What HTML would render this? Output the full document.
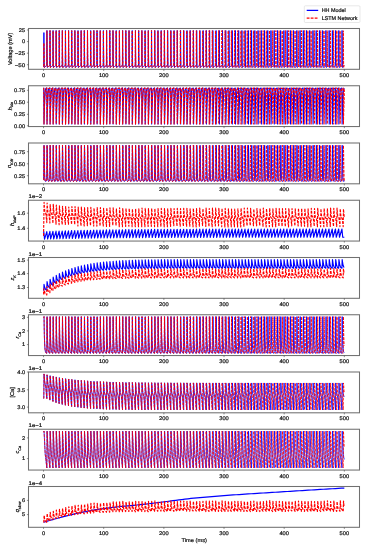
<!DOCTYPE html>
<html><head><meta charset="utf-8"><style>
html,body{margin:0;padding:0;background:#fff;width:368px;height:550px;overflow:hidden;}
svg{display:block;}
text{font-family:"Liberation Sans",sans-serif;text-rendering:geometricPrecision;}
svg{will-change:transform;transform:translateZ(0);}

</style></head><body>
<svg width="368" height="550" viewBox="0 0 368 550" font-family="Liberation Sans, sans-serif"><style>text{fill:#111;stroke:#111;stroke-width:0.2px;}</style>
<rect width="368" height="550" fill="#fff"/>
<g>
<clipPath id="c0"><rect x="28.5" y="28.5" width="331.0" height="40.8"/></clipPath>
<path clip-path="url(#c0)" d="M43.54 66.81 43.73 65.19 43.9 32.57 44.09 53.16 44.29 67.51 44.74 67.14 45.53 66.4 46.58 65.66 46.77 65.19 46.94 30.48 47.13 53.16 47.33 67.51 47.78 67.14 48.56 66.4 49.63 65.66 49.83 65.19 50 30.48 50.19 53.16 50.39 67.51 50.84 67.14 51.62 66.4 52.7 65.66 52.9 65.19 53.07 30.48 53.26 53.16 53.46 67.51 53.91 67.14 54.69 66.4 55.79 65.66 55.98 65.19 56.15 30.48 56.34 53.16 56.54 67.51 56.99 67.14 57.77 66.4 58.88 65.66 59.07 65.19 59.24 30.48 59.43 53.16 59.63 67.51 60.08 67.14 60.87 66.4 61.99 65.66 62.18 65.19 62.35 30.48 62.54 53.16 62.74 67.51 63.19 67.14 63.97 66.4 65.1 65.66 65.3 65.19 65.46 30.48 65.66 53.16 65.86 67.51 66.31 67.14 67.09 66.4 68.23 65.66 68.42 65.19 68.59 30.48 68.78 53.16 68.98 67.51 69.43 67.14 70.21 66.4 71.36 65.66 71.56 65.19 71.72 30.48 71.92 53.16 72.11 67.51 72.57 67.14 73.35 66.4 74.51 65.66 74.7 65.19 74.87 30.48 75.06 53.16 75.26 67.51 75.71 67.14 76.49 66.4 77.65 65.66 77.85 65.19 78.02 30.48 78.21 53.16 78.41 67.51 78.86 67.14 79.64 66.4 80.81 65.66 81 65.19 81.17 30.48 81.36 53.16 81.56 67.51 82.01 67.14 82.8 66.4 83.97 65.66 84.17 65.19 84.33 30.48 84.53 53.16 84.73 67.51 85.18 67.14 85.96 66.4 87.14 65.66 87.33 65.19 87.5 30.48 87.7 53.16 87.89 67.51 88.35 67.14 89.13 66.4 90.32 65.66 90.51 65.19 90.68 30.48 90.87 53.16 91.07 67.51 91.52 67.14 92.3 66.4 93.49 65.66 93.69 65.19 93.85 30.48 94.05 53.16 94.25 67.51 94.7 67.14 95.48 66.4 96.68 65.66 96.87 65.19 97.04 30.48 97.23 53.16 97.43 67.51 97.88 67.14 98.66 66.4 99.86 65.66 100.06 65.19 100.22 30.48 100.42 53.16 100.62 67.51 101.07 67.14 101.85 66.4 103.05 65.66 103.25 65.19 103.41 30.48 103.61 53.16 103.81 67.51 104.26 67.14 105.04 66.4 106.25 65.66 106.44 65.19 106.61 30.48 106.8 53.16 107 67.51 107.45 67.14 108.23 66.4 109.44 65.66 109.64 65.19 109.81 30.48 110 53.16 110.2 67.51 110.65 67.14 111.43 66.4 112.64 65.66 112.84 65.19 113.01 30.48 113.2 53.16 113.4 67.51 113.85 67.14 114.63 66.4 115.85 65.66 116.04 65.19 116.21 30.48 116.4 53.16 116.6 67.51 117.05 67.14 117.83 66.4 119.05 65.66 119.24 65.19 119.41 30.48 119.61 53.16 119.8 67.51 120.26 67.14 121.04 66.4 122.26 65.66 122.45 65.19 122.62 30.48 122.81 53.16 123.01 67.51 123.46 67.14 124.24 66.4 125.47 65.66 125.66 65.19 125.83 30.48 126.02 53.16 126.22 67.51 126.67 67.14 127.45 66.4 128.68 65.66 128.87 65.19 129.04 30.48 129.23 53.16 129.43 67.51 129.88 67.14 130.66 66.4 131.89 65.66 132.08 65.19 132.25 30.48 132.44 53.16 132.64 67.51 133.09 67.14 133.88 66.4 135.11 65.66 135.3 65.19 135.47 30.48 135.66 53.16 135.86 67.51 136.31 67.14 137.09 66.4 138.32 65.66 138.51 65.19 138.68 30.48 138.87 53.16 139.07 67.51 139.52 67.14 140.31 66.4 141.54 65.66 141.73 65.19 141.9 30.48 142.09 53.16 142.29 67.51 142.74 67.14 143.52 66.4 144.76 65.66 144.95 65.19 145.12 30.48 145.31 53.16 145.51 67.51 145.96 67.14 146.74 66.4 147.97 65.66 148.17 65.19 148.34 30.48 148.53 53.16 148.73 67.51 149.18 67.14 149.96 66.4 151.19 65.66 151.39 65.19 151.56 30.48 151.75 53.16 151.95 67.51 152.4 67.14 153.18 66.4 154.42 65.66 154.61 65.19 154.78 30.48 154.97 53.16 155.17 67.51 155.62 67.14 156.4 66.4 157.64 65.66 157.83 65.19 158 30.48 158.19 53.16 158.39 67.51 158.84 67.14 159.62 66.4 160.86 65.66 161.05 65.19 161.22 30.48 161.41 53.16 161.61 67.51 162.06 67.14 162.85 66.4 164.08 65.66 164.28 65.19 164.44 30.48 164.64 53.16 164.84 67.51 165.29 67.14 166.07 66.4 167.31 65.66 167.5 65.19 167.67 30.48 167.86 53.16 168.06 67.51 168.51 67.14 169.29 66.4 170.53 65.66 170.72 65.19 170.89 30.48 171.08 53.16 171.28 67.51 171.73 67.14 172.52 66.4 173.76 65.66 173.95 65.19 174.12 30.48 174.31 53.16 174.51 67.51 174.96 67.14 175.74 66.4 176.98 65.66 177.17 65.19 177.34 30.48 177.54 53.16 177.73 67.51 178.18 67.14 178.97 66.4 180.21 65.66 180.4 65.19 180.57 30.48 180.76 53.16 180.96 67.51 181.41 67.14 182.19 66.4 183.43 65.66 183.63 65.19 183.79 30.48 183.99 53.16 184.19 67.51 184.64 67.14 185.42 66.4 186.66 65.66 186.85 65.19 187.02 30.48 187.21 53.16 187.41 67.51 187.86 67.14 188.65 66.4 189.89 65.66 190.08 65.19 190.25 30.48 190.44 53.16 190.64 67.51 191.09 67.14 191.87 66.4 193.11 65.66 193.31 65.19 193.48 30.48 193.67 53.16 193.87 67.51 194.32 67.14 195.1 66.4 196.34 65.66 196.53 65.19 196.7 30.48 196.9 53.16 197.09 67.51 197.55 67.14 198.33 66.4 199.57 65.66 199.76 65.19 199.93 30.48 200.12 53.16 200.32 67.51 200.77 67.14 201.56 66.4 202.8 65.66 202.99 65.19 203.16 30.48 203.35 53.16 203.55 67.51 204 67.14 204.78 66.4 206.03 65.66 206.22 65.19 206.39 30.48 206.58 53.16 206.78 67.51 207.23 67.14 208.01 66.4 209.25 65.66 209.45 65.19 209.62 30.48 209.81 53.16 210.01 67.51 210.46 67.14 211.24 66.4 212.48 65.66 212.68 65.19 212.84 30.48 213.04 53.16 213.24 67.51 213.69 67.14 214.47 66.4 215.71 65.66 215.9 65.19 216.07 30.48 216.27 53.16 216.46 67.51 216.92 67.14 217.7 66.4 218.94 65.66 219.13 65.19 219.3 30.48 219.49 53.16 219.69 67.51 220.14 67.14 220.93 66.4 222.17 65.66 222.36 65.19 222.53 30.48 222.72 53.16 222.92 67.51 223.37 67.14 224.16 66.4 225.4 65.66 225.59 65.19 225.76 30.48 225.95 53.16 226.15 67.51 226.6 67.14 227.38 66.4 228.63 65.66 228.82 65.19 228.99 30.48 229.18 53.16 229.38 67.51 229.83 67.14 230.61 66.4 231.86 65.66 232.05 65.19 232.22 30.48 232.41 53.16 232.61 67.51 233.06 67.14 233.84 66.4 235.09 65.66 235.28 65.19 235.45 30.48 235.64 53.16 235.84 67.51 236.29 67.14 237.07 66.4 238.32 65.66 238.51 65.19 238.68 30.48 238.87 53.16 239.07 67.51 239.52 67.14 240.3 66.4 241.55 65.66 241.74 65.19 241.91 30.48 242.1 53.16 242.3 67.51 242.75 67.14 243.53 66.4 244.78 65.66 244.97 65.19 245.14 30.48 245.33 53.16 245.53 67.51 245.98 67.14 246.76 66.4 248.01 65.66 248.2 65.19 248.37 30.48 248.56 53.16 248.76 67.51 249.21 67.14 249.99 66.4 251.24 65.66 251.43 65.19 251.6 30.48 251.79 53.16 251.99 67.51 252.44 67.14 253.22 66.4 254.47 65.66 254.66 65.19 254.83 30.48 255.02 53.16 255.22 67.51 255.67 67.14 256.45 66.4 257.7 65.66 257.89 65.19 258.06 30.48 258.25 53.16 258.45 67.51 258.9 67.14 259.68 66.4 260.93 65.66 261.12 65.19 261.29 30.48 261.48 53.16 261.68 67.51 262.13 67.14 262.91 66.4 264.16 65.66 264.35 65.19 264.52 30.48 264.71 53.16 264.91 67.51 265.36 67.14 266.14 66.4 267.39 65.66 267.58 65.19 267.75 30.48 267.94 53.16 268.14 67.51 268.59 67.14 269.37 66.4 270.62 65.66 270.81 65.19 270.98 30.48 271.17 53.16 271.37 67.51 271.82 67.14 272.6 66.4 273.85 65.66 274.04 65.19 274.21 30.48 274.4 53.16 274.6 67.51 275.05 67.14 275.83 66.4 277.08 65.66 277.27 65.19 277.44 30.48 277.63 53.16 277.83 67.51 278.28 67.14 279.06 66.4 280.31 65.66 280.5 65.19 280.67 30.48 280.86 53.16 281.06 67.51 281.51 67.14 282.29 66.4 283.54 65.66 283.73 65.19 283.9 30.48 284.09 53.16 284.29 67.51 284.74 67.14 285.52 66.4 286.77 65.66 286.96 65.19 287.13 30.48 287.32 53.16 287.52 67.51 287.97 67.14 288.75 66.4 290 65.66 290.19 65.19 290.36 30.48 290.55 53.16 290.75 67.51 291.2 67.14 291.98 66.4 293.23 65.66 293.42 65.19 293.59 30.48 293.78 53.16 293.98 67.51 294.43 67.14 295.22 66.4 296.46 65.66 296.65 65.19 296.82 30.48 297.01 53.16 297.21 67.51 297.66 67.14 298.45 66.4 299.69 65.66 299.88 65.19 300.05 30.48 300.24 53.16 300.44 67.51 300.89 67.14 301.68 66.4 302.92 65.66 303.11 65.19 303.28 30.48 303.47 53.16 303.67 67.51 304.12 67.14 304.91 66.4 306.15 65.66 306.34 65.19 306.51 30.48 306.71 53.16 306.9 67.51 307.35 67.14 308.14 66.4 309.38 65.66 309.57 65.19 309.74 30.48 309.94 53.16 310.13 67.51 310.59 67.14 311.37 66.4 312.61 65.66 312.81 65.19 312.97 30.48 313.17 53.16 313.36 67.51 313.82 67.14 314.6 66.4 315.84 65.66 316.04 65.19 316.2 30.48 316.4 53.16 316.59 67.51 317.05 67.14 317.83 66.4 319.07 65.66 319.27 65.19 319.43 30.48 319.63 53.16 319.83 67.51 320.28 67.14 321.06 66.4 322.3 65.66 322.5 65.19 322.66 30.48 322.86 53.16 323.06 67.51 323.51 67.14 324.29 66.4 325.53 65.66 325.73 65.19 325.9 30.48 326.09 53.16 326.29 67.51 326.74 67.14 327.52 66.4 328.76 65.66 328.96 65.19 329.13 30.48 329.32 53.16 329.52 67.51 329.97 67.14 330.75 66.4 332 65.66 332.19 65.19 332.36 30.48 332.55 53.16 332.75 67.51 333.2 67.14 333.98 66.4 335.23 65.66 335.42 65.19 335.59 30.48 335.78 53.16 335.98 67.51 336.43 67.14 337.21 66.4 338.46 65.66 338.65 65.19 338.82 30.48 339.01 53.16 339.21 67.51 339.66 67.14 340.44 66.4 341.69 65.66 341.88 65.19 342.05 30.48 342.24 53.16 342.44 67.51 342.89 67.14 343.67 66.4 344.34 65.66" fill="none" stroke="#00f" stroke-width="0.95" stroke-linejoin="round"/>
<path clip-path="url(#c0)" d="M43.54 66.81 43.73 65.19 43.9 42.98 44.09 53.16 44.29 67.51 44.74 67.14 45.52 66.4 46.58 65.66 46.77 65.19 46.94 30.72 47.13 53.16 47.33 67.51 47.78 67.14 48.56 66.4 49.63 65.66 49.82 65.19 49.99 30.57 50.18 53.16 50.38 67.51 50.83 67.14 51.62 66.4 52.7 65.66 52.89 65.19 53.06 30.75 53.25 53.16 53.45 67.51 53.9 67.14 54.69 66.4 55.78 65.66 55.97 65.19 56.14 30.73 56.34 53.16 56.53 67.51 56.99 67.14 57.77 66.4 58.88 65.66 59.07 65.19 59.24 30.59 59.43 53.16 59.63 67.51 60.08 67.14 60.86 66.4 61.98 65.66 62.17 65.19 62.34 30.61 62.54 53.16 62.73 67.51 63.19 67.14 63.97 66.4 65.1 65.66 65.29 65.19 65.46 30.63 65.65 53.16 65.85 67.51 66.3 67.14 67.08 66.4 68.22 65.66 68.41 65.19 68.58 30.66 68.78 53.16 68.97 67.51 69.43 67.14 70.21 66.4 71.36 65.66 71.55 65.19 71.72 30.65 71.91 53.16 72.11 67.51 72.56 67.14 73.34 66.4 74.5 65.66 74.69 65.19 74.86 30.64 75.05 53.16 75.25 67.51 75.7 67.14 76.48 66.4 77.65 65.66 77.84 65.19 78.01 30.65 78.2 53.16 78.4 67.51 78.85 67.14 79.63 66.4 80.8 65.66 80.99 65.19 81.16 30.74 81.35 53.16 81.55 67.51 82 67.14 82.79 66.4 83.96 65.66 84.16 65.19 84.32 30.62 84.52 53.16 84.72 67.51 85.17 67.14 85.95 66.4 87.13 65.66 87.32 65.19 87.49 30.6 87.68 53.16 87.88 67.51 88.33 67.14 89.12 66.4 90.3 65.66 90.49 65.19 90.66 30.68 90.86 53.16 91.05 67.51 91.51 67.14 92.29 66.4 93.48 65.66 93.67 65.19 93.84 30.55 94.03 53.16 94.23 67.51 94.68 67.14 95.46 66.4 96.66 65.66 96.85 65.19 97.02 30.57 97.21 53.16 97.41 67.51 97.86 67.14 98.65 66.4 99.85 65.66 100.04 65.19 100.21 30.75 100.4 53.16 100.6 67.51 101.05 67.14 101.83 66.4 103.03 65.66 103.23 65.19 103.39 30.63 103.59 53.16 103.79 67.51 104.24 67.14 105.02 66.4 106.23 65.66 106.42 65.19 106.59 30.64 106.78 53.16 106.98 67.51 107.43 67.14 108.21 66.4 109.42 65.66 109.61 65.19 109.78 30.49 109.97 53.16 110.17 67.51 110.62 67.14 111.41 66.4 112.62 65.66 112.81 65.19 112.98 30.6 113.17 53.16 113.37 67.51 113.82 67.14 114.6 66.4 115.82 65.66 116.01 65.19 116.18 30.64 116.37 53.16 116.57 67.51 117.02 67.14 117.8 66.4 119.02 65.66 119.21 65.19 119.38 30.49 119.57 53.16 119.77 67.51 120.22 67.14 121 66.4 122.22 65.66 122.41 65.19 122.58 30.65 122.77 53.16 122.97 67.51 123.42 67.14 124.21 66.4 125.43 65.66 125.62 65.19 125.79 30.66 125.98 53.16 126.18 67.51 126.63 67.14 127.41 66.4 128.63 65.66 128.82 65.19 128.99 30.5 129.19 53.16 129.38 67.51 129.84 67.14 130.62 66.4 131.84 65.66 132.03 65.19 132.2 30.66 132.39 53.16 132.59 67.51 133.04 67.14 133.83 66.4 135.05 65.66 135.24 65.19 135.41 30.61 135.6 53.16 135.8 67.51 136.25 67.14 137.03 66.4 138.26 65.66 138.45 65.19 138.62 30.67 138.81 53.16 139.01 67.51 139.46 67.14 140.24 66.4 141.47 65.66 141.66 65.19 141.83 30.58 142.02 53.16 142.22 67.51 142.67 67.14 143.45 66.4 144.68 65.66 144.87 65.19 145.04 30.68 145.23 53.16 145.43 67.51 145.88 67.14 146.66 66.4 147.89 65.66 148.08 65.19 148.25 30.69 148.44 53.16 148.64 67.51 149.09 67.14 149.87 66.4 151.1 65.66 151.29 65.19 151.46 30.49 151.65 53.16 151.85 67.51 152.3 67.14 153.08 66.4 154.31 65.66 154.5 65.19 154.67 30.5 154.86 53.16 155.06 67.51 155.51 67.14 156.29 66.4 157.52 65.66 157.71 65.19 157.88 30.67 158.07 53.16 158.27 67.51 158.72 67.14 159.51 66.4 160.73 65.66 160.92 65.19 161.09 30.75 161.28 53.16 161.48 67.51 161.93 67.14 162.72 66.4 163.94 65.66 164.13 65.19 164.3 30.55 164.49 53.16 164.69 67.51 165.14 67.14 165.92 66.4 167.15 65.66 167.34 65.19 167.51 30.61 167.7 53.16 167.9 67.51 168.35 67.14 169.13 66.4 170.36 65.66 170.55 65.19 170.72 30.65 170.91 53.16 171.11 67.51 171.56 67.14 172.34 66.4 173.56 65.66 173.76 65.19 173.92 30.57 174.12 53.16 174.32 67.51 174.77 67.14 175.55 66.4 176.77 65.66 176.96 65.19 177.13 30.58 177.32 53.16 177.52 67.51 177.97 67.14 178.75 66.4 179.97 65.66 180.17 65.19 180.33 30.57 180.53 53.16 180.73 67.51 181.18 67.14 181.96 66.4 183.18 65.66 183.37 65.19 183.54 30.59 183.73 53.16 183.93 67.51 184.38 67.14 185.16 66.4 186.38 65.66 186.57 65.19 186.74 30.65 186.93 53.16 187.13 67.51 187.58 67.14 188.36 66.4 189.58 65.66 189.77 65.19 189.94 30.57 190.13 53.16 190.33 67.51 190.78 67.14 191.56 66.4 192.78 65.66 192.97 65.19 193.14 30.59 193.33 53.16 193.53 67.51 193.98 67.14 194.76 66.4 195.97 65.66 196.16 65.19 196.33 30.7 196.53 53.16 196.72 67.51 197.18 67.14 197.96 66.4 199.17 65.66 199.36 65.19 199.53 30.49 199.72 53.16 199.92 67.51 200.37 67.14 201.15 66.4 202.36 65.66 202.55 65.19 202.72 30.64 202.91 53.16 203.11 67.51 203.56 67.14 204.34 66.4 205.55 65.66 205.74 65.19 205.91 30.69 206.1 53.16 206.3 67.51 206.75 67.14 207.53 66.4 208.74 65.66 208.93 65.19 209.1 30.57 209.29 53.16 209.49 67.51 209.94 67.14 210.72 66.4 211.92 65.66 212.12 65.19 212.28 30.54 212.48 53.16 212.67 67.51 213.13 67.14 213.91 66.4 215.11 65.66 215.3 65.19 215.47 30.71 215.66 53.16 215.86 67.51 216.31 67.14 217.09 66.4 218.29 65.66 218.48 65.19 218.65 30.55 218.84 53.16 219.04 67.51 219.49 67.14 220.27 66.4 221.47 65.66 221.66 65.19 221.83 30.53 222.02 53.16 222.22 67.51 222.67 67.14 223.45 66.4 224.65 65.66 224.84 65.19 225.01 30.6 225.2 53.16 225.4 67.51 225.85 67.14 226.63 66.4 227.83 65.66 228.02 65.19 228.19 30.68 228.38 53.16 228.58 67.51 229.03 67.14 229.81 66.4 231 65.66 231.2 65.19 231.36 30.51 231.56 53.16 231.75 67.51 232.21 67.14 232.99 66.4 234.18 65.66 234.37 65.19 234.54 30.57 234.73 53.16 234.93 67.51 235.38 67.14 236.16 66.4 237.35 65.66 237.55 65.19 237.71 30.58 237.91 53.16 238.11 67.51 238.56 67.14 239.34 66.4 240.53 65.66 240.72 65.19 240.89 30.71 241.08 53.16 241.28 67.51 241.73 67.14 242.51 66.4 243.7 65.66 243.9 65.19 244.06 30.6 244.26 53.16 244.46 67.51 244.91 67.14 245.69 66.4 246.88 65.66 247.07 65.19 247.24 30.72 247.43 53.16 247.63 67.51 248.08 67.14 248.86 66.4 250.05 65.66 250.25 65.19 250.42 30.53 250.61 53.16 250.81 67.51 251.26 67.14 252.04 66.4 253.23 65.66 253.42 65.19 253.59 30.58 253.79 53.16 253.98 67.51 254.43 67.14 255.22 66.4 256.41 65.66 256.6 65.19 256.77 30.66 256.96 53.16 257.16 67.51 257.61 67.14 258.39 66.4 259.59 65.66 259.78 65.19 259.95 30.73 260.14 53.16 260.34 67.51 260.79 67.14 261.57 66.4 262.77 65.66 262.96 65.19 263.13 30.61 263.32 53.16 263.52 67.51 263.97 67.14 264.76 66.4 265.95 65.66 266.15 65.19 266.31 30.55 266.51 53.16 266.71 67.51 267.16 67.14 267.94 66.4 269.14 65.66 269.33 65.19 269.5 30.52 269.69 53.16 269.89 67.51 270.34 67.14 271.12 66.4 272.33 65.66 272.52 65.19 272.69 30.63 272.88 53.16 273.08 67.51 273.53 67.14 274.31 66.4 275.52 65.66 275.71 65.19 275.88 30.54 276.07 53.16 276.27 67.51 276.72 67.14 277.5 66.4 278.71 65.66 278.9 65.19 279.07 30.71 279.26 53.16 279.46 67.51 279.91 67.14 280.69 66.4 281.9 65.66 282.09 65.19 282.26 30.72 282.46 53.16 282.65 67.51 283.1 67.14 283.89 66.4 285.1 65.66 285.29 65.19 285.46 30.53 285.65 53.16 285.85 67.51 286.3 67.14 287.08 66.4 288.3 65.66 288.49 65.19 288.66 30.56 288.85 53.16 289.05 67.51 289.5 67.14 290.28 66.4 291.5 65.66 291.69 65.19 291.86 30.71 292.05 53.16 292.25 67.51 292.7 67.14 293.48 66.4 294.7 65.66 294.89 65.19 295.06 30.66 295.25 53.16 295.45 67.51 295.9 67.14 296.69 66.4 297.91 65.66 298.1 65.19 298.27 30.71 298.46 53.16 298.66 67.51 299.11 67.14 299.89 66.4 301.11 65.66 301.31 65.19 301.47 30.58 301.67 53.16 301.86 67.51 302.32 67.14 303.1 66.4 304.32 65.66 304.51 65.19 304.68 30.52 304.87 53.16 305.07 67.51 305.52 67.14 306.31 66.4 307.53 65.66 307.72 65.19 307.89 30.56 308.09 53.16 308.28 67.51 308.74 67.14 309.52 66.4 310.74 65.66 310.94 65.19 311.11 30.7 311.3 53.16 311.5 67.51 311.95 67.14 312.73 66.4 313.96 65.66 314.15 65.19 314.32 30.56 314.51 53.16 314.71 67.51 315.16 67.14 315.94 66.4 317.17 65.66 317.37 65.19 317.53 30.58 317.73 53.16 317.93 67.51 318.38 67.14 319.16 66.4 320.39 65.66 320.58 65.19 320.75 30.6 320.94 53.16 321.14 67.51 321.59 67.14 322.38 66.4 323.61 65.66 323.8 65.19 323.97 30.6 324.16 53.16 324.36 67.51 324.81 67.14 325.59 66.4 326.83 65.66 327.02 65.19 327.19 30.6 327.38 53.16 327.58 67.51 328.03 67.14 328.81 66.4 330.05 65.66 330.24 65.19 330.41 30.74 330.6 53.16 330.8 67.51 331.25 67.14 332.03 66.4 333.27 65.66 333.46 65.19 333.63 30.53 333.82 53.16 334.02 67.51 334.47 67.14 335.25 66.4 336.49 65.66 336.68 65.19 336.85 30.48 337.04 53.16 337.24 67.51 337.69 67.14 338.48 66.4 339.71 65.66 339.91 65.19 340.07 30.74 340.27 53.16 340.46 67.51 340.92 67.14 341.7 66.4 342.94 65.66 343.13 65.19 343.3 30.73 343.49 53.16 343.69 67.51 344.14 67.14 344.34 65.66" fill="none" stroke="#f00" stroke-width="0.95" stroke-dasharray="2.8 1.2" stroke-linejoin="round"/>
<rect x="28.5" y="28.5" width="331.0" height="40.8" fill="none" stroke="#707070" stroke-width="1.05"/>
<path d="M43.54 69.3v1.6 M103.7 69.3v1.6 M163.86 69.3v1.6 M224.02 69.3v1.6 M284.18 69.3v1.6 M344.34 69.3v1.6 M28.5 30h-1.6 M28.5 41.6h-1.6 M28.5 53.2h-1.6 M28.5 64.7h-1.6" stroke="#444" stroke-width="0.6"/>
<text x="43.54" y="76.9" font-size="5.3" text-anchor="middle" textLength="3.18" lengthAdjust="spacingAndGlyphs">0</text>
<text x="103.7" y="76.9" font-size="5.3" text-anchor="middle" textLength="9.54" lengthAdjust="spacingAndGlyphs">100</text>
<text x="163.86" y="76.9" font-size="5.3" text-anchor="middle" textLength="9.54" lengthAdjust="spacingAndGlyphs">200</text>
<text x="224.02" y="76.9" font-size="5.3" text-anchor="middle" textLength="9.54" lengthAdjust="spacingAndGlyphs">300</text>
<text x="284.18" y="76.9" font-size="5.3" text-anchor="middle" textLength="9.54" lengthAdjust="spacingAndGlyphs">400</text>
<text x="344.34" y="76.9" font-size="5.3" text-anchor="middle" textLength="9.54" lengthAdjust="spacingAndGlyphs">500</text>
<text x="25.2" y="31.85" font-size="5.3" text-anchor="end" textLength="6.36" lengthAdjust="spacingAndGlyphs">25</text>
<text x="25.2" y="43.45" font-size="5.3" text-anchor="end" textLength="3.18" lengthAdjust="spacingAndGlyphs">0</text>
<text x="25.2" y="55.05" font-size="5.3" text-anchor="end" textLength="10.55" lengthAdjust="spacingAndGlyphs">−25</text>
<text x="25.2" y="66.55" font-size="5.3" text-anchor="end" textLength="10.55" lengthAdjust="spacingAndGlyphs">−50</text>
<text transform="translate(12.0 48.9) rotate(-90)" font-size="5.6" text-anchor="middle" fill="#111">Voltage (mV)</text>
<clipPath id="c1"><rect x="28.5" y="85.75" width="331.0" height="40.8"/></clipPath>
<path clip-path="url(#c1)" d="M43.54 87.99 43.75 87.99 43.99 124.04 44.2 116.45 44.44 107.91 44.74 99.37 45.04 93.68 45.4 89.89 45.83 88.46 46.79 87.99 46.79 87.99 47.03 124.04 47.24 116.45 47.48 107.91 47.78 99.37 48.08 93.68 48.44 89.89 48.87 88.46 49.85 87.99 49.85 87.99 50.09 124.04 50.3 116.45 50.54 107.91 50.84 99.37 51.14 93.68 51.5 89.89 51.92 88.46 52.91 87.99 52.91 87.99 53.16 124.04 53.37 116.45 53.61 107.91 53.91 99.37 54.21 93.68 54.57 89.89 54.99 88.46 56 87.99 56 87.99 56.24 124.04 56.45 116.45 56.69 107.91 56.99 99.37 57.29 93.68 57.65 89.89 58.07 88.46 59.09 87.99 59.09 87.99 59.33 124.04 59.54 116.45 59.78 107.91 60.08 99.37 60.39 93.68 60.75 89.89 61.17 88.46 62.2 87.99 62.2 87.99 62.44 124.04 62.65 116.45 62.89 107.91 63.19 99.37 63.49 93.68 63.85 89.89 64.27 88.46 65.31 87.99 65.31 87.99 65.55 124.04 65.76 116.45 66.01 107.91 66.31 99.37 66.61 93.68 66.97 89.89 67.39 88.46 68.44 87.99 68.44 87.99 68.68 124.04 68.89 116.45 69.13 107.91 69.43 99.37 69.73 93.68 70.09 89.89 70.51 88.46 71.57 87.99 71.57 87.99 71.81 124.04 72.02 116.45 72.27 107.91 72.57 99.37 72.87 93.68 73.23 89.89 73.65 88.46 74.72 87.99 74.72 87.99 74.96 124.04 75.17 116.45 75.41 107.91 75.71 99.37 76.01 93.68 76.37 89.89 76.79 88.46 77.87 87.99 77.87 87.99 78.11 124.04 78.32 116.45 78.56 107.91 78.86 99.37 79.16 93.68 79.52 89.89 79.94 88.46 81.02 87.99 81.02 87.99 81.26 124.04 81.47 116.45 81.71 107.91 82.01 99.37 82.32 93.68 82.68 89.89 83.1 88.46 84.18 87.99 84.18 87.99 84.42 124.04 84.64 116.45 84.88 107.91 85.18 99.37 85.48 93.68 85.84 89.89 86.26 88.46 87.35 87.99 87.35 87.99 87.59 124.04 87.8 116.45 88.04 107.91 88.35 99.37 88.65 93.68 89.01 89.89 89.43 88.46 90.53 87.99 90.53 87.99 90.77 124.04 90.98 116.45 91.22 107.91 91.52 99.37 91.82 93.68 92.18 89.89 92.6 88.46 93.7 87.99 93.7 87.99 93.95 124.04 94.16 116.45 94.4 107.91 94.7 99.37 95 93.68 95.36 89.89 95.78 88.46 96.89 87.99 96.89 87.99 97.13 124.04 97.34 116.45 97.58 107.91 97.88 99.37 98.18 93.68 98.54 89.89 98.96 88.46 100.07 87.99 100.07 87.99 100.31 124.04 100.53 116.45 100.77 107.91 101.07 99.37 101.37 93.68 101.73 89.89 102.15 88.46 103.26 87.99 103.26 87.99 103.51 124.04 103.72 116.45 103.96 107.91 104.26 99.37 104.56 93.68 104.92 89.89 105.34 88.46 106.46 87.99 106.46 87.99 106.7 124.04 106.91 116.45 107.15 107.91 107.45 99.37 107.75 93.68 108.11 89.89 108.53 88.46 109.66 87.99 109.66 87.99 109.9 124.04 110.11 116.45 110.35 107.91 110.65 99.37 110.95 93.68 111.31 89.89 111.73 88.46 112.86 87.99 112.86 87.99 113.1 124.04 113.31 116.45 113.55 107.91 113.85 99.37 114.15 93.68 114.51 89.89 114.93 88.46 116.06 87.99 116.06 87.99 116.3 124.04 116.51 116.45 116.75 107.91 117.05 99.37 117.35 93.68 117.71 89.89 118.13 88.46 119.26 87.99 119.26 87.99 119.5 124.04 119.71 116.45 119.95 107.91 120.26 99.37 120.56 93.68 120.92 89.89 121.34 88.46 122.47 87.99 122.47 87.99 122.71 124.04 122.92 116.45 123.16 107.91 123.46 99.37 123.76 93.68 124.12 89.89 124.55 88.46 125.68 87.99 125.68 87.99 125.92 124.04 126.13 116.45 126.37 107.91 126.67 99.37 126.97 93.68 127.33 89.89 127.75 88.46 128.89 87.99 128.89 87.99 129.13 124.04 129.34 116.45 129.58 107.91 129.88 99.37 130.18 93.68 130.54 89.89 130.96 88.46 132.1 87.99 132.1 87.99 132.34 124.04 132.55 116.45 132.79 107.91 133.09 99.37 133.4 93.68 133.76 89.89 134.18 88.46 135.32 87.99 135.32 87.99 135.56 124.04 135.77 116.45 136.01 107.91 136.31 99.37 136.61 93.68 136.97 89.89 137.39 88.46 138.53 87.99 138.53 87.99 138.77 124.04 138.98 116.45 139.22 107.91 139.52 99.37 139.82 93.68 140.19 89.89 140.61 88.46 141.75 87.99 141.75 87.99 141.99 124.04 142.2 116.45 142.44 107.91 142.74 99.37 143.04 93.68 143.4 89.89 143.82 88.46 144.97 87.99 144.97 87.99 145.21 124.04 145.42 116.45 145.66 107.91 145.96 99.37 146.26 93.68 146.62 89.89 147.04 88.46 148.19 87.99 148.19 87.99 148.43 124.04 148.64 116.45 148.88 107.91 149.18 99.37 149.48 93.68 149.84 89.89 150.26 88.46 151.41 87.99 151.41 87.99 151.65 124.04 151.86 116.45 152.1 107.91 152.4 99.37 152.7 93.68 153.06 89.89 153.48 88.46 154.63 87.99 154.63 87.99 154.87 124.04 155.08 116.45 155.32 107.91 155.62 99.37 155.92 93.68 156.28 89.89 156.7 88.46 157.85 87.99 157.85 87.99 158.09 124.04 158.3 116.45 158.54 107.91 158.84 99.37 159.14 93.68 159.5 89.89 159.92 88.46 161.07 87.99 161.07 87.99 161.31 124.04 161.52 116.45 161.76 107.91 162.06 99.37 162.36 93.68 162.72 89.89 163.15 88.46 164.29 87.99 164.29 87.99 164.53 124.04 164.74 116.45 164.99 107.91 165.29 99.37 165.59 93.68 165.95 89.89 166.37 88.46 167.52 87.99 167.52 87.99 167.76 124.04 167.97 116.45 168.21 107.91 168.51 99.37 168.81 93.68 169.17 89.89 169.59 88.46 170.74 87.99 170.74 87.99 170.98 124.04 171.19 116.45 171.43 107.91 171.73 99.37 172.04 93.68 172.4 89.89 172.82 88.46 173.97 87.99 173.97 87.99 174.21 124.04 174.42 116.45 174.66 107.91 174.96 99.37 175.26 93.68 175.62 89.89 176.04 88.46 177.19 87.99 177.19 87.99 177.43 124.04 177.64 116.45 177.88 107.91 178.18 99.37 178.49 93.68 178.85 89.89 179.27 88.46 180.42 87.99 180.42 87.99 180.66 124.04 180.87 116.45 181.11 107.91 181.41 99.37 181.71 93.68 182.07 89.89 182.49 88.46 183.64 87.99 183.64 87.99 183.89 124.04 184.1 116.45 184.34 107.91 184.64 99.37 184.94 93.68 185.3 89.89 185.72 88.46 186.87 87.99 186.87 87.99 187.11 124.04 187.32 116.45 187.56 107.91 187.86 99.37 188.16 93.68 188.53 89.89 188.95 88.46 190.1 87.99 190.1 87.99 190.34 124.04 190.55 116.45 190.79 107.91 191.09 99.37 191.39 93.68 191.75 89.89 192.17 88.46 193.33 87.99 193.33 87.99 193.57 124.04 193.78 116.45 194.02 107.91 194.32 99.37 194.62 93.68 194.98 89.89 195.4 88.46 196.55 87.99 196.55 87.99 196.79 124.04 197 116.45 197.24 107.91 197.55 99.37 197.85 93.68 198.21 89.89 198.63 88.46 199.78 87.99 199.78 87.99 200.02 124.04 200.23 116.45 200.47 107.91 200.77 99.37 201.07 93.68 201.44 89.89 201.86 88.46 203.01 87.99 203.01 87.99 203.25 124.04 203.46 116.45 203.7 107.91 204 99.37 204.3 93.68 204.66 89.89 205.08 88.46 206.24 87.99 206.24 87.99 206.48 124.04 206.69 116.45 206.93 107.91 207.23 99.37 207.53 93.68 207.89 89.89 208.31 88.46 209.47 87.99 209.47 87.99 209.71 124.04 209.92 116.45 210.16 107.91 210.46 99.37 210.76 93.68 211.12 89.89 211.54 88.46 212.69 87.99 212.69 87.99 212.93 124.04 213.15 116.45 213.39 107.91 213.69 99.37 213.99 93.68 214.35 89.89 214.77 88.46 215.92 87.99 215.92 87.99 216.16 124.04 216.37 116.45 216.61 107.91 216.92 99.37 217.22 93.68 217.58 89.89 218 88.46 219.15 87.99 219.15 87.99 219.39 124.04 219.6 116.45 219.84 107.91 220.14 99.37 220.45 93.68 220.81 89.89 221.23 88.46 222.38 87.99 222.38 87.99 222.62 124.04 222.83 116.45 223.07 107.91 223.37 99.37 223.67 93.68 224.04 89.89 224.46 88.46 225.61 87.99 225.61 87.99 225.85 124.04 226.06 116.45 226.3 107.91 226.6 99.37 226.9 93.68 227.26 89.89 227.69 88.46 228.84 87.99 228.84 87.99 229.08 124.04 229.29 116.45 229.53 107.91 229.83 99.37 230.13 93.68 230.49 89.89 230.92 88.46 232.07 87.99 232.07 87.99 232.31 124.04 232.52 116.45 232.76 107.91 233.06 99.37 233.36 93.68 233.72 89.89 234.14 88.46 235.3 87.99 235.3 87.99 235.54 124.04 235.75 116.45 235.99 107.91 236.29 99.37 236.59 93.68 236.95 89.89 237.37 88.46 238.53 87.99 238.53 87.99 238.77 124.04 238.98 116.45 239.22 107.91 239.52 99.37 239.82 93.68 240.18 89.89 240.6 88.46 241.76 87.99 241.76 87.99 242 124.04 242.21 116.45 242.45 107.91 242.75 99.37 243.05 93.68 243.41 89.89 243.83 88.46 244.99 87.99 244.99 87.99 245.23 124.04 245.44 116.45 245.68 107.91 245.98 99.37 246.28 93.68 246.64 89.89 247.06 88.46 248.22 87.99 248.22 87.99 248.46 124.04 248.67 116.45 248.91 107.91 249.21 99.37 249.51 93.68 249.87 89.89 250.29 88.46 251.45 87.99 251.45 87.99 251.69 124.04 251.9 116.45 252.14 107.91 252.44 99.37 252.74 93.68 253.1 89.89 253.52 88.46 254.68 87.99 254.68 87.99 254.92 124.04 255.13 116.45 255.37 107.91 255.67 99.37 255.97 93.68 256.33 89.89 256.75 88.46 257.91 87.99 257.91 87.99 258.15 124.04 258.36 116.45 258.6 107.91 258.9 99.37 259.2 93.68 259.56 89.89 259.98 88.46 261.14 87.99 261.14 87.99 261.38 124.04 261.59 116.45 261.83 107.91 262.13 99.37 262.43 93.68 262.79 89.89 263.21 88.46 264.37 87.99 264.37 87.99 264.61 124.04 264.82 116.45 265.06 107.91 265.36 99.37 265.66 93.68 266.02 89.89 266.44 88.46 267.6 87.99 267.6 87.99 267.84 124.04 268.05 116.45 268.29 107.91 268.59 99.37 268.89 93.68 269.25 89.89 269.67 88.46 270.83 87.99 270.83 87.99 271.07 124.04 271.28 116.45 271.52 107.91 271.82 99.37 272.12 93.68 272.48 89.89 272.9 88.46 274.06 87.99 274.06 87.99 274.3 124.04 274.51 116.45 274.75 107.91 275.05 99.37 275.35 93.68 275.71 89.89 276.13 88.46 277.29 87.99 277.29 87.99 277.53 124.04 277.74 116.45 277.98 107.91 278.28 99.37 278.58 93.68 278.94 89.89 279.36 88.46 280.52 87.99 280.52 87.99 280.76 124.04 280.97 116.45 281.21 107.91 281.51 99.37 281.81 93.68 282.17 89.89 282.59 88.46 283.75 87.99 283.75 87.99 283.99 124.04 284.2 116.45 284.44 107.91 284.74 99.37 285.04 93.68 285.4 89.89 285.82 88.46 286.98 87.99 286.98 87.99 287.22 124.04 287.43 116.45 287.67 107.91 287.97 99.37 288.27 93.68 288.63 89.89 289.06 88.46 290.21 87.99 290.21 87.99 290.45 124.04 290.66 116.45 290.9 107.91 291.2 99.37 291.5 93.68 291.86 89.89 292.29 88.46 293.44 87.99 293.44 87.99 293.68 124.04 293.89 116.45 294.13 107.91 294.43 99.37 294.73 93.68 295.09 89.89 295.52 88.46 296.67 87.99 296.67 87.99 296.91 124.04 297.12 116.45 297.36 107.91 297.66 99.37 297.96 93.68 298.33 89.89 298.75 88.46 299.9 87.99 299.9 87.99 300.14 124.04 300.35 116.45 300.59 107.91 300.89 99.37 301.19 93.68 301.56 89.89 301.98 88.46 303.13 87.99 303.13 87.99 303.37 124.04 303.58 116.45 303.82 107.91 304.12 99.37 304.43 93.68 304.79 89.89 305.21 88.46 306.36 87.99 306.36 87.99 306.6 124.04 306.81 116.45 307.05 107.91 307.35 99.37 307.66 93.68 308.02 89.89 308.44 88.46 309.59 87.99 309.59 87.99 309.83 124.04 310.04 116.45 310.28 107.91 310.59 99.37 310.89 93.68 311.25 89.89 311.67 88.46 312.82 87.99 312.82 87.99 313.06 124.04 313.27 116.45 313.51 107.91 313.82 99.37 314.12 93.68 314.48 89.89 314.9 88.46 316.05 87.99 316.05 87.99 316.29 124.04 316.5 116.45 316.75 107.91 317.05 99.37 317.35 93.68 317.71 89.89 318.13 88.46 319.28 87.99 319.28 87.99 319.52 124.04 319.74 116.45 319.98 107.91 320.28 99.37 320.58 93.68 320.94 89.89 321.36 88.46 322.51 87.99 322.51 87.99 322.76 124.04 322.97 116.45 323.21 107.91 323.51 99.37 323.81 93.68 324.17 89.89 324.59 88.46 325.75 87.99 325.75 87.99 325.99 124.04 326.2 116.45 326.44 107.91 326.74 99.37 327.04 93.68 327.4 89.89 327.82 88.46 328.98 87.99 328.98 87.99 329.22 124.04 329.43 116.45 329.67 107.91 329.97 99.37 330.27 93.68 330.63 89.89 331.05 88.46 332.21 87.99 332.21 87.99 332.45 124.04 332.66 116.45 332.9 107.91 333.2 99.37 333.5 93.68 333.86 89.89 334.28 88.46 335.44 87.99 335.44 87.99 335.68 124.04 335.89 116.45 336.13 107.91 336.43 99.37 336.73 93.68 337.09 89.89 337.51 88.46 338.67 87.99 338.67 87.99 338.91 124.04 339.12 116.45 339.36 107.91 339.66 99.37 339.96 93.68 340.32 89.89 340.74 88.46 341.9 87.99 341.9 87.99 342.14 124.04 342.35 116.45 342.59 107.91 342.89 99.37 343.19 93.68 343.55 89.89 343.97 88.46 344.34 87.99" fill="none" stroke="#00f" stroke-width="1.1" stroke-linejoin="round"/>
<path clip-path="url(#c1)" d="M43.54 87.99 43.75 87.99 43.99 124.04 44.2 116.45 44.44 107.91 44.74 99.37 45.04 93.68 45.4 89.89 45.82 88.46 46.79 87.99 46.79 87.99 47.03 124.04 47.24 116.45 47.48 107.91 47.78 99.37 48.08 93.68 48.44 89.89 48.86 88.46 49.84 87.99 49.84 87.99 50.08 124.04 50.29 116.45 50.53 107.91 50.83 99.37 51.14 93.68 51.5 89.89 51.92 88.46 52.91 87.99 52.91 87.99 53.15 124.04 53.36 116.45 53.6 107.91 53.9 99.37 54.2 93.68 54.57 89.89 54.99 88.46 55.99 87.99 55.99 87.99 56.23 124.04 56.44 116.45 56.68 107.91 56.99 99.37 57.29 93.68 57.65 89.89 58.07 88.46 59.09 87.99 59.09 87.99 59.33 124.04 59.54 116.45 59.78 107.91 60.08 99.37 60.38 93.68 60.74 89.89 61.16 88.46 62.19 87.99 62.19 87.99 62.43 124.04 62.64 116.45 62.88 107.91 63.19 99.37 63.49 93.68 63.85 89.89 64.27 88.46 65.31 87.99 65.31 87.99 65.55 124.04 65.76 116.45 66 107.91 66.3 99.37 66.6 93.68 66.96 89.89 67.38 88.46 68.43 87.99 68.43 87.99 68.67 124.04 68.88 116.45 69.12 107.91 69.43 99.37 69.73 93.68 70.09 89.89 70.51 88.46 71.57 87.99 71.57 87.99 71.81 124.04 72.02 116.45 72.26 107.91 72.56 99.37 72.86 93.68 73.22 89.89 73.64 88.46 74.71 87.99 74.71 87.99 74.95 124.04 75.16 116.45 75.4 107.91 75.7 99.37 76 93.68 76.36 89.89 76.78 88.46 77.86 87.99 77.86 87.99 78.1 124.04 78.31 116.45 78.55 107.91 78.85 99.37 79.15 93.68 79.51 89.89 79.93 88.46 81.01 87.99 81.01 87.99 81.25 124.04 81.46 116.45 81.7 107.91 82 99.37 82.31 93.68 82.67 89.89 83.09 88.46 84.17 87.99 84.17 87.99 84.41 124.04 84.62 116.45 84.87 107.91 85.17 99.37 85.47 93.68 85.83 89.89 86.25 88.46 87.34 87.99 87.34 87.99 87.58 124.04 87.79 116.45 88.03 107.91 88.33 99.37 88.63 93.68 89 89.89 89.42 88.46 90.51 87.99 90.51 87.99 90.75 124.04 90.96 116.45 91.2 107.91 91.51 99.37 91.81 93.68 92.17 89.89 92.59 88.46 93.69 87.99 93.69 87.99 93.93 124.04 94.14 116.45 94.38 107.91 94.68 99.37 94.98 93.68 95.34 89.89 95.77 88.46 96.87 87.99 96.87 87.99 97.11 124.04 97.32 116.45 97.56 107.91 97.86 99.37 98.16 93.68 98.53 89.89 98.95 88.46 100.06 87.99 100.06 87.99 100.3 124.04 100.51 116.45 100.75 107.91 101.05 99.37 101.35 93.68 101.71 89.89 102.13 88.46 103.24 87.99 103.24 87.99 103.49 124.04 103.7 116.45 103.94 107.91 104.24 99.37 104.54 93.68 104.9 89.89 105.32 88.46 106.44 87.99 106.44 87.99 106.68 124.04 106.89 116.45 107.13 107.91 107.43 99.37 107.73 93.68 108.09 89.89 108.51 88.46 109.63 87.99 109.63 87.99 109.87 124.04 110.08 116.45 110.32 107.91 110.62 99.37 110.92 93.68 111.28 89.89 111.71 88.46 112.83 87.99 112.83 87.99 113.07 124.04 113.28 116.45 113.52 107.91 113.82 99.37 114.12 93.68 114.48 89.89 114.9 88.46 116.03 87.99 116.03 87.99 116.27 124.04 116.48 116.45 116.72 107.91 117.02 99.37 117.32 93.68 117.68 89.89 118.1 88.46 119.23 87.99 119.23 87.99 119.47 124.04 119.68 116.45 119.92 107.91 120.22 99.37 120.52 93.68 120.88 89.89 121.3 88.46 122.43 87.99 122.43 87.99 122.67 124.04 122.88 116.45 123.12 107.91 123.42 99.37 123.73 93.68 124.09 89.89 124.51 88.46 125.64 87.99 125.64 87.99 125.88 124.04 126.09 116.45 126.33 107.91 126.63 99.37 126.93 93.68 127.29 89.89 127.71 88.46 128.84 87.99 128.84 87.99 129.08 124.04 129.29 116.45 129.53 107.91 129.84 99.37 130.14 93.68 130.5 89.89 130.92 88.46 132.05 87.99 132.05 87.99 132.29 124.04 132.5 116.45 132.74 107.91 133.04 99.37 133.34 93.68 133.7 89.89 134.13 88.46 135.26 87.99 135.26 87.99 135.5 124.04 135.71 116.45 135.95 107.91 136.25 99.37 136.55 93.68 136.91 89.89 137.33 88.46 138.47 87.99 138.47 87.99 138.71 124.04 138.92 116.45 139.16 107.91 139.46 99.37 139.76 93.68 140.12 89.89 140.54 88.46 141.68 87.99 141.68 87.99 141.92 124.04 142.13 116.45 142.37 107.91 142.67 99.37 142.97 93.68 143.33 89.89 143.75 88.46 144.89 87.99 144.89 87.99 145.13 124.04 145.34 116.45 145.58 107.91 145.88 99.37 146.18 93.68 146.54 89.89 146.96 88.46 148.1 87.99 148.1 87.99 148.34 124.04 148.55 116.45 148.79 107.91 149.09 99.37 149.39 93.68 149.75 89.89 150.17 88.46 151.31 87.99 151.31 87.99 151.55 124.04 151.76 116.45 152 107.91 152.3 99.37 152.6 93.68 152.96 89.89 153.38 88.46 154.52 87.99 154.52 87.99 154.76 124.04 154.97 116.45 155.21 107.91 155.51 99.37 155.81 93.68 156.17 89.89 156.6 88.46 157.73 87.99 157.73 87.99 157.97 124.04 158.18 116.45 158.42 107.91 158.72 99.37 159.02 93.68 159.38 89.89 159.81 88.46 160.94 87.99 160.94 87.99 161.18 124.04 161.39 116.45 161.63 107.91 161.93 99.37 162.23 93.68 162.59 89.89 163.02 88.46 164.15 87.99 164.15 87.99 164.39 124.04 164.6 116.45 164.84 107.91 165.14 99.37 165.44 93.68 165.8 89.89 166.23 88.46 167.36 87.99 167.36 87.99 167.6 124.04 167.81 116.45 168.05 107.91 168.35 99.37 168.65 93.68 169.01 89.89 169.43 88.46 170.57 87.99 170.57 87.99 170.81 124.04 171.02 116.45 171.26 107.91 171.56 99.37 171.86 93.68 172.22 89.89 172.64 88.46 173.77 87.99 173.77 87.99 174.01 124.04 174.22 116.45 174.47 107.91 174.77 99.37 175.07 93.68 175.43 89.89 175.85 88.46 176.98 87.99 176.98 87.99 177.22 124.04 177.43 116.45 177.67 107.91 177.97 99.37 178.27 93.68 178.63 89.89 179.06 88.46 180.18 87.99 180.18 87.99 180.42 124.04 180.64 116.45 180.88 107.91 181.18 99.37 181.48 93.68 181.84 89.89 182.26 88.46 183.39 87.99 183.39 87.99 183.63 124.04 183.84 116.45 184.08 107.91 184.38 99.37 184.68 93.68 185.04 89.89 185.46 88.46 186.59 87.99 186.59 87.99 186.83 124.04 187.04 116.45 187.28 107.91 187.58 99.37 187.88 93.68 188.24 89.89 188.66 88.46 189.79 87.99 189.79 87.99 190.03 124.04 190.24 116.45 190.48 107.91 190.78 99.37 191.08 93.68 191.44 89.89 191.86 88.46 192.99 87.99 192.99 87.99 193.23 124.04 193.44 116.45 193.68 107.91 193.98 99.37 194.28 93.68 194.64 89.89 195.06 88.46 196.18 87.99 196.18 87.99 196.42 124.04 196.63 116.45 196.87 107.91 197.18 99.37 197.48 93.68 197.84 89.89 198.26 88.46 199.38 87.99 199.38 87.99 199.62 124.04 199.83 116.45 200.07 107.91 200.37 99.37 200.67 93.68 201.03 89.89 201.45 88.46 202.57 87.99 202.57 87.99 202.81 124.04 203.02 116.45 203.26 107.91 203.56 99.37 203.86 93.68 204.22 89.89 204.64 88.46 205.76 87.99 205.76 87.99 206 124.04 206.21 116.45 206.45 107.91 206.75 99.37 207.05 93.68 207.41 89.89 207.83 88.46 208.95 87.99 208.95 87.99 209.19 124.04 209.4 116.45 209.64 107.91 209.94 99.37 210.24 93.68 210.6 89.89 211.02 88.46 212.13 87.99 212.13 87.99 212.37 124.04 212.58 116.45 212.83 107.91 213.13 99.37 213.43 93.68 213.79 89.89 214.21 88.46 215.32 87.99 215.32 87.99 215.56 124.04 215.77 116.45 216.01 107.91 216.31 99.37 216.61 93.68 216.97 89.89 217.39 88.46 218.5 87.99 218.5 87.99 218.74 124.04 218.95 116.45 219.19 107.91 219.49 99.37 219.79 93.68 220.15 89.89 220.58 88.46 221.68 87.99 221.68 87.99 221.92 124.04 222.13 116.45 222.37 107.91 222.67 99.37 222.97 93.68 223.33 89.89 223.76 88.46 224.86 87.99 224.86 87.99 225.1 124.04 225.31 116.45 225.55 107.91 225.85 99.37 226.15 93.68 226.51 89.89 226.93 88.46 228.04 87.99 228.04 87.99 228.28 124.04 228.49 116.45 228.73 107.91 229.03 99.37 229.33 93.68 229.69 89.89 230.11 88.46 231.21 87.99 231.21 87.99 231.45 124.04 231.66 116.45 231.91 107.91 232.21 99.37 232.51 93.68 232.87 89.89 233.29 88.46 234.39 87.99 234.39 87.99 234.63 124.04 234.84 116.45 235.08 107.91 235.38 99.37 235.68 93.68 236.04 89.89 236.46 88.46 237.56 87.99 237.56 87.99 237.8 124.04 238.02 116.45 238.26 107.91 238.56 99.37 238.86 93.68 239.22 89.89 239.64 88.46 240.74 87.99 240.74 87.99 240.98 124.04 241.19 116.45 241.43 107.91 241.73 99.37 242.03 93.68 242.39 89.89 242.81 88.46 243.91 87.99 243.91 87.99 244.15 124.04 244.37 116.45 244.61 107.91 244.91 99.37 245.21 93.68 245.57 89.89 245.99 88.46 247.09 87.99 247.09 87.99 247.33 124.04 247.54 116.45 247.78 107.91 248.08 99.37 248.38 93.68 248.74 89.89 249.16 88.46 250.27 87.99 250.27 87.99 250.51 124.04 250.72 116.45 250.96 107.91 251.26 99.37 251.56 93.68 251.92 89.89 252.34 88.46 253.44 87.99 253.44 87.99 253.68 124.04 253.89 116.45 254.13 107.91 254.43 99.37 254.74 93.68 255.1 89.89 255.52 88.46 256.62 87.99 256.62 87.99 256.86 124.04 257.07 116.45 257.31 107.91 257.61 99.37 257.91 93.68 258.27 89.89 258.7 88.46 259.8 87.99 259.8 87.99 260.04 124.04 260.25 116.45 260.49 107.91 260.79 99.37 261.09 93.68 261.45 89.89 261.88 88.46 262.98 87.99 262.98 87.99 263.22 124.04 263.43 116.45 263.67 107.91 263.97 99.37 264.27 93.68 264.64 89.89 265.06 88.46 266.16 87.99 266.16 87.99 266.4 124.04 266.62 116.45 266.86 107.91 267.16 99.37 267.46 93.68 267.82 89.89 268.24 88.46 269.35 87.99 269.35 87.99 269.59 124.04 269.8 116.45 270.04 107.91 270.34 99.37 270.64 93.68 271 89.89 271.42 88.46 272.54 87.99 272.54 87.99 272.78 124.04 272.99 116.45 273.23 107.91 273.53 99.37 273.83 93.68 274.19 89.89 274.61 88.46 275.73 87.99 275.73 87.99 275.97 124.04 276.18 116.45 276.42 107.91 276.72 99.37 277.02 93.68 277.38 89.89 277.8 88.46 278.92 87.99 278.92 87.99 279.16 124.04 279.37 116.45 279.61 107.91 279.91 99.37 280.21 93.68 280.57 89.89 280.99 88.46 282.11 87.99 282.11 87.99 282.35 124.04 282.56 116.45 282.8 107.91 283.1 99.37 283.41 93.68 283.77 89.89 284.19 88.46 285.31 87.99 285.31 87.99 285.55 124.04 285.76 116.45 286 107.91 286.3 99.37 286.6 93.68 286.96 89.89 287.38 88.46 288.51 87.99 288.51 87.99 288.75 124.04 288.96 116.45 289.2 107.91 289.5 99.37 289.8 93.68 290.16 89.89 290.58 88.46 291.71 87.99 291.71 87.99 291.95 124.04 292.16 116.45 292.4 107.91 292.7 99.37 293 93.68 293.36 89.89 293.78 88.46 294.91 87.99 294.91 87.99 295.15 124.04 295.36 116.45 295.6 107.91 295.9 99.37 296.2 93.68 296.57 89.89 296.99 88.46 298.12 87.99 298.12 87.99 298.36 124.04 298.57 116.45 298.81 107.91 299.11 99.37 299.41 93.68 299.77 89.89 300.19 88.46 301.32 87.99 301.32 87.99 301.56 124.04 301.77 116.45 302.01 107.91 302.32 99.37 302.62 93.68 302.98 89.89 303.4 88.46 304.53 87.99 304.53 87.99 304.77 124.04 304.98 116.45 305.22 107.91 305.52 99.37 305.83 93.68 306.19 89.89 306.61 88.46 307.74 87.99 307.74 87.99 307.98 124.04 308.19 116.45 308.43 107.91 308.74 99.37 309.04 93.68 309.4 89.89 309.82 88.46 310.95 87.99 310.95 87.99 311.2 124.04 311.41 116.45 311.65 107.91 311.95 99.37 312.25 93.68 312.61 89.89 313.03 88.46 314.17 87.99 314.17 87.99 314.41 124.04 314.62 116.45 314.86 107.91 315.16 99.37 315.46 93.68 315.82 89.89 316.24 88.46 317.38 87.99 317.38 87.99 317.62 124.04 317.84 116.45 318.08 107.91 318.38 99.37 318.68 93.68 319.04 89.89 319.46 88.46 320.6 87.99 320.6 87.99 320.84 124.04 321.05 116.45 321.29 107.91 321.59 99.37 321.89 93.68 322.26 89.89 322.68 88.46 323.82 87.99 323.82 87.99 324.06 124.04 324.27 116.45 324.51 107.91 324.81 99.37 325.11 93.68 325.47 89.89 325.89 88.46 327.04 87.99 327.04 87.99 327.28 124.04 327.49 116.45 327.73 107.91 328.03 99.37 328.33 93.68 328.69 89.89 329.11 88.46 330.26 87.99 330.26 87.99 330.5 124.04 330.71 116.45 330.95 107.91 331.25 99.37 331.55 93.68 331.91 89.89 332.33 88.46 333.48 87.99 333.48 87.99 333.72 124.04 333.93 116.45 334.17 107.91 334.47 99.37 334.77 93.68 335.13 89.89 335.55 88.46 336.7 87.99 336.7 87.99 336.94 124.04 337.15 116.45 337.39 107.91 337.69 99.37 337.99 93.68 338.36 89.89 338.78 88.46 339.92 87.99 339.92 87.99 340.16 124.04 340.37 116.45 340.62 107.91 340.92 99.37 341.22 93.68 341.58 89.89 342 88.46 343.15 87.99 343.15 87.99 343.39 124.04 343.6 116.45 343.84 107.91 344.14 99.37 344.34 87.99" fill="none" stroke="#f00" stroke-width="1.1" stroke-dasharray="2.8 1.2" stroke-linejoin="round"/>
<rect x="28.5" y="85.75" width="331.0" height="40.8" fill="none" stroke="#707070" stroke-width="1.05"/>
<path d="M43.54 126.55v1.6 M103.7 126.55v1.6 M163.86 126.55v1.6 M224.02 126.55v1.6 M284.18 126.55v1.6 M344.34 126.55v1.6 M28.5 90.3h-1.6 M28.5 102.2h-1.6 M28.5 114.3h-1.6 M28.5 125.8h-1.6" stroke="#444" stroke-width="0.6"/>
<text x="43.54" y="134.15" font-size="5.3" text-anchor="middle" textLength="3.18" lengthAdjust="spacingAndGlyphs">0</text>
<text x="103.7" y="134.15" font-size="5.3" text-anchor="middle" textLength="9.54" lengthAdjust="spacingAndGlyphs">100</text>
<text x="163.86" y="134.15" font-size="5.3" text-anchor="middle" textLength="9.54" lengthAdjust="spacingAndGlyphs">200</text>
<text x="224.02" y="134.15" font-size="5.3" text-anchor="middle" textLength="9.54" lengthAdjust="spacingAndGlyphs">300</text>
<text x="284.18" y="134.15" font-size="5.3" text-anchor="middle" textLength="9.54" lengthAdjust="spacingAndGlyphs">400</text>
<text x="344.34" y="134.15" font-size="5.3" text-anchor="middle" textLength="9.54" lengthAdjust="spacingAndGlyphs">500</text>
<text x="25.2" y="92.15" font-size="5.3" text-anchor="end" textLength="11.13" lengthAdjust="spacingAndGlyphs">0.75</text>
<text x="25.2" y="104.05" font-size="5.3" text-anchor="end" textLength="11.13" lengthAdjust="spacingAndGlyphs">0.50</text>
<text x="25.2" y="116.15" font-size="5.3" text-anchor="end" textLength="11.13" lengthAdjust="spacingAndGlyphs">0.25</text>
<text x="25.2" y="127.65" font-size="5.3" text-anchor="end" textLength="11.13" lengthAdjust="spacingAndGlyphs">0.00</text>
<text transform="translate(11.700000000000001 106.15) rotate(-90)" font-size="5.6" text-anchor="middle" fill="#111"><tspan font-style="italic">h</tspan><tspan font-size="3.92" dy="1.2" font-style="italic">Na</tspan></text>
<clipPath id="c2"><rect x="28.5" y="143" width="331.0" height="40.8"/></clipPath>
<path clip-path="url(#c2)" d="M43.54 180.05 43.66 179.81 43.87 161.33 44.05 145.25 44.26 153.17 44.47 168.53 44.74 178.13 45.16 181.01 45.65 181.49 46.7 180.05 46.7 179.81 46.91 161.33 47.09 145.25 47.3 153.17 47.51 168.53 47.78 178.13 48.2 181.01 48.69 181.49 49.76 180.05 49.76 179.81 49.97 161.33 50.15 145.25 50.36 153.17 50.57 168.53 50.84 178.13 51.26 181.01 51.74 181.49 52.82 180.05 52.82 179.81 53.03 161.33 53.22 145.25 53.43 153.17 53.64 168.53 53.91 178.13 54.33 181.01 54.81 181.49 55.91 180.05 55.91 179.81 56.12 161.33 56.3 145.25 56.51 153.17 56.72 168.53 56.99 178.13 57.41 181.01 57.89 181.49 59 180.05 59 179.81 59.21 161.33 59.39 145.25 59.6 153.17 59.81 168.53 60.08 178.13 60.51 181.01 60.99 181.49 62.11 180.05 62.11 179.81 62.32 161.33 62.5 145.25 62.71 153.17 62.92 168.53 63.19 178.13 63.61 181.01 64.09 181.49 65.22 180.05 65.22 179.81 65.43 161.33 65.61 145.25 65.82 153.17 66.04 168.53 66.31 178.13 66.73 181.01 67.21 181.49 68.35 180.05 68.35 179.81 68.56 161.33 68.74 145.25 68.95 153.17 69.16 168.53 69.43 178.13 69.85 181.01 70.33 181.49 71.48 180.05 71.48 179.81 71.69 161.33 71.87 145.25 72.08 153.17 72.3 168.53 72.57 178.13 72.99 181.01 73.47 181.49 74.63 180.05 74.63 179.81 74.84 161.33 75.02 145.25 75.23 153.17 75.44 168.53 75.71 178.13 76.13 181.01 76.61 181.49 77.78 180.05 77.78 179.81 77.99 161.33 78.17 145.25 78.38 153.17 78.59 168.53 78.86 178.13 79.28 181.01 79.76 181.49 80.93 180.05 80.93 179.81 81.14 161.33 81.32 145.25 81.53 153.17 81.74 168.53 82.01 178.13 82.44 181.01 82.92 181.49 84.09 180.05 84.09 179.81 84.3 161.33 84.49 145.25 84.7 153.17 84.91 168.53 85.18 178.13 85.6 181.01 86.08 181.49 87.26 180.05 87.26 179.81 87.47 161.33 87.65 145.25 87.86 153.17 88.07 168.53 88.35 178.13 88.77 181.01 89.25 181.49 90.44 180.05 90.44 179.81 90.65 161.33 90.83 145.25 91.04 153.17 91.25 168.53 91.52 178.13 91.94 181.01 92.42 181.49 93.61 180.05 93.61 179.81 93.82 161.33 94.01 145.25 94.22 153.17 94.43 168.53 94.7 178.13 95.12 181.01 95.6 181.49 96.8 180.05 96.8 179.81 97.01 161.33 97.19 145.25 97.4 153.17 97.61 168.53 97.88 178.13 98.3 181.01 98.78 181.49 99.98 180.05 99.98 179.81 100.19 161.33 100.37 145.25 100.59 153.17 100.8 168.53 101.07 178.13 101.49 181.01 101.97 181.49 103.17 180.05 103.17 179.81 103.38 161.33 103.57 145.25 103.78 153.17 103.99 168.53 104.26 178.13 104.68 181.01 105.16 181.49 106.37 180.05 106.37 179.81 106.58 161.33 106.76 145.25 106.97 153.17 107.18 168.53 107.45 178.13 107.87 181.01 108.35 181.49 109.57 180.05 109.57 179.81 109.78 161.33 109.96 145.25 110.17 153.17 110.38 168.53 110.65 178.13 111.07 181.01 111.55 181.49 112.77 180.05 112.77 179.81 112.98 161.33 113.16 145.25 113.37 153.17 113.58 168.53 113.85 178.13 114.27 181.01 114.75 181.49 115.97 180.05 115.97 179.81 116.18 161.33 116.36 145.25 116.57 153.17 116.78 168.53 117.05 178.13 117.47 181.01 117.95 181.49 119.17 180.05 119.17 179.81 119.38 161.33 119.56 145.25 119.77 153.17 119.98 168.53 120.26 178.13 120.68 181.01 121.16 181.49 122.38 180.05 122.38 179.81 122.59 161.33 122.77 145.25 122.98 153.17 123.19 168.53 123.46 178.13 123.88 181.01 124.36 181.49 125.59 180.05 125.59 179.81 125.8 161.33 125.98 145.25 126.19 153.17 126.4 168.53 126.67 178.13 127.09 181.01 127.57 181.49 128.8 180.05 128.8 179.81 129.01 161.33 129.19 145.25 129.4 153.17 129.61 168.53 129.88 178.13 130.3 181.01 130.78 181.49 132.01 180.05 132.01 179.81 132.22 161.33 132.4 145.25 132.61 153.17 132.82 168.53 133.09 178.13 133.52 181.01 134 181.49 135.23 180.05 135.23 179.81 135.44 161.33 135.62 145.25 135.83 153.17 136.04 168.53 136.31 178.13 136.73 181.01 137.21 181.49 138.44 180.05 138.44 179.81 138.65 161.33 138.83 145.25 139.04 153.17 139.25 168.53 139.52 178.13 139.95 181.01 140.43 181.49 141.66 180.05 141.66 179.81 141.87 161.33 142.05 145.25 142.26 153.17 142.47 168.53 142.74 178.13 143.16 181.01 143.64 181.49 144.88 180.05 144.88 179.81 145.09 161.33 145.27 145.25 145.48 153.17 145.69 168.53 145.96 178.13 146.38 181.01 146.86 181.49 148.1 180.05 148.1 179.81 148.31 161.33 148.49 145.25 148.7 153.17 148.91 168.53 149.18 178.13 149.6 181.01 150.08 181.49 151.32 180.05 151.32 179.81 151.53 161.33 151.71 145.25 151.92 153.17 152.13 168.53 152.4 178.13 152.82 181.01 153.3 181.49 154.54 180.05 154.54 179.81 154.75 161.33 154.93 145.25 155.14 153.17 155.35 168.53 155.62 178.13 156.04 181.01 156.52 181.49 157.76 180.05 157.76 179.81 157.97 161.33 158.15 145.25 158.36 153.17 158.57 168.53 158.84 178.13 159.26 181.01 159.74 181.49 160.98 180.05 160.98 179.81 161.19 161.33 161.37 145.25 161.58 153.17 161.79 168.53 162.06 178.13 162.48 181.01 162.97 181.49 164.2 180.05 164.2 179.81 164.41 161.33 164.59 145.25 164.81 153.17 165.02 168.53 165.29 178.13 165.71 181.01 166.19 181.49 167.43 180.05 167.43 179.81 167.64 161.33 167.82 145.25 168.03 153.17 168.24 168.53 168.51 178.13 168.93 181.01 169.41 181.49 170.65 180.05 170.65 179.81 170.86 161.33 171.04 145.25 171.25 153.17 171.46 168.53 171.73 178.13 172.16 181.01 172.64 181.49 173.88 180.05 173.88 179.81 174.09 161.33 174.27 145.25 174.48 153.17 174.69 168.53 174.96 178.13 175.38 181.01 175.86 181.49 177.1 180.05 177.1 179.81 177.31 161.33 177.49 145.25 177.7 153.17 177.91 168.53 178.18 178.13 178.61 181.01 179.09 181.49 180.33 180.05 180.33 179.81 180.54 161.33 180.72 145.25 180.93 153.17 181.14 168.53 181.41 178.13 181.83 181.01 182.31 181.49 183.55 180.05 183.55 179.81 183.76 161.33 183.95 145.25 184.16 153.17 184.37 168.53 184.64 178.13 185.06 181.01 185.54 181.49 186.78 180.05 186.78 179.81 186.99 161.33 187.17 145.25 187.38 153.17 187.59 168.53 187.86 178.13 188.28 181.01 188.77 181.49 190.01 180.05 190.01 179.81 190.22 161.33 190.4 145.25 190.61 153.17 190.82 168.53 191.09 178.13 191.51 181.01 191.99 181.49 193.24 180.05 193.24 179.81 193.45 161.33 193.63 145.25 193.84 153.17 194.05 168.53 194.32 178.13 194.74 181.01 195.22 181.49 196.46 180.05 196.46 179.81 196.67 161.33 196.85 145.25 197.06 153.17 197.27 168.53 197.55 178.13 197.97 181.01 198.45 181.49 199.69 180.05 199.69 179.81 199.9 161.33 200.08 145.25 200.29 153.17 200.5 168.53 200.77 178.13 201.19 181.01 201.68 181.49 202.92 180.05 202.92 179.81 203.13 161.33 203.31 145.25 203.52 153.17 203.73 168.53 204 178.13 204.42 181.01 204.9 181.49 206.15 180.05 206.15 179.81 206.36 161.33 206.54 145.25 206.75 153.17 206.96 168.53 207.23 178.13 207.65 181.01 208.13 181.49 209.38 180.05 209.38 179.81 209.59 161.33 209.77 145.25 209.98 153.17 210.19 168.53 210.46 178.13 210.88 181.01 211.36 181.49 212.6 180.05 212.6 179.81 212.81 161.33 212.99 145.25 213.21 153.17 213.42 168.53 213.69 178.13 214.11 181.01 214.59 181.49 215.83 180.05 215.83 179.81 216.04 161.33 216.22 145.25 216.43 153.17 216.64 168.53 216.92 178.13 217.34 181.01 217.82 181.49 219.06 180.05 219.06 179.81 219.27 161.33 219.45 145.25 219.66 153.17 219.87 168.53 220.14 178.13 220.57 181.01 221.05 181.49 222.29 180.05 222.29 179.81 222.5 161.33 222.68 145.25 222.89 153.17 223.1 168.53 223.37 178.13 223.79 181.01 224.28 181.49 225.52 180.05 225.52 179.81 225.73 161.33 225.91 145.25 226.12 153.17 226.33 168.53 226.6 178.13 227.02 181.01 227.51 181.49 228.75 180.05 228.75 179.81 228.96 161.33 229.14 145.25 229.35 153.17 229.56 168.53 229.83 178.13 230.25 181.01 230.73 181.49 231.98 180.05 231.98 179.81 232.19 161.33 232.37 145.25 232.58 153.17 232.79 168.53 233.06 178.13 233.48 181.01 233.96 181.49 235.21 180.05 235.21 179.81 235.42 161.33 235.6 145.25 235.81 153.17 236.02 168.53 236.29 178.13 236.71 181.01 237.19 181.49 238.44 180.05 238.44 179.81 238.65 161.33 238.83 145.25 239.04 153.17 239.25 168.53 239.52 178.13 239.94 181.01 240.42 181.49 241.67 180.05 241.67 179.81 241.88 161.33 242.06 145.25 242.27 153.17 242.48 168.53 242.75 178.13 243.17 181.01 243.65 181.49 244.9 180.05 244.9 179.81 245.11 161.33 245.29 145.25 245.5 153.17 245.71 168.53 245.98 178.13 246.4 181.01 246.88 181.49 248.13 180.05 248.13 179.81 248.34 161.33 248.52 145.25 248.73 153.17 248.94 168.53 249.21 178.13 249.63 181.01 250.11 181.49 251.36 180.05 251.36 179.81 251.57 161.33 251.75 145.25 251.96 153.17 252.17 168.53 252.44 178.13 252.86 181.01 253.34 181.49 254.59 180.05 254.59 179.81 254.8 161.33 254.98 145.25 255.19 153.17 255.4 168.53 255.67 178.13 256.09 181.01 256.57 181.49 257.82 180.05 257.82 179.81 258.03 161.33 258.21 145.25 258.42 153.17 258.63 168.53 258.9 178.13 259.32 181.01 259.8 181.49 261.05 180.05 261.05 179.81 261.26 161.33 261.44 145.25 261.65 153.17 261.86 168.53 262.13 178.13 262.55 181.01 263.03 181.49 264.28 180.05 264.28 179.81 264.49 161.33 264.67 145.25 264.88 153.17 265.09 168.53 265.36 178.13 265.78 181.01 266.26 181.49 267.51 180.05 267.51 179.81 267.72 161.33 267.9 145.25 268.11 153.17 268.32 168.53 268.59 178.13 269.01 181.01 269.49 181.49 270.74 180.05 270.74 179.81 270.95 161.33 271.13 145.25 271.34 153.17 271.55 168.53 271.82 178.13 272.24 181.01 272.72 181.49 273.97 180.05 273.97 179.81 274.18 161.33 274.36 145.25 274.57 153.17 274.78 168.53 275.05 178.13 275.47 181.01 275.95 181.49 277.2 180.05 277.2 179.81 277.41 161.33 277.59 145.25 277.8 153.17 278.01 168.53 278.28 178.13 278.7 181.01 279.18 181.49 280.43 180.05 280.43 179.81 280.64 161.33 280.82 145.25 281.03 153.17 281.24 168.53 281.51 178.13 281.93 181.01 282.41 181.49 283.66 180.05 283.66 179.81 283.87 161.33 284.05 145.25 284.26 153.17 284.47 168.53 284.74 178.13 285.16 181.01 285.64 181.49 286.89 180.05 286.89 179.81 287.1 161.33 287.28 145.25 287.49 153.17 287.7 168.53 287.97 178.13 288.39 181.01 288.87 181.49 290.12 180.05 290.12 179.81 290.33 161.33 290.51 145.25 290.72 153.17 290.93 168.53 291.2 178.13 291.62 181.01 292.11 181.49 293.35 180.05 293.35 179.81 293.56 161.33 293.74 145.25 293.95 153.17 294.16 168.53 294.43 178.13 294.85 181.01 295.34 181.49 296.58 180.05 296.58 179.81 296.79 161.33 296.97 145.25 297.18 153.17 297.39 168.53 297.66 178.13 298.08 181.01 298.57 181.49 299.81 180.05 299.81 179.81 300.02 161.33 300.2 145.25 300.41 153.17 300.62 168.53 300.89 178.13 301.32 181.01 301.8 181.49 303.04 180.05 303.04 179.81 303.25 161.33 303.43 145.25 303.64 153.17 303.85 168.53 304.12 178.13 304.55 181.01 305.03 181.49 306.27 180.05 306.27 179.81 306.48 161.33 306.66 145.25 306.87 153.17 307.08 168.53 307.35 178.13 307.78 181.01 308.26 181.49 309.5 180.05 309.5 179.81 309.71 161.33 309.89 145.25 310.1 153.17 310.31 168.53 310.59 178.13 311.01 181.01 311.49 181.49 312.73 180.05 312.73 179.81 312.94 161.33 313.12 145.25 313.33 153.17 313.54 168.53 313.82 178.13 314.24 181.01 314.72 181.49 315.96 180.05 315.96 179.81 316.17 161.33 316.35 145.25 316.56 153.17 316.78 168.53 317.05 178.13 317.47 181.01 317.95 181.49 319.19 180.05 319.19 179.81 319.4 161.33 319.58 145.25 319.8 153.17 320.01 168.53 320.28 178.13 320.7 181.01 321.18 181.49 322.42 180.05 322.42 179.81 322.63 161.33 322.82 145.25 323.03 153.17 323.24 168.53 323.51 178.13 323.93 181.01 324.41 181.49 325.65 180.05 325.65 179.81 325.87 161.33 326.05 145.25 326.26 153.17 326.47 168.53 326.74 178.13 327.16 181.01 327.64 181.49 328.89 180.05 328.89 179.81 329.1 161.33 329.28 145.25 329.49 153.17 329.7 168.53 329.97 178.13 330.39 181.01 330.87 181.49 332.12 180.05 332.12 179.81 332.33 161.33 332.51 145.25 332.72 153.17 332.93 168.53 333.2 178.13 333.62 181.01 334.1 181.49 335.35 180.05 335.35 179.81 335.56 161.33 335.74 145.25 335.95 153.17 336.16 168.53 336.43 178.13 336.85 181.01 337.33 181.49 338.58 180.05 338.58 179.81 338.79 161.33 338.97 145.25 339.18 153.17 339.39 168.53 339.66 178.13 340.08 181.01 340.56 181.49 341.81 180.05 341.81 179.81 342.02 161.33 342.2 145.25 342.41 153.17 342.62 168.53 342.89 178.13 343.31 181.01 343.79 181.49 344.34 180.53" fill="none" stroke="#00f" stroke-width="0.95" stroke-linejoin="round"/>
<path clip-path="url(#c2)" d="M43.54 180.05 43.66 179.81 43.87 161.33 44.05 145.25 44.26 153.17 44.47 168.53 44.74 178.13 45.16 181.01 45.64 181.49 46.7 180.05 46.7 179.81 46.91 161.33 47.09 145.25 47.3 153.17 47.51 168.53 47.78 178.13 48.2 181.01 48.68 181.49 49.75 180.05 49.75 179.81 49.96 161.33 50.14 145.25 50.35 153.17 50.56 168.53 50.83 178.13 51.26 181.01 51.74 181.49 52.82 180.05 52.82 179.81 53.03 161.33 53.21 145.25 53.42 153.17 53.63 168.53 53.9 178.13 54.32 181.01 54.81 181.49 55.9 180.05 55.9 179.81 56.11 161.33 56.29 145.25 56.5 153.17 56.71 168.53 56.99 178.13 57.41 181.01 57.89 181.49 59 180.05 59 179.81 59.21 161.33 59.39 145.25 59.6 153.17 59.81 168.53 60.08 178.13 60.5 181.01 60.98 181.49 62.1 180.05 62.1 179.81 62.31 161.33 62.49 145.25 62.7 153.17 62.91 168.53 63.19 178.13 63.61 181.01 64.09 181.49 65.22 180.05 65.22 179.81 65.43 161.33 65.61 145.25 65.82 153.17 66.03 168.53 66.3 178.13 66.72 181.01 67.2 181.49 68.34 180.05 68.34 179.81 68.55 161.33 68.73 145.25 68.94 153.17 69.15 168.53 69.43 178.13 69.85 181.01 70.33 181.49 71.48 180.05 71.48 179.81 71.69 161.33 71.87 145.25 72.08 153.17 72.29 168.53 72.56 178.13 72.98 181.01 73.46 181.49 74.62 180.05 74.62 179.81 74.83 161.33 75.01 145.25 75.22 153.17 75.43 168.53 75.7 178.13 76.12 181.01 76.6 181.49 77.77 180.05 77.77 179.81 77.98 161.33 78.16 145.25 78.37 153.17 78.58 168.53 78.85 178.13 79.27 181.01 79.75 181.49 80.92 180.05 80.92 179.81 81.13 161.33 81.31 145.25 81.52 153.17 81.73 168.53 82 178.13 82.43 181.01 82.91 181.49 84.08 180.05 84.08 179.81 84.29 161.33 84.47 145.25 84.68 153.17 84.9 168.53 85.17 178.13 85.59 181.01 86.07 181.49 87.25 180.05 87.25 179.81 87.46 161.33 87.64 145.25 87.85 153.17 88.06 168.53 88.33 178.13 88.75 181.01 89.24 181.49 90.42 180.05 90.42 179.81 90.63 161.33 90.81 145.25 91.02 153.17 91.23 168.53 91.51 178.13 91.93 181.01 92.41 181.49 93.6 180.05 93.6 179.81 93.81 161.33 93.99 145.25 94.2 153.17 94.41 168.53 94.68 178.13 95.1 181.01 95.58 181.49 96.78 180.05 96.78 179.81 96.99 161.33 97.17 145.25 97.38 153.17 97.59 168.53 97.86 178.13 98.28 181.01 98.77 181.49 99.97 180.05 99.97 179.81 100.18 161.33 100.36 145.25 100.57 153.17 100.78 168.53 101.05 178.13 101.47 181.01 101.95 181.49 103.15 180.05 103.15 179.81 103.36 161.33 103.55 145.25 103.76 153.17 103.97 168.53 104.24 178.13 104.66 181.01 105.14 181.49 106.35 180.05 106.35 179.81 106.56 161.33 106.74 145.25 106.95 153.17 107.16 168.53 107.43 178.13 107.85 181.01 108.33 181.49 109.54 180.05 109.54 179.81 109.75 161.33 109.93 145.25 110.14 153.17 110.35 168.53 110.62 178.13 111.04 181.01 111.53 181.49 112.74 180.05 112.74 179.81 112.95 161.33 113.13 145.25 113.34 153.17 113.55 168.53 113.82 178.13 114.24 181.01 114.72 181.49 115.94 180.05 115.94 179.81 116.15 161.33 116.33 145.25 116.54 153.17 116.75 168.53 117.02 178.13 117.44 181.01 117.92 181.49 119.14 180.05 119.14 179.81 119.35 161.33 119.53 145.25 119.74 153.17 119.95 168.53 120.22 178.13 120.64 181.01 121.12 181.49 122.34 180.05 122.34 179.81 122.55 161.33 122.73 145.25 122.94 153.17 123.15 168.53 123.42 178.13 123.85 181.01 124.33 181.49 125.55 180.05 125.55 179.81 125.76 161.33 125.94 145.25 126.15 153.17 126.36 168.53 126.63 178.13 127.05 181.01 127.53 181.49 128.75 180.05 128.75 179.81 128.96 161.33 129.14 145.25 129.35 153.17 129.56 168.53 129.84 178.13 130.26 181.01 130.74 181.49 131.96 180.05 131.96 179.81 132.17 161.33 132.35 145.25 132.56 153.17 132.77 168.53 133.04 178.13 133.46 181.01 133.95 181.49 135.17 180.05 135.17 179.81 135.38 161.33 135.56 145.25 135.77 153.17 135.98 168.53 136.25 178.13 136.67 181.01 137.15 181.49 138.38 180.05 138.38 179.81 138.59 161.33 138.77 145.25 138.98 153.17 139.19 168.53 139.46 178.13 139.88 181.01 140.36 181.49 141.59 180.05 141.59 179.81 141.8 161.33 141.98 145.25 142.19 153.17 142.4 168.53 142.67 178.13 143.09 181.01 143.57 181.49 144.8 180.05 144.8 179.81 145.01 161.33 145.19 145.25 145.4 153.17 145.61 168.53 145.88 178.13 146.3 181.01 146.78 181.49 148.01 180.05 148.01 179.81 148.22 161.33 148.4 145.25 148.61 153.17 148.82 168.53 149.09 178.13 149.51 181.01 149.99 181.49 151.22 180.05 151.22 179.81 151.43 161.33 151.61 145.25 151.82 153.17 152.03 168.53 152.3 178.13 152.72 181.01 153.2 181.49 154.43 180.05 154.43 179.81 154.64 161.33 154.82 145.25 155.03 153.17 155.24 168.53 155.51 178.13 155.93 181.01 156.42 181.49 157.64 180.05 157.64 179.81 157.85 161.33 158.03 145.25 158.24 153.17 158.45 168.53 158.72 178.13 159.14 181.01 159.63 181.49 160.85 180.05 160.85 179.81 161.06 161.33 161.24 145.25 161.45 153.17 161.66 168.53 161.93 178.13 162.35 181.01 162.84 181.49 164.06 180.05 164.06 179.81 164.27 161.33 164.45 145.25 164.66 153.17 164.87 168.53 165.14 178.13 165.56 181.01 166.04 181.49 167.27 180.05 167.27 179.81 167.48 161.33 167.66 145.25 167.87 153.17 168.08 168.53 168.35 178.13 168.77 181.01 169.25 181.49 170.48 180.05 170.48 179.81 170.69 161.33 170.87 145.25 171.08 153.17 171.29 168.53 171.56 178.13 171.98 181.01 172.46 181.49 173.68 180.05 173.68 179.81 173.89 161.33 174.07 145.25 174.29 153.17 174.5 168.53 174.77 178.13 175.19 181.01 175.67 181.49 176.89 180.05 176.89 179.81 177.1 161.33 177.28 145.25 177.49 153.17 177.7 168.53 177.97 178.13 178.39 181.01 178.87 181.49 180.09 180.05 180.09 179.81 180.3 161.33 180.48 145.25 180.7 153.17 180.91 168.53 181.18 178.13 181.6 181.01 182.08 181.49 183.3 180.05 183.3 179.81 183.51 161.33 183.69 145.25 183.9 153.17 184.11 168.53 184.38 178.13 184.8 181.01 185.28 181.49 186.5 180.05 186.5 179.81 186.71 161.33 186.89 145.25 187.1 153.17 187.31 168.53 187.58 178.13 188 181.01 188.48 181.49 189.7 180.05 189.7 179.81 189.91 161.33 190.09 145.25 190.3 153.17 190.51 168.53 190.78 178.13 191.2 181.01 191.68 181.49 192.9 180.05 192.9 179.81 193.11 161.33 193.29 145.25 193.5 153.17 193.71 168.53 193.98 178.13 194.4 181.01 194.88 181.49 196.09 180.05 196.09 179.81 196.3 161.33 196.48 145.25 196.69 153.17 196.9 168.53 197.18 178.13 197.6 181.01 198.08 181.49 199.29 180.05 199.29 179.81 199.5 161.33 199.68 145.25 199.89 153.17 200.1 168.53 200.37 178.13 200.79 181.01 201.27 181.49 202.48 180.05 202.48 179.81 202.69 161.33 202.87 145.25 203.08 153.17 203.29 168.53 203.56 178.13 203.98 181.01 204.46 181.49 205.67 180.05 205.67 179.81 205.88 161.33 206.06 145.25 206.27 153.17 206.48 168.53 206.75 178.13 207.17 181.01 207.65 181.49 208.86 180.05 208.86 179.81 209.07 161.33 209.25 145.25 209.46 153.17 209.67 168.53 209.94 178.13 210.36 181.01 210.84 181.49 212.04 180.05 212.04 179.81 212.25 161.33 212.43 145.25 212.64 153.17 212.86 168.53 213.13 178.13 213.55 181.01 214.03 181.49 215.23 180.05 215.23 179.81 215.44 161.33 215.62 145.25 215.83 153.17 216.04 168.53 216.31 178.13 216.73 181.01 217.21 181.49 218.41 180.05 218.41 179.81 218.62 161.33 218.8 145.25 219.01 153.17 219.22 168.53 219.49 178.13 219.91 181.01 220.39 181.49 221.59 180.05 221.59 179.81 221.8 161.33 221.98 145.25 222.19 153.17 222.4 168.53 222.67 178.13 223.09 181.01 223.58 181.49 224.77 180.05 224.77 179.81 224.98 161.33 225.16 145.25 225.37 153.17 225.58 168.53 225.85 178.13 226.27 181.01 226.75 181.49 227.95 180.05 227.95 179.81 228.16 161.33 228.34 145.25 228.55 153.17 228.76 168.53 229.03 178.13 229.45 181.01 229.93 181.49 231.12 180.05 231.12 179.81 231.33 161.33 231.51 145.25 231.72 153.17 231.94 168.53 232.21 178.13 232.63 181.01 233.11 181.49 234.3 180.05 234.3 179.81 234.51 161.33 234.69 145.25 234.9 153.17 235.11 168.53 235.38 178.13 235.8 181.01 236.28 181.49 237.47 180.05 237.47 179.81 237.68 161.33 237.86 145.25 238.08 153.17 238.29 168.53 238.56 178.13 238.98 181.01 239.46 181.49 240.65 180.05 240.65 179.81 240.86 161.33 241.04 145.25 241.25 153.17 241.46 168.53 241.73 178.13 242.15 181.01 242.63 181.49 243.82 180.05 243.82 179.81 244.03 161.33 244.21 145.25 244.43 153.17 244.64 168.53 244.91 178.13 245.33 181.01 245.81 181.49 247 180.05 247 179.81 247.21 161.33 247.39 145.25 247.6 153.17 247.81 168.53 248.08 178.13 248.5 181.01 248.98 181.49 250.17 180.05 250.17 179.81 250.39 161.33 250.57 145.25 250.78 153.17 250.99 168.53 251.26 178.13 251.68 181.01 252.16 181.49 253.35 180.05 253.35 179.81 253.56 161.33 253.74 145.25 253.95 153.17 254.16 168.53 254.43 178.13 254.86 181.01 255.34 181.49 256.53 180.05 256.53 179.81 256.74 161.33 256.92 145.25 257.13 153.17 257.34 168.53 257.61 178.13 258.03 181.01 258.52 181.49 259.71 180.05 259.71 179.81 259.92 161.33 260.1 145.25 260.31 153.17 260.52 168.53 260.79 178.13 261.21 181.01 261.69 181.49 262.89 180.05 262.89 179.81 263.1 161.33 263.28 145.25 263.49 153.17 263.7 168.53 263.97 178.13 264.39 181.01 264.88 181.49 266.07 180.05 266.07 179.81 266.28 161.33 266.47 145.25 266.68 153.17 266.89 168.53 267.16 178.13 267.58 181.01 268.06 181.49 269.26 180.05 269.26 179.81 269.47 161.33 269.65 145.25 269.86 153.17 270.07 168.53 270.34 178.13 270.76 181.01 271.24 181.49 272.45 180.05 272.45 179.81 272.66 161.33 272.84 145.25 273.05 153.17 273.26 168.53 273.53 178.13 273.95 181.01 274.43 181.49 275.64 180.05 275.64 179.81 275.85 161.33 276.03 145.25 276.24 153.17 276.45 168.53 276.72 178.13 277.14 181.01 277.62 181.49 278.83 180.05 278.83 179.81 279.04 161.33 279.22 145.25 279.43 153.17 279.64 168.53 279.91 178.13 280.33 181.01 280.81 181.49 282.02 180.05 282.02 179.81 282.23 161.33 282.41 145.25 282.62 153.17 282.83 168.53 283.1 178.13 283.53 181.01 284.01 181.49 285.22 180.05 285.22 179.81 285.43 161.33 285.61 145.25 285.82 153.17 286.03 168.53 286.3 178.13 286.72 181.01 287.2 181.49 288.42 180.05 288.42 179.81 288.63 161.33 288.81 145.25 289.02 153.17 289.23 168.53 289.5 178.13 289.92 181.01 290.4 181.49 291.62 180.05 291.62 179.81 291.83 161.33 292.01 145.25 292.22 153.17 292.43 168.53 292.7 178.13 293.12 181.01 293.6 181.49 294.82 180.05 294.82 179.81 295.03 161.33 295.21 145.25 295.42 153.17 295.63 168.53 295.9 178.13 296.32 181.01 296.81 181.49 298.03 180.05 298.03 179.81 298.24 161.33 298.42 145.25 298.63 153.17 298.84 168.53 299.11 178.13 299.53 181.01 300.01 181.49 301.23 180.05 301.23 179.81 301.44 161.33 301.62 145.25 301.83 153.17 302.04 168.53 302.32 178.13 302.74 181.01 303.22 181.49 304.44 180.05 304.44 179.81 304.65 161.33 304.83 145.25 305.04 153.17 305.25 168.53 305.52 178.13 305.95 181.01 306.43 181.49 307.65 180.05 307.65 179.81 307.86 161.33 308.04 145.25 308.25 153.17 308.46 168.53 308.74 178.13 309.16 181.01 309.64 181.49 310.86 180.05 310.86 179.81 311.08 161.33 311.26 145.25 311.47 153.17 311.68 168.53 311.95 178.13 312.37 181.01 312.85 181.49 314.08 180.05 314.08 179.81 314.29 161.33 314.47 145.25 314.68 153.17 314.89 168.53 315.16 178.13 315.58 181.01 316.06 181.49 317.29 180.05 317.29 179.81 317.5 161.33 317.68 145.25 317.9 153.17 318.11 168.53 318.38 178.13 318.8 181.01 319.28 181.49 320.51 180.05 320.51 179.81 320.72 161.33 320.9 145.25 321.11 153.17 321.32 168.53 321.59 178.13 322.01 181.01 322.5 181.49 323.73 180.05 323.73 179.81 323.94 161.33 324.12 145.25 324.33 153.17 324.54 168.53 324.81 178.13 325.23 181.01 325.71 181.49 326.95 180.05 326.95 179.81 327.16 161.33 327.34 145.25 327.55 153.17 327.76 168.53 328.03 178.13 328.45 181.01 328.93 181.49 330.17 180.05 330.17 179.81 330.38 161.33 330.56 145.25 330.77 153.17 330.98 168.53 331.25 178.13 331.67 181.01 332.15 181.49 333.39 180.05 333.39 179.81 333.6 161.33 333.78 145.25 333.99 153.17 334.2 168.53 334.47 178.13 334.89 181.01 335.37 181.49 336.61 180.05 336.61 179.81 336.82 161.33 337 145.25 337.21 153.17 337.42 168.53 337.69 178.13 338.11 181.01 338.6 181.49 339.83 180.05 339.83 179.81 340.04 161.33 340.22 145.25 340.43 153.17 340.65 168.53 340.92 178.13 341.34 181.01 341.82 181.49 343.06 180.05 343.06 179.81 343.27 161.33 343.45 145.25 343.66 153.17 343.87 168.53 344.14 178.13 344.34 180.53" fill="none" stroke="#f00" stroke-width="0.95" stroke-dasharray="2.8 1.2" stroke-linejoin="round"/>
<rect x="28.5" y="143" width="331.0" height="40.8" fill="none" stroke="#707070" stroke-width="1.05"/>
<path d="M43.54 183.8v1.6 M103.7 183.8v1.6 M163.86 183.8v1.6 M224.02 183.8v1.6 M284.18 183.8v1.6 M344.34 183.8v1.6 M28.5 151.7h-1.6 M28.5 163.8h-1.6 M28.5 175.7h-1.6" stroke="#444" stroke-width="0.6"/>
<text x="43.54" y="191.4" font-size="5.3" text-anchor="middle" textLength="3.18" lengthAdjust="spacingAndGlyphs">0</text>
<text x="103.7" y="191.4" font-size="5.3" text-anchor="middle" textLength="9.54" lengthAdjust="spacingAndGlyphs">100</text>
<text x="163.86" y="191.4" font-size="5.3" text-anchor="middle" textLength="9.54" lengthAdjust="spacingAndGlyphs">200</text>
<text x="224.02" y="191.4" font-size="5.3" text-anchor="middle" textLength="9.54" lengthAdjust="spacingAndGlyphs">300</text>
<text x="284.18" y="191.4" font-size="5.3" text-anchor="middle" textLength="9.54" lengthAdjust="spacingAndGlyphs">400</text>
<text x="344.34" y="191.4" font-size="5.3" text-anchor="middle" textLength="9.54" lengthAdjust="spacingAndGlyphs">500</text>
<text x="25.2" y="153.55" font-size="5.3" text-anchor="end" textLength="11.13" lengthAdjust="spacingAndGlyphs">0.75</text>
<text x="25.2" y="165.65" font-size="5.3" text-anchor="end" textLength="11.13" lengthAdjust="spacingAndGlyphs">0.50</text>
<text x="25.2" y="177.55" font-size="5.3" text-anchor="end" textLength="11.13" lengthAdjust="spacingAndGlyphs">0.25</text>
<text transform="translate(11.4 163.4) rotate(-90)" font-size="5.6" text-anchor="middle" fill="#111"><tspan font-style="italic">n</tspan><tspan font-size="3.92" dy="1.2" font-style="italic">Kdr</tspan></text>
<clipPath id="c3"><rect x="28.5" y="200.25" width="331.0" height="40.8"/></clipPath>
<path clip-path="url(#c3)" d="M43.54 235.85 43.78 231.68 44.56 239.09 46.82 231.68 46.82 231.55 47.6 238.99 49.88 231.55 49.88 231.42 50.66 238.91 52.94 231.42 52.94 231.3 53.73 238.82 56.03 231.3 56.03 231.19 56.81 238.74 59.12 231.19 59.12 231.08 59.9 238.66 62.23 231.08 62.23 230.97 63.01 238.59 65.34 230.97 65.34 230.87 66.13 238.52 68.47 230.87 68.47 230.77 69.25 238.45 71.6 230.77 71.6 230.68 72.39 238.39 74.75 230.68 74.75 230.6 75.53 238.33 77.9 230.6 77.9 230.51 78.68 238.27 81.05 230.51 81.05 230.44 81.83 238.22 84.21 230.44 84.21 230.36 85 238.17 87.38 230.36 87.38 230.29 88.16 238.12 90.56 230.29 90.56 230.22 91.34 238.07 93.73 230.22 93.73 230.16 94.52 238.03 96.92 230.16 96.92 230.1 97.7 237.99 100.1 230.1 100.1 230.04 100.89 237.95 103.29 230.04 103.29 229.99 104.08 237.91 106.49 229.99 106.49 229.93 107.27 237.87 109.69 229.93 109.69 229.88 110.47 237.84 112.89 229.88 112.89 229.84 113.67 237.8 116.09 229.84 116.09 229.79 116.87 237.77 119.29 229.79 119.29 229.75 120.07 237.74 122.5 229.75 122.5 229.71 123.28 237.72 125.71 229.71 125.71 229.67 126.49 237.69 128.92 229.67 128.92 229.64 129.7 237.67 132.13 229.64 132.13 229.6 132.91 237.64 135.35 229.6 135.35 229.57 136.13 237.62 138.56 229.57 138.56 229.54 139.34 237.6 141.78 229.54 141.78 229.51 142.56 237.58 145 229.51 145 229.48 145.78 237.56 148.22 229.48 148.22 229.46 149 237.54 151.44 229.46 151.44 229.43 152.22 237.52 154.66 229.43 154.66 229.41 155.44 237.51 157.88 229.41 157.88 229.39 158.66 237.49 161.1 229.39 161.1 229.36 161.88 237.48 164.32 229.36 164.32 229.34 165.11 237.46 167.55 229.34 167.55 229.33 168.33 237.45 170.77 229.33 170.77 229.31 171.55 237.44 174 229.31 174 229.29 174.78 237.42 177.22 229.29 177.22 229.27 178 237.41 180.45 229.27 180.45 229.26 181.23 237.4 183.67 229.26 183.67 229.24 184.46 237.39 186.9 229.24 186.9 229.23 187.68 237.38 190.13 229.23 190.13 229.22 190.91 237.37 193.36 229.22 193.36 229.2 194.14 237.37 196.58 229.2 196.58 229.19 197.36 237.36 199.81 229.19 199.81 229.18 200.59 237.35 203.04 229.18 203.04 229.17 203.82 237.34 206.27 229.17 206.27 229.16 207.05 237.34 209.5 229.16 209.5 229.15 210.28 237.33 212.72 229.15 212.72 229.14 213.51 237.32 215.95 229.14 215.95 229.13 216.74 237.32 219.18 229.13 219.18 229.13 219.96 237.31 222.41 229.13 222.41 229.12 223.19 237.31 225.64 229.12 225.64 229.11 226.42 237.3 228.87 229.11 228.87 229.1 229.65 237.3 232.1 229.1 232.1 229.1 232.88 237.29 235.33 229.1 235.33 229.09 236.11 237.29 238.56 229.09 238.56 229.09 239.34 237.28 241.79 229.09 241.79 229.08 242.57 237.28 245.02 229.08 245.02 229.07 245.8 237.28 248.25 229.07 248.25 229.07 249.03 237.27 251.48 229.07 251.48 229.07 252.26 237.27 254.71 229.07 254.71 229.06 255.49 237.27 257.94 229.06 257.94 229.06 258.72 237.26 261.17 229.06 261.17 229.05 261.95 237.26 264.4 229.05 264.4 229.05 265.18 237.26 267.63 229.05 267.63 229.04 268.41 237.25 270.86 229.04 270.86 229.04 271.64 237.25 274.09 229.04 274.09 229.04 274.87 237.25 277.32 229.04 277.32 229.04 278.1 237.25 280.55 229.04 280.55 229.03 281.33 237.25 283.78 229.03 283.78 229.03 284.56 237.24 287.01 229.03 287.01 229.03 287.79 237.24 290.24 229.03 290.24 229.02 291.02 237.24 293.47 229.02 293.47 229.02 294.25 237.24 296.7 229.02 296.7 229.02 297.48 237.24 299.93 229.02 299.93 229.02 300.71 237.24 303.16 229.02 303.16 229.02 303.94 237.23 306.39 229.02 306.39 229.01 307.17 237.23 309.62 229.01 309.62 229.01 310.4 237.23 312.85 229.01 312.85 229.01 313.64 237.23 316.08 229.01 316.08 229.01 316.87 237.23 319.31 229.01 319.31 229.01 320.1 237.23 322.54 229.01 322.54 229.01 323.33 237.23 325.78 229.01 325.78 229 326.56 237.23 329.01 229 329.01 229 329.79 237.23 332.24 229 332.24 229 333.02 237.22 335.47 229 335.47 229 336.25 237.22 338.7 229 338.7 229 339.48 237.22 341.93 229 341.93 229 342.71 237.22 344.34 237.22" fill="none" stroke="#00f" stroke-width="1.15" stroke-linejoin="round"/>
<path clip-path="url(#c3)" d="M43.54 235.85 43.78 222.56 44.08 202.37 44.44 207.42 44.8 211.46 45.79 213.47 46.28 217.51 46.82 222.56 46.82 222.25 47.12 203.08 47.48 207.87 47.84 211.71 48.85 213.63 49.33 217.46 49.87 222.25 49.87 222.92 50.17 204.49 50.53 209.1 50.89 212.79 51.92 214.63 52.4 218.31 52.94 222.92 52.94 223.39 53.24 204.32 53.6 209.08 53.96 212.9 55 214.81 55.48 218.62 56.02 223.39 56.02 224.26 56.32 205.14 56.68 209.92 57.05 213.74 58.09 215.66 58.58 219.48 59.12 224.26 59.12 224.63 59.42 205.74 59.78 210.46 60.14 214.24 61.2 216.13 61.68 219.91 62.22 224.63 62.22 224.32 62.52 206.41 62.88 210.89 63.25 214.47 64.32 216.26 64.8 219.84 65.34 224.32 65.34 224.2 65.64 206.48 66 210.91 66.36 214.45 67.44 216.22 67.92 219.77 68.46 224.2 68.46 224.24 68.76 207.03 69.12 211.33 69.49 214.77 70.57 216.5 71.05 219.94 71.6 224.24 71.6 224.37 71.9 206.54 72.26 211 72.62 214.56 73.72 216.35 74.2 219.91 74.74 224.37 74.74 224.55 75.04 206.53 75.4 211.03 75.76 214.64 76.86 216.44 77.35 220.05 77.89 224.55 77.89 226.02 78.19 207.08 78.55 211.81 78.91 215.6 80.02 217.49 80.5 221.28 81.04 226.02 81.04 225.89 81.34 207.05 81.7 211.76 82.06 215.53 83.18 217.41 83.66 221.18 84.2 225.89 84.2 225.25 84.5 207.7 84.87 212.09 85.23 215.6 86.35 217.35 86.83 220.86 87.37 225.25 87.37 225.71 87.67 207.58 88.03 212.11 88.39 215.74 89.52 217.55 90 221.17 90.54 225.71 90.54 225.48 90.84 207.22 91.2 211.79 91.57 215.44 92.7 217.26 93.18 220.92 93.72 225.48 93.72 226.09 94.02 208 94.38 212.52 94.74 216.14 95.88 217.95 96.36 221.57 96.9 226.09 96.9 225.81 97.2 207.49 97.56 212.07 97.92 215.74 99.06 217.57 99.54 221.23 100.09 225.81 100.09 226.05 100.39 207.66 100.75 212.26 101.11 215.94 102.25 217.78 102.73 221.45 103.27 226.05 103.27 225.82 103.58 208.39 103.94 212.75 104.3 216.23 105.44 217.98 105.92 221.46 106.47 225.82 106.47 226.41 106.77 207.75 107.13 212.41 107.49 216.14 108.64 218.01 109.12 221.74 109.66 226.41 109.66 225.31 109.96 207.83 110.32 212.2 110.68 215.69 111.84 217.44 112.32 220.94 112.86 225.31 112.86 225.49 113.16 207.86 113.52 212.26 113.88 215.79 115.03 217.55 115.52 221.08 116.06 225.49 116.06 225.81 116.36 208.8 116.72 213.05 117.08 216.45 118.24 218.15 118.72 221.55 119.26 225.81 119.26 226.7 119.56 207.87 119.92 212.58 120.28 216.34 121.44 218.23 121.92 221.99 122.46 226.7 122.46 226.39 122.76 208.57 123.12 213.02 123.48 216.59 124.64 218.37 125.13 221.94 125.67 226.39 125.67 226.18 125.97 208.3 126.33 212.77 126.69 216.35 127.85 218.13 128.33 221.71 128.87 226.18 128.87 225.66 129.17 208.39 129.53 212.71 129.9 216.16 131.06 217.89 131.54 221.34 132.08 225.66 132.08 226.76 132.38 208.94 132.74 213.4 133.1 216.96 134.27 218.74 134.75 222.31 135.29 226.76 135.29 226.67 135.59 208.82 135.95 213.28 136.31 216.85 137.48 218.64 137.96 222.21 138.5 226.67 138.5 225.4 138.8 208.9 139.16 213.02 139.52 216.32 140.69 217.97 141.17 221.27 141.71 225.4 141.71 226.75 142.01 208.02 142.37 212.7 142.73 216.45 143.9 218.32 144.38 222.07 144.92 226.75 144.92 226.41 145.22 208.43 145.58 212.93 145.94 216.52 147.11 218.32 147.59 221.91 148.13 226.41 148.13 226.36 148.43 208.66 148.79 213.08 149.15 216.62 150.32 218.39 150.8 221.94 151.34 226.36 151.34 226.01 151.64 208.29 152 212.72 152.36 216.26 153.53 218.04 154.01 221.58 154.55 226.01 154.55 226.62 154.85 208.62 155.21 213.12 155.57 216.72 156.74 218.52 157.22 222.12 157.76 226.62 157.76 226.72 158.06 208.66 158.42 213.18 158.78 216.79 159.95 218.6 160.43 222.21 160.97 226.72 160.97 225.83 161.27 208.41 161.63 212.77 161.99 216.25 163.16 217.99 163.64 221.48 164.18 225.83 164.18 226.8 164.48 208.62 164.84 213.16 165.2 216.8 166.37 218.62 166.85 222.25 167.39 226.8 167.39 226.36 167.69 208.85 168.05 213.23 168.41 216.73 169.57 218.48 170.06 221.98 170.6 226.36 170.6 225.74 170.9 208.37 171.26 212.71 171.62 216.19 172.78 217.92 173.26 221.4 173.8 225.74 173.8 225.71 174.1 208.63 174.47 212.9 174.83 216.32 175.99 218.03 176.47 221.44 177.01 225.71 177.01 226.27 177.31 208.36 177.67 212.84 178.03 216.42 179.19 218.21 179.67 221.8 180.21 226.27 180.21 226.18 180.51 208.64 180.88 213.03 181.24 216.53 182.39 218.29 182.88 221.8 183.42 226.18 183.42 226.29 183.72 208.27 184.08 212.78 184.44 216.38 185.6 218.18 186.08 221.79 186.62 226.29 186.62 226.24 186.92 208.28 187.28 212.77 187.64 216.36 188.8 218.16 189.28 221.75 189.82 226.24 189.82 226.12 190.12 208.79 190.48 213.13 190.84 216.59 191.99 218.33 192.48 221.79 193.02 226.12 193.02 226.83 193.32 208.29 193.68 212.92 194.04 216.63 195.19 218.48 195.67 222.19 196.21 226.83 196.21 226.29 196.51 208.59 196.87 213.02 197.24 216.56 198.38 218.33 198.87 221.87 199.41 226.29 199.41 225.52 199.71 208.08 200.07 212.44 200.43 215.93 201.58 217.67 202.06 221.16 202.6 225.52 202.6 225.58 202.9 208.65 203.26 212.89 203.62 216.27 204.77 217.96 205.25 221.35 205.79 225.58 205.79 226.54 206.09 208.18 206.45 212.77 206.81 216.44 207.95 218.28 208.44 221.95 208.98 226.54 208.98 226.75 209.28 208.55 209.64 213.1 210 216.74 211.14 218.56 211.62 222.2 212.16 226.75 212.16 225.94 212.46 208.16 212.83 212.6 213.19 216.16 214.32 217.94 214.81 221.49 215.35 225.94 215.35 225.74 215.65 208.08 216.01 212.49 216.37 216.03 217.51 217.79 217.99 221.33 218.53 225.74 218.53 225.83 218.83 208.33 219.19 212.7 219.55 216.2 220.69 217.95 221.17 221.45 221.71 225.83 221.71 226.78 222.01 208.44 222.37 213.03 222.73 216.7 223.87 218.53 224.35 222.2 224.89 226.78 224.89 226.93 225.19 208.42 225.55 213.05 225.91 216.75 227.04 218.6 227.53 222.3 228.07 226.93 228.07 225.77 228.37 208.92 228.73 213.13 229.09 216.5 230.22 218.19 230.7 221.56 231.24 225.77 231.24 226.8 231.54 209.03 231.91 213.47 232.27 217.03 233.4 218.81 233.88 222.36 234.42 226.8 234.42 225.61 234.72 208.97 235.08 213.13 235.44 216.46 236.57 218.12 237.05 221.45 237.59 225.61 237.59 226.9 237.9 208.88 238.26 213.39 238.62 216.99 239.75 218.79 240.23 222.4 240.77 226.9 240.77 226.76 241.07 208.13 241.43 212.79 241.79 216.51 242.92 218.38 243.4 222.1 243.94 226.76 243.94 225.92 244.24 208.13 244.61 212.58 244.97 216.14 246.1 217.92 246.58 221.47 247.12 225.92 247.12 225.5 247.42 208.14 247.78 212.48 248.14 215.95 249.27 217.69 249.75 221.16 250.3 225.5 250.3 225.73 250.6 208.43 250.96 212.75 251.32 216.22 252.45 217.95 252.93 221.41 253.47 225.73 253.47 225.78 253.77 209.04 254.13 213.23 254.49 216.58 255.63 218.25 256.11 221.6 256.65 225.78 256.65 225.86 256.95 208.51 257.31 212.84 257.67 216.32 258.81 218.05 259.29 221.52 259.83 225.86 259.83 225.81 260.13 208.96 260.49 213.18 260.85 216.54 261.99 218.23 262.47 221.6 263.01 225.81 263.01 226.85 263.31 208.03 263.67 212.73 264.03 216.5 265.17 218.38 265.65 222.14 266.19 226.85 266.19 226.09 266.5 208.72 266.86 213.06 267.22 216.53 268.36 218.27 268.84 221.75 269.38 226.09 269.38 226.58 269.68 208.15 270.04 212.75 270.4 216.44 271.54 218.28 272.03 221.97 272.57 226.58 272.57 226.56 272.87 208.88 273.23 213.3 273.59 216.84 274.73 218.61 275.21 222.14 275.76 226.56 275.76 225.8 276.06 208.39 276.42 212.74 276.78 216.22 277.93 217.97 278.41 221.45 278.95 225.8 278.95 226.39 279.25 208.64 279.61 213.08 279.97 216.63 281.12 218.4 281.6 221.95 282.14 226.39 282.14 226.41 282.44 208.64 282.8 213.08 283.16 216.64 284.32 218.41 284.8 221.97 285.34 226.41 285.34 226.82 285.64 208.61 286 213.16 286.36 216.8 287.51 218.62 288 222.26 288.54 226.82 288.54 225.47 288.84 208.52 289.2 212.76 289.56 216.15 290.72 217.84 291.2 221.23 291.74 225.47 291.74 225.81 292.04 208.62 292.4 212.92 292.76 216.36 293.92 218.07 294.4 221.51 294.94 225.81 294.94 225.9 295.24 208.9 295.6 213.15 295.96 216.55 297.12 218.25 297.6 221.65 298.15 225.9 298.15 225.92 298.45 208.23 298.81 212.65 299.17 216.19 300.33 217.96 300.81 221.5 301.35 225.92 301.35 226.21 301.65 208.5 302.01 212.93 302.38 216.47 303.54 218.24 304.02 221.78 304.56 226.21 304.56 225.59 304.86 208.36 305.22 212.66 305.58 216.11 306.75 217.83 307.23 221.28 307.77 225.59 307.77 226.8 308.07 208.92 308.43 213.39 308.8 216.96 309.96 218.75 310.44 222.33 310.98 226.8 310.98 225.56 311.29 208.24 311.65 212.57 312.01 216.03 313.18 217.76 313.66 221.23 314.2 225.56 314.2 226.27 314.5 208.5 314.86 212.94 315.22 216.5 316.39 218.27 316.87 221.83 317.41 226.27 317.41 226.66 317.71 208.27 318.08 212.87 318.44 216.55 319.61 218.38 320.09 222.06 320.63 226.66 320.63 226.64 320.93 208.78 321.29 213.25 321.65 216.82 322.83 218.6 323.31 222.18 323.85 226.64 323.85 226.47 324.15 208.42 324.51 212.93 324.87 216.54 326.04 218.35 326.53 221.95 327.07 226.47 327.07 225.9 327.37 208.82 327.73 213.09 328.09 216.51 329.27 218.21 329.75 221.63 330.29 225.9 330.29 226.49 330.59 208.01 330.95 212.63 331.31 216.33 332.49 218.17 332.97 221.87 333.51 226.49 333.51 226.32 333.81 208.29 334.17 212.79 334.53 216.4 335.71 218.2 336.19 221.81 336.73 226.32 336.73 226.06 337.03 208.12 337.39 212.6 337.75 216.19 338.93 217.99 339.41 221.57 339.95 226.06 339.95 226.61 340.25 208.78 340.62 213.24 340.98 216.81 342.15 218.59 342.64 222.15 343.18 226.61 343.18 226.22 343.48 209.06 343.84 213.35 344.2 216.78 344.34 216.78" fill="none" stroke="#f00" stroke-width="1.15" stroke-dasharray="2.8 1.2" stroke-linejoin="round"/>
<rect x="28.5" y="200.25" width="331.0" height="40.8" fill="none" stroke="#707070" stroke-width="1.05"/>
<path d="M43.54 241.05v1.6 M103.7 241.05v1.6 M163.86 241.05v1.6 M224.02 241.05v1.6 M284.18 241.05v1.6 M344.34 241.05v1.6 M28.5 213.2h-1.6 M28.5 228.3h-1.6" stroke="#444" stroke-width="0.6"/>
<text x="43.54" y="248.65" font-size="5.3" text-anchor="middle" textLength="3.18" lengthAdjust="spacingAndGlyphs">0</text>
<text x="103.7" y="248.65" font-size="5.3" text-anchor="middle" textLength="9.54" lengthAdjust="spacingAndGlyphs">100</text>
<text x="163.86" y="248.65" font-size="5.3" text-anchor="middle" textLength="9.54" lengthAdjust="spacingAndGlyphs">200</text>
<text x="224.02" y="248.65" font-size="5.3" text-anchor="middle" textLength="9.54" lengthAdjust="spacingAndGlyphs">300</text>
<text x="284.18" y="248.65" font-size="5.3" text-anchor="middle" textLength="9.54" lengthAdjust="spacingAndGlyphs">400</text>
<text x="344.34" y="248.65" font-size="5.3" text-anchor="middle" textLength="9.54" lengthAdjust="spacingAndGlyphs">500</text>
<text x="25.2" y="215.05" font-size="5.3" text-anchor="end" textLength="7.95" lengthAdjust="spacingAndGlyphs">1.6</text>
<text x="25.2" y="230.15" font-size="5.3" text-anchor="end" textLength="7.95" lengthAdjust="spacingAndGlyphs">1.4</text>
<text x="28.6" y="198.45" font-size="5.3" textLength="13.63" lengthAdjust="spacingAndGlyphs">1e−2</text>
<text transform="translate(14.4 220.65) rotate(-90)" font-size="5.6" text-anchor="middle" fill="#111"><tspan font-style="italic">h</tspan><tspan font-size="3.92" dy="1.2" font-style="italic">NaP</tspan></text>
<clipPath id="c4"><rect x="28.5" y="257.5" width="331.0" height="40.8"/></clipPath>
<path clip-path="url(#c4)" d="M43.54 288.8 43.78 290.3 44.02 284.28 44.74 287.59 45.65 289.58 46.82 290.3 46.82 287.67 47.06 281.63 47.78 284.95 48.69 286.94 49.88 287.67 49.88 285.34 50.12 279.27 50.84 282.61 51.74 284.61 52.94 285.34 52.94 283.28 53.19 277.17 53.91 280.53 54.81 282.54 56.03 283.28 56.03 281.46 56.27 275.29 56.99 278.68 57.89 280.72 59.12 281.46 59.12 279.85 59.36 273.61 60.08 277.04 60.99 279.1 62.23 279.85 62.23 278.44 62.47 272.1 63.19 275.59 64.09 277.68 65.34 278.44 65.34 277.19 65.58 270.75 66.31 274.3 67.21 276.42 68.47 277.19 68.47 276.1 68.71 269.54 69.43 273.15 70.33 275.31 71.6 276.1 71.6 275.13 71.84 268.46 72.57 272.13 73.47 274.33 74.75 275.13 74.75 274.28 74.99 267.48 75.71 271.22 76.61 273.47 77.9 274.28 77.9 273.54 78.14 266.6 78.86 270.42 79.76 272.71 81.05 273.54 81.05 272.88 81.29 265.81 82.01 269.7 82.92 272.04 84.21 272.88 84.21 272.31 84.46 265.1 85.18 269.06 86.08 271.44 87.38 272.31 87.38 271.81 87.62 264.46 88.35 268.5 89.25 270.92 90.56 271.81 90.56 271.36 90.8 263.88 91.52 268 92.42 270.47 93.73 271.36 93.73 270.98 93.98 263.37 94.7 267.55 95.6 270.06 96.92 270.98 96.92 270.64 97.16 262.9 97.88 267.16 98.78 269.71 100.1 270.64 100.1 270.34 100.34 262.49 101.07 266.81 101.97 269.4 103.29 270.34 103.29 270.08 103.54 262.12 104.26 266.5 105.16 269.12 106.49 270.08 106.49 269.85 106.73 261.79 107.45 266.22 108.35 268.88 109.69 269.85 109.69 269.65 109.93 261.5 110.65 265.98 111.55 268.67 112.89 269.65 112.89 269.47 113.13 261.24 113.85 265.77 114.75 268.49 116.09 269.47 116.09 269.32 116.33 261.01 117.05 265.58 117.95 268.32 119.29 269.32 119.29 269.19 119.53 260.81 120.26 265.42 121.16 268.18 122.5 269.19 122.5 269.07 122.74 260.63 123.46 265.27 124.36 268.06 125.71 269.07 125.71 268.97 125.95 260.47 126.67 265.14 127.57 267.95 128.92 268.97 128.92 268.88 129.16 260.34 129.88 265.03 130.78 267.85 132.13 268.88 132.13 268.8 132.37 260.22 133.09 264.94 134 267.77 135.35 268.8 135.35 268.73 135.59 260.12 136.31 264.85 137.21 267.7 138.56 268.73 138.56 268.67 138.8 260.03 139.52 264.78 140.43 267.63 141.78 268.67 141.78 268.62 142.02 259.95 142.74 264.72 143.64 267.58 145 268.62 145 268.57 145.24 259.89 145.96 264.66 146.86 267.53 148.22 268.57 148.22 268.53 148.46 259.83 149.18 264.62 150.08 267.49 151.44 268.53 151.44 268.5 151.68 259.78 152.4 264.57 153.3 267.45 154.66 268.5 154.66 268.47 154.9 259.74 155.62 264.54 156.52 267.42 157.88 268.47 157.88 268.44 158.12 259.7 158.84 264.51 159.74 267.39 161.1 268.44 161.1 268.42 161.34 259.67 162.06 264.48 162.97 267.37 164.32 268.42 164.32 268.4 164.56 259.65 165.29 264.46 166.19 267.35 167.55 268.4 167.55 268.38 167.79 259.62 168.51 264.44 169.41 267.33 170.77 268.38 170.77 268.36 171.01 259.6 171.73 264.42 172.64 267.31 174 268.36 174 268.35 174.24 259.59 174.96 264.41 175.86 267.3 177.22 268.35 177.22 268.34 177.46 259.57 178.18 264.39 179.09 267.28 180.45 268.34 180.45 268.33 180.69 259.56 181.41 264.38 182.31 267.27 183.67 268.33 183.67 268.32 183.92 259.55 184.64 264.37 185.54 267.26 186.9 268.32 186.9 268.31 187.14 259.54 187.86 264.36 188.77 267.26 190.13 268.31 190.13 268.3 190.37 259.54 191.09 264.36 191.99 267.25 193.36 268.3 193.36 268.3 193.6 259.53 194.32 264.35 195.22 267.24 196.58 268.3 196.58 268.29 196.82 259.52 197.55 264.34 198.45 267.24 199.81 268.29 199.81 268.29 200.05 259.52 200.77 264.34 201.68 267.23 203.04 268.29 203.04 268.28 203.28 259.51 204 264.34 204.9 267.23 206.27 268.28 206.27 268.28 206.51 259.51 207.23 264.33 208.13 267.23 209.5 268.28 209.5 268.27 209.74 259.51 210.46 264.33 211.36 267.22 212.72 268.27 212.72 268.27 212.96 259.5 213.69 264.33 214.59 267.22 215.95 268.27 215.95 268.27 216.19 259.5 216.92 264.32 217.82 267.22 219.18 268.27 219.18 268.27 219.42 259.5 220.14 264.32 221.05 267.22 222.41 268.27 222.41 268.27 222.65 259.5 223.37 264.32 224.28 267.21 225.64 268.27 225.64 268.26 225.88 259.5 226.6 264.32 227.51 267.21 228.87 268.26 228.87 268.26 229.11 259.49 229.83 264.32 230.73 267.21 232.1 268.26 232.1 268.26 232.34 259.49 233.06 264.32 233.96 267.21 235.33 268.26 235.33 268.26 235.57 259.49 236.29 264.31 237.19 267.21 238.56 268.26 238.56 268.26 238.8 259.49 239.52 264.31 240.42 267.21 241.79 268.26 241.79 268.26 242.03 259.49 242.75 264.31 243.65 267.21 245.02 268.26 245.02 268.26 245.26 259.49 245.98 264.31 246.88 267.21 248.25 268.26 248.25 268.26 248.49 259.49 249.21 264.31 250.11 267.21 251.48 268.26 251.48 268.26 251.72 259.49 252.44 264.31 253.34 267.2 254.71 268.26 254.71 268.26 254.95 259.49 255.67 264.31 256.57 267.2 257.94 268.26 257.94 268.26 258.18 259.49 258.9 264.31 259.8 267.2 261.17 268.26 261.17 268.26 261.41 259.49 262.13 264.31 263.03 267.2 264.4 268.26 264.4 268.26 264.64 259.49 265.36 264.31 266.26 267.2 267.63 268.26 267.63 268.26 267.87 259.49 268.59 264.31 269.49 267.2 270.86 268.26 270.86 268.25 271.1 259.49 271.82 264.31 272.72 267.2 274.09 268.25 274.09 268.25 274.33 259.49 275.05 264.31 275.95 267.2 277.32 268.25 277.32 268.25 277.56 259.49 278.28 264.31 279.18 267.2 280.55 268.25 280.55 268.25 280.79 259.49 281.51 264.31 282.41 267.2 283.78 268.25 283.78 268.25 284.02 259.49 284.74 264.31 285.64 267.2 287.01 268.25 287.01 268.25 287.25 259.49 287.97 264.31 288.87 267.2 290.24 268.25 290.24 268.25 290.48 259.49 291.2 264.31 292.11 267.2 293.47 268.25 293.47 268.25 293.71 259.49 294.43 264.31 295.34 267.2 296.7 268.25 296.7 268.25 296.94 259.49 297.66 264.31 298.57 267.2 299.93 268.25 299.93 268.25 300.17 259.49 300.89 264.31 301.8 267.2 303.16 268.25 303.16 268.25 303.4 259.49 304.12 264.31 305.03 267.2 306.39 268.25 306.39 268.25 306.63 259.49 307.35 264.31 308.26 267.2 309.62 268.25 309.62 268.25 309.86 259.49 310.59 264.31 311.49 267.2 312.85 268.25 312.85 268.25 313.09 259.49 313.82 264.31 314.72 267.2 316.08 268.25 316.08 268.25 316.32 259.49 317.05 264.31 317.95 267.2 319.31 268.25 319.31 268.25 319.55 259.49 320.28 264.31 321.18 267.2 322.54 268.25 322.54 268.25 322.79 259.49 323.51 264.31 324.41 267.2 325.78 268.25 325.78 268.25 326.02 259.49 326.74 264.31 327.64 267.2 329.01 268.25 329.01 268.25 329.25 259.49 329.97 264.31 330.87 267.2 332.24 268.25 332.24 268.25 332.48 259.49 333.2 264.31 334.1 267.2 335.47 268.25 335.47 268.25 335.71 259.49 336.43 264.31 337.33 267.2 338.7 268.25 338.7 268.25 338.94 259.49 339.66 264.31 340.56 267.2 341.93 268.25 341.93 268.25 342.17 259.49 342.89 264.31 343.79 267.2 344.34 267.2" fill="none" stroke="#00f" stroke-width="1.15" stroke-linejoin="round"/>
<path clip-path="url(#c4)" d="M43.54 291.54 43.78 295 44.02 288.69 44.74 292.16 45.64 294.24 46.82 295 46.82 292.69 47.06 286.61 47.78 289.95 48.68 291.96 49.87 292.69 49.87 290.69 50.11 284.38 50.83 287.85 51.74 289.93 52.94 290.69 52.94 288.94 53.18 282.65 53.9 286.11 54.81 288.19 56.02 288.94 56.02 287.43 56.26 280.61 56.99 284.36 57.89 286.61 59.12 287.43 59.12 286.12 59.36 279.95 60.08 283.34 60.98 285.38 62.22 286.12 62.22 284.99 62.46 277.83 63.19 281.77 64.09 284.13 65.34 284.99 65.34 284 65.58 277.35 66.3 281.01 67.2 283.21 68.46 284 68.46 283.16 68.7 276.3 69.43 280.07 70.33 282.33 71.6 283.16 71.6 282.42 71.84 275.63 72.56 279.37 73.46 281.61 74.74 282.42 74.74 281.79 74.98 274.51 75.7 278.51 76.6 280.91 77.89 281.79 77.89 281.24 78.13 273.89 78.85 277.93 79.75 280.36 81.04 281.24 81.04 280.77 81.28 273.61 82 277.55 82.91 279.91 84.2 280.77 84.2 280.36 84.44 273.19 85.17 277.13 86.07 279.5 87.37 280.36 87.37 280.01 87.61 272.48 88.33 276.62 89.24 279.1 90.54 280.01 90.54 279.7 90.78 271.93 91.51 276.2 92.41 278.77 93.72 279.7 93.72 279.44 93.96 272.06 94.68 276.12 95.58 278.56 96.9 279.44 96.9 279.22 97.14 271.37 97.86 275.69 98.77 278.28 100.09 279.22 100.09 279.03 100.33 270.82 101.05 275.34 101.95 278.04 103.27 279.03 103.27 278.86 103.52 271.1 104.24 275.37 105.14 277.93 106.47 278.86 106.47 278.72 106.71 271.11 107.43 275.3 108.33 277.8 109.66 278.72 109.66 278.59 109.9 270.89 110.62 275.13 111.53 277.67 112.86 278.59 112.86 278.49 113.1 270.16 113.82 274.74 114.72 277.49 116.06 278.49 116.06 278.4 116.3 270.02 117.02 274.63 117.92 277.39 119.26 278.4 119.26 278.32 119.5 269.55 120.22 274.37 121.12 277.27 122.46 278.32 122.46 278.25 122.7 269.51 123.42 274.32 124.33 277.2 125.67 278.25 125.67 278.19 125.91 270.05 126.63 274.53 127.53 277.22 128.87 278.19 128.87 278.14 129.11 269.98 129.84 274.47 130.74 277.17 132.08 278.14 132.08 278.1 132.32 269.8 133.04 274.36 133.95 277.11 135.29 278.1 135.29 278.07 135.53 269.77 136.25 274.33 137.15 277.07 138.5 278.07 138.5 278.03 138.74 269.12 139.46 274.02 140.36 276.96 141.71 278.03 141.71 278.01 141.95 268.87 142.67 273.89 143.57 276.91 144.92 278.01 144.92 277.98 145.16 268.75 145.88 273.83 146.78 276.88 148.13 277.98 148.13 277.96 148.37 269.39 149.09 274.11 149.99 276.94 151.34 277.96 151.34 277.95 151.58 268.66 152.3 273.77 153.2 276.83 154.55 277.95 154.55 277.93 154.79 269.21 155.51 274.01 156.42 276.89 157.76 277.93 157.76 277.92 158 269.05 158.72 273.93 159.63 276.86 160.97 277.92 160.97 277.91 161.21 268.67 161.93 273.75 162.84 276.8 164.18 277.91 164.18 277.9 164.42 269.34 165.14 274.05 166.04 276.87 167.39 277.9 167.39 277.89 167.63 269.3 168.35 274.03 169.25 276.86 170.6 277.89 170.6 277.88 170.84 268.46 171.56 273.65 172.46 276.75 173.8 277.88 173.8 277.88 174.04 269.03 174.77 273.9 175.67 276.82 177.01 277.88 177.01 277.87 177.25 268.94 177.97 273.85 178.87 276.8 180.21 277.87 180.21 277.87 180.45 268.68 181.18 273.73 182.08 276.77 183.42 277.87 183.42 277.87 183.66 268.56 184.38 273.68 185.28 276.75 186.62 277.87 186.62 277.86 186.86 269.28 187.58 274 188.48 276.83 189.82 277.86 189.82 277.86 190.06 268.91 190.78 273.83 191.68 276.79 193.02 277.86 193.02 277.86 193.26 268.79 193.98 273.78 194.88 276.77 196.21 277.86 196.21 277.86 196.45 268.72 197.18 273.75 198.08 276.76 199.41 277.86 199.41 277.85 199.65 269.02 200.37 273.88 201.27 276.79 202.6 277.85 202.6 277.85 202.84 268.6 203.56 273.69 204.46 276.74 205.79 277.85 205.79 277.85 206.03 268.19 206.75 273.5 207.65 276.69 208.98 277.85 208.98 277.85 209.22 268.8 209.94 273.78 210.84 276.76 212.16 277.85 212.16 277.85 212.4 268.63 213.13 273.7 214.03 276.74 215.35 277.85 215.35 277.85 215.59 269.1 216.31 273.91 217.21 276.8 218.53 277.85 218.53 277.85 218.77 268.92 219.49 273.83 220.39 276.78 221.71 277.85 221.71 277.85 221.95 268.49 222.67 273.64 223.58 276.72 224.89 277.85 224.89 277.85 225.13 269.1 225.85 273.91 226.75 276.8 228.07 277.85 228.07 277.85 228.31 268.25 229.03 273.53 229.93 276.69 231.24 277.85 231.24 277.85 231.48 268.22 232.21 273.51 233.11 276.69 234.42 277.85 234.42 277.85 234.66 269.11 235.38 273.91 236.28 276.8 237.59 277.85 237.59 277.85 237.83 268.18 238.56 273.5 239.46 276.69 240.77 277.85 240.77 277.84 241.01 268.81 241.73 273.78 242.63 276.76 243.94 277.84 243.94 277.84 244.18 268.37 244.91 273.58 245.81 276.71 247.12 277.84 247.12 277.84 247.36 268.38 248.08 273.59 248.98 276.71 250.3 277.84 250.3 277.84 250.54 268.89 251.26 273.81 252.16 276.77 253.47 277.84 253.47 277.84 253.71 268.47 254.43 273.63 255.34 276.72 256.65 277.84 256.65 277.84 256.89 268.5 257.61 273.64 258.52 276.72 259.83 277.84 259.83 277.84 260.07 268.33 260.79 273.56 261.69 276.7 263.01 277.84 263.01 277.84 263.25 268.92 263.97 273.83 264.88 276.77 266.19 277.84 266.19 277.84 266.44 268.39 267.16 273.59 268.06 276.71 269.38 277.84 269.38 277.84 269.62 268.16 270.34 273.49 271.24 276.68 272.57 277.84 272.57 277.84 272.81 268.48 273.53 273.63 274.43 276.72 275.76 277.84 275.76 277.84 276 268.63 276.72 273.7 277.62 276.74 278.95 277.84 278.95 277.84 279.19 269.09 279.91 273.9 280.81 276.79 282.14 277.84 282.14 277.84 282.38 268.67 283.1 273.72 284.01 276.74 285.34 277.84 285.34 277.84 285.58 268.83 286.3 273.79 287.2 276.76 288.54 277.84 288.54 277.84 288.78 268.43 289.5 273.61 290.4 276.71 291.74 277.84 291.74 277.84 291.98 268.47 292.7 273.62 293.6 276.72 294.94 277.84 294.94 277.84 295.18 268.59 295.9 273.68 296.81 276.73 298.15 277.84 298.15 277.84 298.39 269.01 299.11 273.87 300.01 276.78 301.35 277.84 301.35 277.84 301.59 268.5 302.32 273.64 303.22 276.72 304.56 277.84 304.56 277.84 304.8 268.52 305.52 273.65 306.43 276.72 307.77 277.84 307.77 277.84 308.01 269.02 308.74 273.87 309.64 276.78 310.98 277.84 310.98 277.84 311.23 268.24 311.95 273.52 312.85 276.69 314.2 277.84 314.2 277.84 314.44 268.49 315.16 273.64 316.06 276.72 317.41 277.84 317.41 277.84 317.65 269.08 318.38 273.9 319.28 276.79 320.63 277.84 320.63 277.84 320.87 268.19 321.59 273.5 322.5 276.69 323.85 277.84 323.85 277.84 324.09 269.06 324.81 273.89 325.71 276.79 327.07 277.84 327.07 277.84 327.31 268.85 328.03 273.8 328.93 276.76 330.29 277.84 330.29 277.84 330.53 268.42 331.25 273.6 332.15 276.71 333.51 277.84 333.51 277.84 333.75 268.56 334.47 273.66 335.37 276.73 336.73 277.84 336.73 277.84 336.97 268.6 337.69 273.69 338.6 276.73 339.95 277.84 339.95 277.84 340.19 268.5 340.92 273.64 341.82 276.72 343.18 277.84 343.18 277.84 343.42 268.71 344.14 273.73 344.34 273.73" fill="none" stroke="#f00" stroke-width="1.15" stroke-dasharray="2.8 1.2" stroke-linejoin="round"/>
<rect x="28.5" y="257.5" width="331.0" height="40.8" fill="none" stroke="#707070" stroke-width="1.05"/>
<path d="M43.54 298.3v1.6 M103.7 298.3v1.6 M163.86 298.3v1.6 M224.02 298.3v1.6 M284.18 298.3v1.6 M344.34 298.3v1.6 M28.5 260.1h-1.6 M28.5 273.6h-1.6 M28.5 287.5h-1.6" stroke="#444" stroke-width="0.6"/>
<text x="43.54" y="305.9" font-size="5.3" text-anchor="middle" textLength="3.18" lengthAdjust="spacingAndGlyphs">0</text>
<text x="103.7" y="305.9" font-size="5.3" text-anchor="middle" textLength="9.54" lengthAdjust="spacingAndGlyphs">100</text>
<text x="163.86" y="305.9" font-size="5.3" text-anchor="middle" textLength="9.54" lengthAdjust="spacingAndGlyphs">200</text>
<text x="224.02" y="305.9" font-size="5.3" text-anchor="middle" textLength="9.54" lengthAdjust="spacingAndGlyphs">300</text>
<text x="284.18" y="305.9" font-size="5.3" text-anchor="middle" textLength="9.54" lengthAdjust="spacingAndGlyphs">400</text>
<text x="344.34" y="305.9" font-size="5.3" text-anchor="middle" textLength="9.54" lengthAdjust="spacingAndGlyphs">500</text>
<text x="25.2" y="261.95" font-size="5.3" text-anchor="end" textLength="7.95" lengthAdjust="spacingAndGlyphs">1.5</text>
<text x="25.2" y="275.45" font-size="5.3" text-anchor="end" textLength="7.95" lengthAdjust="spacingAndGlyphs">1.4</text>
<text x="25.2" y="289.35" font-size="5.3" text-anchor="end" textLength="7.95" lengthAdjust="spacingAndGlyphs">1.3</text>
<text x="28.6" y="255.7" font-size="5.3" textLength="13.63" lengthAdjust="spacingAndGlyphs">1e−1</text>
<text transform="translate(14.4 277.9) rotate(-90)" font-size="5.6" text-anchor="middle" fill="#111"><tspan font-style="italic">z</tspan><tspan font-size="3.92" dy="1.2" font-style="italic">K</tspan></text>
<clipPath id="c5"><rect x="28.5" y="314.75" width="331.0" height="40.8"/></clipPath>
<path clip-path="url(#c5)" d="M43.54 317.28 43.75 317.28 44.05 316.6 44.2 327.01 44.35 334.47 44.53 340.68 44.77 345.91 45.07 349.51 45.5 351.82 45.98 352.8 46.58 353.18 46.79 353.23 46.79 353.23 47.09 316.6 47.24 327.01 47.39 334.47 47.57 340.68 47.81 345.91 48.11 349.51 48.53 351.82 49.02 352.8 49.62 353.18 49.85 353.24 49.85 353.24 50.15 316.6 50.3 327.01 50.45 334.47 50.63 340.68 50.87 345.91 51.17 349.51 51.59 351.82 52.07 352.8 52.67 353.18 52.91 353.24 52.91 353.24 53.22 316.6 53.37 327.01 53.52 334.47 53.7 340.68 53.94 345.91 54.24 349.51 54.66 351.82 55.14 352.8 55.74 353.18 56 353.24 56 353.24 56.3 316.6 56.45 327.01 56.6 334.47 56.78 340.68 57.02 345.91 57.32 349.51 57.74 351.82 58.22 352.8 58.82 353.18 59.09 353.24 59.09 353.24 59.39 316.6 59.54 327.01 59.69 334.47 59.87 340.68 60.11 345.91 60.42 349.51 60.84 351.82 61.32 352.8 61.92 353.18 62.2 353.25 62.2 353.25 62.5 316.6 62.65 327.01 62.8 334.47 62.98 340.68 63.22 345.91 63.52 349.51 63.94 351.82 64.42 352.8 65.03 353.18 65.31 353.25 65.31 353.25 65.61 316.6 65.76 327.01 65.92 334.47 66.1 340.68 66.34 345.91 66.64 349.51 67.06 351.82 67.54 352.8 68.14 353.18 68.44 353.25 68.44 353.25 68.74 316.6 68.89 327.01 69.04 334.47 69.22 340.68 69.46 345.91 69.76 349.51 70.18 351.82 70.67 352.8 71.27 353.18 71.57 353.25 71.57 353.25 71.87 316.6 72.02 327.01 72.18 334.47 72.36 340.68 72.6 345.91 72.9 349.51 73.32 351.82 73.8 352.8 74.4 353.18 74.72 353.25 74.72 353.25 75.02 316.6 75.17 327.01 75.32 334.47 75.5 340.68 75.74 345.91 76.04 349.51 76.46 351.82 76.94 352.8 77.54 353.18 77.87 353.25 77.87 353.25 78.17 316.6 78.32 327.01 78.47 334.47 78.65 340.68 78.89 345.91 79.19 349.51 79.61 351.82 80.09 352.8 80.69 353.18 81.02 353.25 81.02 353.25 81.32 316.6 81.47 327.01 81.62 334.47 81.8 340.68 82.04 345.91 82.35 349.51 82.77 351.82 83.25 352.8 83.85 353.18 84.18 353.25 84.18 353.25 84.49 316.6 84.64 327.01 84.79 334.47 84.97 340.68 85.21 345.91 85.51 349.51 85.93 351.82 86.41 352.8 87.01 353.18 87.35 353.26 87.35 353.26 87.65 316.6 87.8 327.01 87.95 334.47 88.13 340.68 88.38 345.91 88.68 349.51 89.1 351.82 89.58 352.8 90.18 353.18 90.53 353.26 90.53 353.26 90.83 316.6 90.98 327.01 91.13 334.47 91.31 340.68 91.55 345.91 91.85 349.51 92.27 351.82 92.75 352.8 93.35 353.18 93.7 353.26 93.7 353.26 94.01 316.6 94.16 327.01 94.31 334.47 94.49 340.68 94.73 345.91 95.03 349.51 95.45 351.82 95.93 352.8 96.53 353.18 96.89 353.26 96.89 353.26 97.19 316.6 97.34 327.01 97.49 334.47 97.67 340.68 97.91 345.91 98.21 349.51 98.63 351.82 99.11 352.8 99.71 353.18 100.07 353.26 100.07 353.26 100.37 316.6 100.53 327.01 100.68 334.47 100.86 340.68 101.1 345.91 101.4 349.51 101.82 351.82 102.3 352.8 102.9 353.18 103.26 353.26 103.26 353.26 103.57 316.6 103.72 327.01 103.87 334.47 104.05 340.68 104.29 345.91 104.59 349.51 105.01 351.82 105.49 352.8 106.09 353.18 106.46 353.26 106.46 353.26 106.76 316.6 106.91 327.01 107.06 334.47 107.24 340.68 107.48 345.91 107.78 349.51 108.2 351.82 108.68 352.8 109.29 353.18 109.66 353.26 109.66 353.26 109.96 316.6 110.11 327.01 110.26 334.47 110.44 340.68 110.68 345.91 110.98 349.51 111.4 351.82 111.88 352.8 112.48 353.18 112.86 353.26 112.86 353.26 113.16 316.6 113.31 327.01 113.46 334.47 113.64 340.68 113.88 345.91 114.18 349.51 114.6 351.82 115.08 352.8 115.68 353.18 116.06 353.26 116.06 353.26 116.36 316.6 116.51 327.01 116.66 334.47 116.84 340.68 117.08 345.91 117.38 349.51 117.8 351.82 118.28 352.8 118.89 353.18 119.26 353.26 119.26 353.26 119.56 316.6 119.71 327.01 119.86 334.47 120.04 340.68 120.29 345.91 120.59 349.51 121.01 351.82 121.49 352.8 122.09 353.18 122.47 353.26 122.47 353.26 122.77 316.6 122.92 327.01 123.07 334.47 123.25 340.68 123.49 345.91 123.79 349.51 124.21 351.82 124.7 352.8 125.3 353.18 125.68 353.26 125.68 353.26 125.98 316.6 126.13 327.01 126.28 334.47 126.46 340.68 126.7 345.91 127 349.51 127.42 351.82 127.9 352.8 128.51 353.18 128.89 353.26 128.89 353.26 129.19 316.6 129.34 327.01 129.49 334.47 129.67 340.68 129.91 345.91 130.21 349.51 130.63 351.82 131.12 352.8 131.72 353.18 132.1 353.26 132.1 353.26 132.4 316.6 132.55 327.01 132.7 334.47 132.88 340.68 133.12 345.91 133.43 349.51 133.85 351.82 134.33 352.8 134.93 353.18 135.32 353.26 135.32 353.26 135.62 316.6 135.77 327.01 135.92 334.47 136.1 340.68 136.34 345.91 136.64 349.51 137.06 351.82 137.54 352.8 138.14 353.18 138.53 353.26 138.53 353.26 138.83 316.6 138.98 327.01 139.13 334.47 139.31 340.68 139.55 345.91 139.86 349.51 140.28 351.82 140.76 352.8 141.36 353.18 141.75 353.26 141.75 353.26 142.05 316.6 142.2 327.01 142.35 334.47 142.53 340.68 142.77 345.91 143.07 349.51 143.49 351.82 143.97 352.8 144.58 353.18 144.97 353.26 144.97 353.26 145.27 316.6 145.42 327.01 145.57 334.47 145.75 340.68 145.99 345.91 146.29 349.51 146.71 351.82 147.19 352.8 147.79 353.18 148.19 353.26 148.19 353.26 148.49 316.6 148.64 327.01 148.79 334.47 148.97 340.68 149.21 345.91 149.51 349.51 149.93 351.82 150.41 352.8 151.01 353.18 151.41 353.26 151.41 353.26 151.71 316.6 151.86 327.01 152.01 334.47 152.19 340.68 152.43 345.91 152.73 349.51 153.15 351.82 153.63 352.8 154.23 353.18 154.63 353.26 154.63 353.26 154.93 316.6 155.08 327.01 155.23 334.47 155.41 340.68 155.65 345.91 155.95 349.51 156.37 351.82 156.85 352.8 157.45 353.18 157.85 353.26 157.85 353.26 158.15 316.6 158.3 327.01 158.45 334.47 158.63 340.68 158.87 345.91 159.17 349.51 159.59 351.82 160.07 352.8 160.68 353.18 161.07 353.26 161.07 353.26 161.37 316.6 161.52 327.01 161.67 334.47 161.85 340.68 162.09 345.91 162.39 349.51 162.82 351.82 163.3 352.8 163.9 353.18 164.29 353.26 164.29 353.26 164.59 316.6 164.74 327.01 164.9 334.47 165.08 340.68 165.32 345.91 165.62 349.51 166.04 351.82 166.52 352.8 167.12 353.18 167.52 353.26 167.52 353.26 167.82 316.6 167.97 327.01 168.12 334.47 168.3 340.68 168.54 345.91 168.84 349.51 169.26 351.82 169.74 352.8 170.35 353.18 170.74 353.26 170.74 353.26 171.04 316.6 171.19 327.01 171.34 334.47 171.52 340.68 171.76 345.91 172.07 349.51 172.49 351.82 172.97 352.8 173.57 353.18 173.97 353.26 173.97 353.26 174.27 316.6 174.42 327.01 174.57 334.47 174.75 340.68 174.99 345.91 175.29 349.51 175.71 351.82 176.19 352.8 176.79 353.18 177.19 353.26 177.19 353.26 177.49 316.6 177.64 327.01 177.79 334.47 177.97 340.68 178.21 345.91 178.52 349.51 178.94 351.82 179.42 352.8 180.02 353.18 180.42 353.26 180.42 353.26 180.72 316.6 180.87 327.01 181.02 334.47 181.2 340.68 181.44 345.91 181.74 349.51 182.16 351.82 182.64 352.8 183.25 353.18 183.64 353.26 183.64 353.26 183.95 316.6 184.1 327.01 184.25 334.47 184.43 340.68 184.67 345.91 184.97 349.51 185.39 351.82 185.87 352.8 186.47 353.18 186.87 353.26 186.87 353.26 187.17 316.6 187.32 327.01 187.47 334.47 187.65 340.68 187.89 345.91 188.19 349.51 188.62 351.82 189.1 352.8 189.7 353.18 190.1 353.26 190.1 353.26 190.4 316.6 190.55 327.01 190.7 334.47 190.88 340.68 191.12 345.91 191.42 349.51 191.84 351.82 192.32 352.8 192.93 353.18 193.33 353.26 193.33 353.26 193.63 316.6 193.78 327.01 193.93 334.47 194.11 340.68 194.35 345.91 194.65 349.51 195.07 351.82 195.55 352.8 196.15 353.18 196.55 353.26 196.55 353.26 196.85 316.6 197 327.01 197.15 334.47 197.33 340.68 197.58 345.91 197.88 349.51 198.3 351.82 198.78 352.8 199.38 353.18 199.78 353.26 199.78 353.26 200.08 316.6 200.23 327.01 200.38 334.47 200.56 340.68 200.8 345.91 201.1 349.51 201.53 351.82 202.01 352.8 202.61 353.18 203.01 353.26 203.01 353.26 203.31 316.6 203.46 327.01 203.61 334.47 203.79 340.68 204.03 345.91 204.33 349.51 204.75 351.82 205.23 352.8 205.84 353.18 206.24 353.26 206.24 353.26 206.54 316.6 206.69 327.01 206.84 334.47 207.02 340.68 207.26 345.91 207.56 349.51 207.98 351.82 208.46 352.8 209.06 353.18 209.47 353.26 209.47 353.26 209.77 316.6 209.92 327.01 210.07 334.47 210.25 340.68 210.49 345.91 210.79 349.51 211.21 351.82 211.69 352.8 212.29 353.18 212.69 353.26 212.69 353.26 212.99 316.6 213.15 327.01 213.3 334.47 213.48 340.68 213.72 345.91 214.02 349.51 214.44 351.82 214.92 352.8 215.52 353.18 215.92 353.26 215.92 353.26 216.22 316.6 216.37 327.01 216.52 334.47 216.71 340.68 216.95 345.91 217.25 349.51 217.67 351.82 218.15 352.8 218.75 353.18 219.15 353.26 219.15 353.26 219.45 316.6 219.6 327.01 219.75 334.47 219.93 340.68 220.17 345.91 220.48 349.51 220.9 351.82 221.38 352.8 221.98 353.18 222.38 353.26 222.38 353.26 222.68 316.6 222.83 327.01 222.98 334.47 223.16 340.68 223.4 345.91 223.7 349.51 224.13 351.82 224.61 352.8 225.21 353.18 225.61 353.26 225.61 353.26 225.91 316.6 226.06 327.01 226.21 334.47 226.39 340.68 226.63 345.91 226.93 349.51 227.35 351.82 227.84 352.8 228.44 353.18 228.84 353.26 228.84 353.26 229.14 316.6 229.29 327.01 229.44 334.47 229.62 340.68 229.86 345.91 230.16 349.51 230.58 351.82 231.07 352.8 231.67 353.18 232.07 353.26 232.07 353.26 232.37 316.6 232.52 327.01 232.67 334.47 232.85 340.68 233.09 345.91 233.39 349.51 233.81 351.82 234.29 352.8 234.9 353.18 235.3 353.26 235.3 353.26 235.6 316.6 235.75 327.01 235.9 334.47 236.08 340.68 236.32 345.91 236.62 349.51 237.04 351.82 237.52 352.8 238.13 353.18 238.53 353.26 238.53 353.26 238.83 316.6 238.98 327.01 239.13 334.47 239.31 340.68 239.55 345.91 239.85 349.51 240.27 351.82 240.75 352.8 241.36 353.18 241.76 353.26 241.76 353.26 242.06 316.6 242.21 327.01 242.36 334.47 242.54 340.68 242.78 345.91 243.08 349.51 243.5 351.82 243.98 352.8 244.59 353.18 244.99 353.26 244.99 353.26 245.29 316.6 245.44 327.01 245.59 334.47 245.77 340.68 246.01 345.91 246.31 349.51 246.73 351.82 247.21 352.8 247.82 353.18 248.22 353.26 248.22 353.26 248.52 316.6 248.67 327.01 248.82 334.47 249 340.68 249.24 345.91 249.54 349.51 249.96 351.82 250.44 352.8 251.05 353.18 251.45 353.26 251.45 353.26 251.75 316.6 251.9 327.01 252.05 334.47 252.23 340.68 252.47 345.91 252.77 349.51 253.19 351.82 253.67 352.8 254.28 353.18 254.68 353.26 254.68 353.26 254.98 316.6 255.13 327.01 255.28 334.47 255.46 340.68 255.7 345.91 256 349.51 256.42 351.82 256.9 352.8 257.51 353.18 257.91 353.26 257.91 353.26 258.21 316.6 258.36 327.01 258.51 334.47 258.69 340.68 258.93 345.91 259.23 349.51 259.65 351.82 260.13 352.8 260.74 353.18 261.14 353.26 261.14 353.26 261.44 316.6 261.59 327.01 261.74 334.47 261.92 340.68 262.16 345.91 262.46 349.51 262.88 351.82 263.36 352.8 263.97 353.18 264.37 353.26 264.37 353.26 264.67 316.6 264.82 327.01 264.97 334.47 265.15 340.68 265.39 345.91 265.69 349.51 266.11 351.82 266.59 352.8 267.2 353.18 267.6 353.26 267.6 353.26 267.9 316.6 268.05 327.01 268.2 334.47 268.38 340.68 268.62 345.91 268.92 349.51 269.34 351.82 269.82 352.8 270.43 353.18 270.83 353.26 270.83 353.26 271.13 316.6 271.28 327.01 271.43 334.47 271.61 340.68 271.85 345.91 272.15 349.51 272.57 351.82 273.05 352.8 273.66 353.18 274.06 353.26 274.06 353.26 274.36 316.6 274.51 327.01 274.66 334.47 274.84 340.68 275.08 345.91 275.38 349.51 275.8 351.82 276.28 352.8 276.89 353.18 277.29 353.26 277.29 353.26 277.59 316.6 277.74 327.01 277.89 334.47 278.07 340.68 278.31 345.91 278.61 349.51 279.03 351.82 279.51 352.8 280.12 353.18 280.52 353.26 280.52 353.26 280.82 316.6 280.97 327.01 281.12 334.47 281.3 340.68 281.54 345.91 281.84 349.51 282.26 351.82 282.74 352.8 283.35 353.18 283.75 353.26 283.75 353.26 284.05 316.6 284.2 327.01 284.35 334.47 284.53 340.68 284.77 345.91 285.07 349.51 285.49 351.82 285.98 352.8 286.58 353.18 286.98 353.26 286.98 353.26 287.28 316.6 287.43 327.01 287.58 334.47 287.76 340.68 288 345.91 288.3 349.51 288.72 351.82 289.21 352.8 289.81 353.18 290.21 353.26 290.21 353.26 290.51 316.6 290.66 327.01 290.81 334.47 290.99 340.68 291.23 345.91 291.53 349.51 291.95 351.82 292.44 352.8 293.04 353.18 293.44 353.26 293.44 353.26 293.74 316.6 293.89 327.01 294.04 334.47 294.22 340.68 294.46 345.91 294.76 349.51 295.19 351.82 295.67 352.8 296.27 353.18 296.67 353.26 296.67 353.26 296.97 316.6 297.12 327.01 297.27 334.47 297.45 340.68 297.69 345.91 297.99 349.51 298.42 351.82 298.9 352.8 299.5 353.18 299.9 353.26 299.9 353.26 300.2 316.6 300.35 327.01 300.5 334.47 300.68 340.68 300.92 345.91 301.22 349.51 301.65 351.82 302.13 352.8 302.73 353.18 303.13 353.26 303.13 353.26 303.43 316.6 303.58 327.01 303.73 334.47 303.91 340.68 304.15 345.91 304.46 349.51 304.88 351.82 305.36 352.8 305.96 353.18 306.36 353.26 306.36 353.26 306.66 316.6 306.81 327.01 306.96 334.47 307.14 340.68 307.38 345.91 307.69 349.51 308.11 351.82 308.59 352.8 309.19 353.18 309.59 353.26 309.59 353.26 309.89 316.6 310.04 327.01 310.19 334.47 310.37 340.68 310.62 345.91 310.92 349.51 311.34 351.82 311.82 352.8 312.42 353.18 312.82 353.26 312.82 353.26 313.12 316.6 313.27 327.01 313.42 334.47 313.61 340.68 313.85 345.91 314.15 349.51 314.57 351.82 315.05 352.8 315.65 353.18 316.05 353.26 316.05 353.26 316.35 316.6 316.5 327.01 316.66 334.47 316.84 340.68 317.08 345.91 317.38 349.51 317.8 351.82 318.28 352.8 318.88 353.18 319.28 353.26 319.28 353.26 319.58 316.6 319.74 327.01 319.89 334.47 320.07 340.68 320.31 345.91 320.61 349.51 321.03 351.82 321.51 352.8 322.11 353.18 322.51 353.26 322.51 353.26 322.82 316.6 322.97 327.01 323.12 334.47 323.3 340.68 323.54 345.91 323.84 349.51 324.26 351.82 324.74 352.8 325.34 353.18 325.75 353.26 325.75 353.26 326.05 316.6 326.2 327.01 326.35 334.47 326.53 340.68 326.77 345.91 327.07 349.51 327.49 351.82 327.97 352.8 328.57 353.18 328.98 353.26 328.98 353.26 329.28 316.6 329.43 327.01 329.58 334.47 329.76 340.68 330 345.91 330.3 349.51 330.72 351.82 331.2 352.8 331.8 353.18 332.21 353.26 332.21 353.26 332.51 316.6 332.66 327.01 332.81 334.47 332.99 340.68 333.23 345.91 333.53 349.51 333.95 351.82 334.43 352.8 335.03 353.18 335.44 353.26 335.44 353.26 335.74 316.6 335.89 327.01 336.04 334.47 336.22 340.68 336.46 345.91 336.76 349.51 337.18 351.82 337.66 352.8 338.26 353.18 338.67 353.26 338.67 353.26 338.97 316.6 339.12 327.01 339.27 334.47 339.45 340.68 339.69 345.91 339.99 349.51 340.41 351.82 340.89 352.8 341.49 353.18 341.9 353.26 341.9 353.26 342.2 316.6 342.35 327.01 342.5 334.47 342.68 340.68 342.92 345.91 343.22 349.51 343.64 351.82 344.12 352.8" fill="none" stroke="#00f" stroke-width="0.9" stroke-linejoin="round"/>
<path clip-path="url(#c5)" d="M43.54 317.28 43.75 317.28 44.05 316.6 44.2 327.01 44.35 334.47 44.53 340.68 44.77 345.91 45.07 349.51 45.49 351.82 45.97 352.8 46.58 353.18 46.79 353.23 46.79 353.23 47.09 316.6 47.24 327.01 47.39 334.47 47.57 340.68 47.81 345.91 48.11 349.51 48.53 351.82 49.01 352.8 49.61 353.18 49.84 353.24 49.84 353.24 50.14 316.6 50.29 327.01 50.44 334.47 50.62 340.68 50.86 345.91 51.17 349.51 51.59 351.82 52.07 352.8 52.67 353.18 52.91 353.24 52.91 353.24 53.21 316.6 53.36 327.01 53.51 334.47 53.69 340.68 53.93 345.91 54.23 349.51 54.66 351.82 55.14 352.8 55.74 353.18 55.99 353.24 55.99 353.24 56.29 316.6 56.44 327.01 56.59 334.47 56.78 340.68 57.02 345.91 57.32 349.51 57.74 351.82 58.22 352.8 58.82 353.18 59.09 353.24 59.09 353.24 59.39 316.6 59.54 327.01 59.69 334.47 59.87 340.68 60.11 345.91 60.41 349.51 60.83 351.82 61.31 352.8 61.91 353.18 62.19 353.25 62.19 353.25 62.49 316.6 62.64 327.01 62.79 334.47 62.97 340.68 63.22 345.91 63.52 349.51 63.94 351.82 64.42 352.8 65.02 353.18 65.31 353.25 65.31 353.25 65.61 316.6 65.76 327.01 65.91 334.47 66.09 340.68 66.33 345.91 66.63 349.51 67.05 351.82 67.53 352.8 68.14 353.18 68.43 353.25 68.43 353.25 68.73 316.6 68.88 327.01 69.03 334.47 69.21 340.68 69.46 345.91 69.76 349.51 70.18 351.82 70.66 352.8 71.26 353.18 71.57 353.25 71.57 353.25 71.87 316.6 72.02 327.01 72.17 334.47 72.35 340.68 72.59 345.91 72.89 349.51 73.31 351.82 73.79 352.8 74.39 353.18 74.71 353.25 74.71 353.25 75.01 316.6 75.16 327.01 75.31 334.47 75.49 340.68 75.73 345.91 76.03 349.51 76.45 351.82 76.93 352.8 77.54 353.18 77.86 353.25 77.86 353.25 78.16 316.6 78.31 327.01 78.46 334.47 78.64 340.68 78.88 345.91 79.18 349.51 79.6 351.82 80.08 352.8 80.68 353.18 81.01 353.25 81.01 353.25 81.31 316.6 81.46 327.01 81.61 334.47 81.79 340.68 82.03 345.91 82.34 349.51 82.76 351.82 83.24 352.8 83.84 353.18 84.17 353.25 84.17 353.25 84.47 316.6 84.62 327.01 84.78 334.47 84.96 340.68 85.2 345.91 85.5 349.51 85.92 351.82 86.4 352.8 87 353.18 87.34 353.26 87.34 353.26 87.64 316.6 87.79 327.01 87.94 334.47 88.12 340.68 88.36 345.91 88.66 349.51 89.09 351.82 89.57 352.8 90.17 353.18 90.51 353.26 90.51 353.26 90.81 316.6 90.96 327.01 91.11 334.47 91.3 340.68 91.54 345.91 91.84 349.51 92.26 351.82 92.74 352.8 93.34 353.18 93.69 353.26 93.69 353.26 93.99 316.6 94.14 327.01 94.29 334.47 94.47 340.68 94.71 345.91 95.01 349.51 95.43 351.82 95.92 352.8 96.52 353.18 96.87 353.26 96.87 353.26 97.17 316.6 97.32 327.01 97.47 334.47 97.65 340.68 97.89 345.91 98.19 349.51 98.62 351.82 99.1 352.8 99.7 353.18 100.06 353.26 100.06 353.26 100.36 316.6 100.51 327.01 100.66 334.47 100.84 340.68 101.08 345.91 101.38 349.51 101.8 351.82 102.28 352.8 102.88 353.18 103.24 353.26 103.24 353.26 103.55 316.6 103.7 327.01 103.85 334.47 104.03 340.68 104.27 345.91 104.57 349.51 104.99 351.82 105.47 352.8 106.07 353.18 106.44 353.26 106.44 353.26 106.74 316.6 106.89 327.01 107.04 334.47 107.22 340.68 107.46 345.91 107.76 349.51 108.18 351.82 108.66 352.8 109.26 353.18 109.63 353.26 109.63 353.26 109.93 316.6 110.08 327.01 110.23 334.47 110.41 340.68 110.65 345.91 110.95 349.51 111.38 351.82 111.86 352.8 112.46 353.18 112.83 353.26 112.83 353.26 113.13 316.6 113.28 327.01 113.43 334.47 113.61 340.68 113.85 345.91 114.15 349.51 114.57 351.82 115.05 352.8 115.66 353.18 116.03 353.26 116.03 353.26 116.33 316.6 116.48 327.01 116.63 334.47 116.81 340.68 117.05 345.91 117.35 349.51 117.77 351.82 118.25 352.8 118.85 353.18 119.23 353.26 119.23 353.26 119.53 316.6 119.68 327.01 119.83 334.47 120.01 340.68 120.25 345.91 120.55 349.51 120.97 351.82 121.45 352.8 122.06 353.18 122.43 353.26 122.43 353.26 122.73 316.6 122.88 327.01 123.03 334.47 123.21 340.68 123.45 345.91 123.76 349.51 124.18 351.82 124.66 352.8 125.26 353.18 125.64 353.26 125.64 353.26 125.94 316.6 126.09 327.01 126.24 334.47 126.42 340.68 126.66 345.91 126.96 349.51 127.38 351.82 127.86 352.8 128.46 353.18 128.84 353.26 128.84 353.26 129.14 316.6 129.29 327.01 129.44 334.47 129.62 340.68 129.87 345.91 130.17 349.51 130.59 351.82 131.07 352.8 131.67 353.18 132.05 353.26 132.05 353.26 132.35 316.6 132.5 327.01 132.65 334.47 132.83 340.68 133.07 345.91 133.37 349.51 133.79 351.82 134.28 352.8 134.88 353.18 135.26 353.26 135.26 353.26 135.56 316.6 135.71 327.01 135.86 334.47 136.04 340.68 136.28 345.91 136.58 349.51 137 351.82 137.48 352.8 138.09 353.18 138.47 353.26 138.47 353.26 138.77 316.6 138.92 327.01 139.07 334.47 139.25 340.68 139.49 345.91 139.79 349.51 140.21 351.82 140.69 352.8 141.3 353.18 141.68 353.26 141.68 353.26 141.98 316.6 142.13 327.01 142.28 334.47 142.46 340.68 142.7 345.91 143 349.51 143.42 351.82 143.9 352.8 144.51 353.18 144.89 353.26 144.89 353.26 145.19 316.6 145.34 327.01 145.49 334.47 145.67 340.68 145.91 345.91 146.21 349.51 146.63 351.82 147.11 352.8 147.72 353.18 148.1 353.26 148.1 353.26 148.4 316.6 148.55 327.01 148.7 334.47 148.88 340.68 149.12 345.91 149.42 349.51 149.84 351.82 150.32 352.8 150.93 353.18 151.31 353.26 151.31 353.26 151.61 316.6 151.76 327.01 151.91 334.47 152.09 340.68 152.33 345.91 152.63 349.51 153.05 351.82 153.54 352.8 154.14 353.18 154.52 353.26 154.52 353.26 154.82 316.6 154.97 327.01 155.12 334.47 155.3 340.68 155.54 345.91 155.84 349.51 156.26 351.82 156.75 352.8 157.35 353.18 157.73 353.26 157.73 353.26 158.03 316.6 158.18 327.01 158.33 334.47 158.51 340.68 158.75 345.91 159.05 349.51 159.48 351.82 159.96 352.8 160.56 353.18 160.94 353.26 160.94 353.26 161.24 316.6 161.39 327.01 161.54 334.47 161.72 340.68 161.96 345.91 162.26 349.51 162.69 351.82 163.17 352.8 163.77 353.18 164.15 353.26 164.15 353.26 164.45 316.6 164.6 327.01 164.75 334.47 164.93 340.68 165.17 345.91 165.47 349.51 165.89 351.82 166.38 352.8 166.98 353.18 167.36 353.26 167.36 353.26 167.66 316.6 167.81 327.01 167.96 334.47 168.14 340.68 168.38 345.91 168.68 349.51 169.1 351.82 169.58 352.8 170.19 353.18 170.57 353.26 170.57 353.26 170.87 316.6 171.02 327.01 171.17 334.47 171.35 340.68 171.59 345.91 171.89 349.51 172.31 351.82 172.79 352.8 173.39 353.18 173.77 353.26 173.77 353.26 174.07 316.6 174.22 327.01 174.38 334.47 174.56 340.68 174.8 345.91 175.1 349.51 175.52 351.82 176 352.8 176.6 353.18 176.98 353.26 176.98 353.26 177.28 316.6 177.43 327.01 177.58 334.47 177.76 340.68 178 345.91 178.3 349.51 178.72 351.82 179.21 352.8 179.81 353.18 180.18 353.26 180.18 353.26 180.48 316.6 180.64 327.01 180.79 334.47 180.97 340.68 181.21 345.91 181.51 349.51 181.93 351.82 182.41 352.8 183.01 353.18 183.39 353.26 183.39 353.26 183.69 316.6 183.84 327.01 183.99 334.47 184.17 340.68 184.41 345.91 184.71 349.51 185.13 351.82 185.61 352.8 186.21 353.18 186.59 353.26 186.59 353.26 186.89 316.6 187.04 327.01 187.19 334.47 187.37 340.68 187.61 345.91 187.91 349.51 188.33 351.82 188.81 352.8 189.42 353.18 189.79 353.26 189.79 353.26 190.09 316.6 190.24 327.01 190.39 334.47 190.57 340.68 190.81 345.91 191.11 349.51 191.53 351.82 192.01 352.8 192.62 353.18 192.99 353.26 192.99 353.26 193.29 316.6 193.44 327.01 193.59 334.47 193.77 340.68 194.01 345.91 194.31 349.51 194.73 351.82 195.21 352.8 195.81 353.18 196.18 353.26 196.18 353.26 196.48 316.6 196.63 327.01 196.78 334.47 196.96 340.68 197.21 345.91 197.51 349.51 197.93 351.82 198.41 352.8 199.01 353.18 199.38 353.26 199.38 353.26 199.68 316.6 199.83 327.01 199.98 334.47 200.16 340.68 200.4 345.91 200.7 349.51 201.12 351.82 201.6 352.8 202.2 353.18 202.57 353.26 202.57 353.26 202.87 316.6 203.02 327.01 203.17 334.47 203.35 340.68 203.59 345.91 203.89 349.51 204.31 351.82 204.8 352.8 205.4 353.18 205.76 353.26 205.76 353.26 206.06 316.6 206.21 327.01 206.36 334.47 206.54 340.68 206.78 345.91 207.08 349.51 207.5 351.82 207.99 352.8 208.59 353.18 208.95 353.26 208.95 353.26 209.25 316.6 209.4 327.01 209.55 334.47 209.73 340.68 209.97 345.91 210.27 349.51 210.69 351.82 211.17 352.8 211.77 353.18 212.13 353.26 212.13 353.26 212.43 316.6 212.58 327.01 212.73 334.47 212.92 340.68 213.16 345.91 213.46 349.51 213.88 351.82 214.36 352.8 214.96 353.18 215.32 353.26 215.32 353.26 215.62 316.6 215.77 327.01 215.92 334.47 216.1 340.68 216.34 345.91 216.64 349.51 217.06 351.82 217.54 352.8 218.14 353.18 218.5 353.26 218.5 353.26 218.8 316.6 218.95 327.01 219.1 334.47 219.28 340.68 219.52 345.91 219.82 349.51 220.24 351.82 220.73 352.8 221.33 353.18 221.68 353.26 221.68 353.26 221.98 316.6 222.13 327.01 222.28 334.47 222.46 340.68 222.7 345.91 223 349.51 223.42 351.82 223.91 352.8 224.51 353.18 224.86 353.26 224.86 353.26 225.16 316.6 225.31 327.01 225.46 334.47 225.64 340.68 225.88 345.91 226.18 349.51 226.6 351.82 227.09 352.8 227.69 353.18 228.04 353.26 228.04 353.26 228.34 316.6 228.49 327.01 228.64 334.47 228.82 340.68 229.06 345.91 229.36 349.51 229.78 351.82 230.26 352.8 230.86 353.18 231.21 353.26 231.21 353.26 231.51 316.6 231.66 327.01 231.81 334.47 232 340.68 232.24 345.91 232.54 349.51 232.96 351.82 233.44 352.8 234.04 353.18 234.39 353.26 234.39 353.26 234.69 316.6 234.84 327.01 234.99 334.47 235.17 340.68 235.41 345.91 235.71 349.51 236.13 351.82 236.61 352.8 237.22 353.18 237.56 353.26 237.56 353.26 237.86 316.6 238.02 327.01 238.17 334.47 238.35 340.68 238.59 345.91 238.89 349.51 239.31 351.82 239.79 352.8 240.39 353.18 240.74 353.26 240.74 353.26 241.04 316.6 241.19 327.01 241.34 334.47 241.52 340.68 241.76 345.91 242.06 349.51 242.48 351.82 242.96 352.8 243.57 353.18 243.91 353.26 243.91 353.26 244.21 316.6 244.37 327.01 244.52 334.47 244.7 340.68 244.94 345.91 245.24 349.51 245.66 351.82 246.14 352.8 246.74 353.18 247.09 353.26 247.09 353.26 247.39 316.6 247.54 327.01 247.69 334.47 247.87 340.68 248.11 345.91 248.41 349.51 248.83 351.82 249.32 352.8 249.92 353.18 250.27 353.26 250.27 353.26 250.57 316.6 250.72 327.01 250.87 334.47 251.05 340.68 251.29 345.91 251.59 349.51 252.01 351.82 252.49 352.8 253.09 353.18 253.44 353.26 253.44 353.26 253.74 316.6 253.89 327.01 254.04 334.47 254.22 340.68 254.46 345.91 254.77 349.51 255.19 351.82 255.67 352.8 256.27 353.18 256.62 353.26 256.62 353.26 256.92 316.6 257.07 327.01 257.22 334.47 257.4 340.68 257.64 345.91 257.94 349.51 258.36 351.82 258.85 352.8 259.45 353.18 259.8 353.26 259.8 353.26 260.1 316.6 260.25 327.01 260.4 334.47 260.58 340.68 260.82 345.91 261.12 349.51 261.54 351.82 262.03 352.8 262.63 353.18 262.98 353.26 262.98 353.26 263.28 316.6 263.43 327.01 263.58 334.47 263.76 340.68 264 345.91 264.3 349.51 264.73 351.82 265.21 352.8 265.81 353.18 266.16 353.26 266.16 353.26 266.47 316.6 266.62 327.01 266.77 334.47 266.95 340.68 267.19 345.91 267.49 349.51 267.91 351.82 268.39 352.8 268.99 353.18 269.35 353.26 269.35 353.26 269.65 316.6 269.8 327.01 269.95 334.47 270.13 340.68 270.37 345.91 270.67 349.51 271.09 351.82 271.58 352.8 272.18 353.18 272.54 353.26 272.54 353.26 272.84 316.6 272.99 327.01 273.14 334.47 273.32 340.68 273.56 345.91 273.86 349.51 274.28 351.82 274.76 352.8 275.36 353.18 275.73 353.26 275.73 353.26 276.03 316.6 276.18 327.01 276.33 334.47 276.51 340.68 276.75 345.91 277.05 349.51 277.47 351.82 277.95 352.8 278.55 353.18 278.92 353.26 278.92 353.26 279.22 316.6 279.37 327.01 279.52 334.47 279.7 340.68 279.94 345.91 280.24 349.51 280.66 351.82 281.14 352.8 281.75 353.18 282.11 353.26 282.11 353.26 282.41 316.6 282.56 327.01 282.71 334.47 282.89 340.68 283.13 345.91 283.44 349.51 283.86 351.82 284.34 352.8 284.94 353.18 285.31 353.26 285.31 353.26 285.61 316.6 285.76 327.01 285.91 334.47 286.09 340.68 286.33 345.91 286.63 349.51 287.05 351.82 287.53 352.8 288.14 353.18 288.51 353.26 288.51 353.26 288.81 316.6 288.96 327.01 289.11 334.47 289.29 340.68 289.53 345.91 289.83 349.51 290.25 351.82 290.73 352.8 291.33 353.18 291.71 353.26 291.71 353.26 292.01 316.6 292.16 327.01 292.31 334.47 292.49 340.68 292.73 345.91 293.03 349.51 293.45 351.82 293.93 352.8 294.54 353.18 294.91 353.26 294.91 353.26 295.21 316.6 295.36 327.01 295.51 334.47 295.69 340.68 295.93 345.91 296.23 349.51 296.66 351.82 297.14 352.8 297.74 353.18 298.12 353.26 298.12 353.26 298.42 316.6 298.57 327.01 298.72 334.47 298.9 340.68 299.14 345.91 299.44 349.51 299.86 351.82 300.34 352.8 300.94 353.18 301.32 353.26 301.32 353.26 301.62 316.6 301.77 327.01 301.92 334.47 302.11 340.68 302.35 345.91 302.65 349.51 303.07 351.82 303.55 352.8 304.15 353.18 304.53 353.26 304.53 353.26 304.83 316.6 304.98 327.01 305.13 334.47 305.31 340.68 305.55 345.91 305.86 349.51 306.28 351.82 306.76 352.8 307.36 353.18 307.74 353.26 307.74 353.26 308.04 316.6 308.19 327.01 308.34 334.47 308.52 340.68 308.77 345.91 309.07 349.51 309.49 351.82 309.97 352.8 310.57 353.18 310.95 353.26 310.95 353.26 311.26 316.6 311.41 327.01 311.56 334.47 311.74 340.68 311.98 345.91 312.28 349.51 312.7 351.82 313.18 352.8 313.78 353.18 314.17 353.26 314.17 353.26 314.47 316.6 314.62 327.01 314.77 334.47 314.95 340.68 315.19 345.91 315.49 349.51 315.91 351.82 316.39 352.8 317 353.18 317.38 353.26 317.38 353.26 317.68 316.6 317.84 327.01 317.99 334.47 318.17 340.68 318.41 345.91 318.71 349.51 319.13 351.82 319.61 352.8 320.21 353.18 320.6 353.26 320.6 353.26 320.9 316.6 321.05 327.01 321.2 334.47 321.38 340.68 321.62 345.91 321.92 349.51 322.35 351.82 322.83 352.8 323.43 353.18 323.82 353.26 323.82 353.26 324.12 316.6 324.27 327.01 324.42 334.47 324.6 340.68 324.84 345.91 325.14 349.51 325.56 351.82 326.04 352.8 326.65 353.18 327.04 353.26 327.04 353.26 327.34 316.6 327.49 327.01 327.64 334.47 327.82 340.68 328.06 345.91 328.36 349.51 328.78 351.82 329.26 352.8 329.87 353.18 330.26 353.26 330.26 353.26 330.56 316.6 330.71 327.01 330.86 334.47 331.04 340.68 331.28 345.91 331.58 349.51 332 351.82 332.48 352.8 333.09 353.18 333.48 353.26 333.48 353.26 333.78 316.6 333.93 327.01 334.08 334.47 334.26 340.68 334.5 345.91 334.8 349.51 335.22 351.82 335.7 352.8 336.31 353.18 336.7 353.26 336.7 353.26 337 316.6 337.15 327.01 337.3 334.47 337.48 340.68 337.72 345.91 338.02 349.51 338.45 351.82 338.93 352.8 339.53 353.18 339.92 353.26 339.92 353.26 340.22 316.6 340.37 327.01 340.53 334.47 340.71 340.68 340.95 345.91 341.25 349.51 341.67 351.82 342.15 352.8 342.75 353.18 343.15 353.26 343.15 353.26 343.45 316.6 343.6 327.01 343.75 334.47 343.93 340.68 344.17 345.91" fill="none" stroke="#f00" stroke-width="0.9" stroke-dasharray="2.8 1.2" stroke-linejoin="round"/>
<rect x="28.5" y="314.75" width="331.0" height="40.8" fill="none" stroke="#707070" stroke-width="1.05"/>
<path d="M43.54 355.55v1.6 M103.7 355.55v1.6 M163.86 355.55v1.6 M224.02 355.55v1.6 M284.18 355.55v1.6 M344.34 355.55v1.6 M28.5 317.3h-1.6 M28.5 330.9h-1.6 M28.5 344.6h-1.6" stroke="#444" stroke-width="0.6"/>
<text x="43.54" y="363.15" font-size="5.3" text-anchor="middle" textLength="3.18" lengthAdjust="spacingAndGlyphs">0</text>
<text x="103.7" y="363.15" font-size="5.3" text-anchor="middle" textLength="9.54" lengthAdjust="spacingAndGlyphs">100</text>
<text x="163.86" y="363.15" font-size="5.3" text-anchor="middle" textLength="9.54" lengthAdjust="spacingAndGlyphs">200</text>
<text x="224.02" y="363.15" font-size="5.3" text-anchor="middle" textLength="9.54" lengthAdjust="spacingAndGlyphs">300</text>
<text x="284.18" y="363.15" font-size="5.3" text-anchor="middle" textLength="9.54" lengthAdjust="spacingAndGlyphs">400</text>
<text x="344.34" y="363.15" font-size="5.3" text-anchor="middle" textLength="9.54" lengthAdjust="spacingAndGlyphs">500</text>
<text x="25.2" y="319.15" font-size="5.3" text-anchor="end" textLength="3.18" lengthAdjust="spacingAndGlyphs">3</text>
<text x="25.2" y="332.75" font-size="5.3" text-anchor="end" textLength="3.18" lengthAdjust="spacingAndGlyphs">2</text>
<text x="25.2" y="346.45" font-size="5.3" text-anchor="end" textLength="3.18" lengthAdjust="spacingAndGlyphs">1</text>
<text x="28.6" y="312.95" font-size="5.3" textLength="13.63" lengthAdjust="spacingAndGlyphs">1e−1</text>
<text transform="translate(19.4 335.15) rotate(-90)" font-size="5.6" text-anchor="middle" fill="#111"><tspan font-style="italic">r</tspan><tspan font-size="3.92" dy="1.2" font-style="italic">Ca</tspan></text>
<clipPath id="c6"><rect x="28.5" y="372" width="331.0" height="40.8"/></clipPath>
<path clip-path="url(#c6)" d="M43.54 398.41 43.81 398.41 44.02 373.93 44.32 376.39 44.62 380.83 44.86 383.05 45.74 386.74 46.1 390.19 46.46 394.88 46.85 398.57 46.85 398.57 47.06 374.8 47.36 377.33 47.66 381.88 47.9 384.16 48.79 387.96 49.15 391.5 49.51 396.31 49.91 400.11 49.91 400.11 50.12 375.59 50.42 378.17 50.72 382.83 50.96 385.15 51.86 389.03 52.22 392.65 52.58 397.56 52.97 401.44 52.97 401.44 53.19 376.3 53.49 378.93 53.79 383.67 54.03 386.03 54.94 389.98 55.31 393.66 55.67 398.66 56.06 402.6 56.06 402.6 56.27 376.95 56.57 379.62 56.87 384.42 57.11 386.81 58.04 390.81 58.4 394.54 58.76 399.61 59.15 403.61 59.15 403.61 59.36 377.54 59.66 380.23 59.96 385.08 60.2 387.51 61.14 391.55 61.51 395.32 61.87 400.44 62.26 404.48 62.26 404.48 62.47 378.07 62.77 380.79 63.07 385.68 63.31 388.12 64.26 392.2 64.62 396 64.98 401.16 65.37 405.24 65.37 405.24 65.58 378.55 65.89 381.29 66.19 386.21 66.43 388.67 67.39 392.77 67.75 396.6 68.11 401.79 68.5 405.89 68.5 405.89 68.71 378.99 69.01 381.73 69.31 386.68 69.55 389.15 70.52 393.27 70.88 397.12 71.24 402.34 71.63 406.46 71.63 406.46 71.84 379.38 72.14 382.14 72.45 387.1 72.69 389.58 73.66 393.71 74.02 397.57 74.38 402.81 74.78 406.95 74.78 406.95 74.99 379.74 75.29 382.5 75.59 387.47 75.83 389.96 76.81 394.1 77.17 397.97 77.53 403.22 77.93 407.37 77.93 407.37 78.14 380.06 78.44 382.83 78.74 387.81 78.98 390.3 79.97 394.45 80.33 398.32 80.69 403.58 81.08 407.73 81.08 407.73 81.29 380.35 81.59 383.12 81.89 388.1 82.13 390.6 83.13 394.75 83.49 398.63 83.85 403.89 84.24 408.05 84.24 408.05 84.46 380.61 84.76 383.38 85.06 388.37 85.3 390.86 86.3 395.02 86.66 398.9 87.02 404.16 87.41 408.32 87.41 408.32 87.62 380.84 87.92 383.61 88.22 388.6 88.47 391.1 89.47 395.25 89.83 399.13 90.2 404.4 90.59 408.55 90.59 408.55 90.8 381.06 91.1 383.83 91.4 388.81 91.64 391.3 92.65 395.46 93.01 399.34 93.37 404.6 93.76 408.75 93.76 408.75 93.98 381.25 94.28 384.02 94.58 389 94.82 391.49 95.83 395.64 96.2 399.52 96.56 404.77 96.95 408.93 96.95 408.93 97.16 381.42 97.46 384.19 97.76 389.16 98 391.65 99.02 395.8 99.38 399.67 99.74 404.93 100.13 409.08 100.13 409.08 100.34 381.58 100.65 384.34 100.95 389.31 101.19 391.8 102.21 395.94 102.57 399.81 102.93 405.06 103.32 409.2 103.32 409.2 103.54 381.72 103.84 384.48 104.14 389.44 104.38 391.93 105.41 396.07 105.77 399.93 106.13 405.18 106.52 409.32 106.52 409.32 106.73 381.84 107.03 384.6 107.33 389.56 107.57 392.04 108.6 396.18 108.96 400.04 109.32 405.27 109.72 409.41 109.72 409.41 109.93 381.95 110.23 384.71 110.53 389.66 110.77 392.14 111.8 396.27 112.16 400.13 112.52 405.36 112.92 409.49 112.92 409.49 113.13 382.06 113.43 384.81 113.73 389.76 113.97 392.23 115 396.36 115.37 400.21 115.73 405.44 116.12 409.56 116.12 409.56 116.33 382.15 116.63 384.9 116.93 389.84 117.17 392.31 118.21 396.43 118.57 400.28 118.93 405.5 119.32 409.62 119.32 409.62 119.53 382.23 119.83 384.97 120.13 389.91 120.38 392.38 121.42 396.5 121.78 400.34 122.14 405.56 122.53 409.68 122.53 409.68 122.74 382.3 123.04 385.05 123.34 389.98 123.58 392.45 124.63 396.56 124.99 400.4 125.35 405.61 125.74 409.72 125.74 409.72 125.95 382.37 126.25 385.11 126.55 390.04 126.79 392.5 127.84 396.61 128.2 400.45 128.56 405.65 128.95 409.76 128.95 409.76 129.16 382.43 129.46 385.17 129.76 390.09 130 392.55 131.05 396.66 131.41 400.49 131.77 405.69 132.16 409.79 132.16 409.79 132.37 382.49 132.67 385.22 132.97 390.14 133.21 392.6 134.26 396.7 134.62 400.53 134.99 405.72 135.38 409.82 135.38 409.82 135.59 382.53 135.89 385.26 136.19 390.18 136.43 392.64 137.48 396.74 137.84 400.56 138.2 405.75 138.59 409.84 138.59 409.84 138.8 382.58 139.1 385.31 139.4 390.22 139.64 392.67 140.7 396.77 141.06 400.59 141.42 405.77 141.81 409.86 141.81 409.86 142.02 382.62 142.32 385.34 142.62 390.25 142.86 392.71 143.91 396.79 144.27 400.61 144.64 405.79 145.03 409.88 145.03 409.88 145.24 382.65 145.54 385.38 145.84 390.28 146.08 392.73 147.13 396.82 147.49 400.63 147.85 405.81 148.25 409.9 148.25 409.9 148.46 382.68 148.76 385.41 149.06 390.31 149.3 392.76 150.35 396.84 150.71 400.65 151.07 405.83 151.47 409.91 151.47 409.91 151.68 382.71 151.98 385.43 152.28 390.33 152.52 392.78 153.57 396.86 153.93 400.67 154.3 405.84 154.69 409.92 154.69 409.92 154.9 382.74 155.2 385.46 155.5 390.35 155.74 392.8 156.8 396.88 157.16 400.69 157.52 405.85 157.91 409.93 157.91 409.93 158.12 382.76 158.42 385.48 158.72 390.37 158.96 392.82 160.02 396.89 160.38 400.7 160.74 405.86 161.13 409.94 161.13 409.94 161.34 382.78 161.64 385.5 161.94 390.39 162.18 392.83 163.24 396.91 163.6 400.71 163.96 405.87 164.35 409.95 164.35 409.95 164.56 382.8 164.87 385.52 165.17 390.4 165.41 392.85 166.46 396.92 166.83 400.72 167.19 405.88 167.58 409.95 167.58 409.95 167.79 382.82 168.09 385.53 168.39 390.42 168.63 392.86 169.69 396.93 170.05 400.73 170.41 405.89 170.8 409.96 170.8 409.96 171.01 382.83 171.31 385.54 171.61 390.43 171.85 392.87 172.91 396.94 173.27 400.74 173.64 405.89 174.03 409.96 174.03 409.96 174.24 382.85 174.54 385.56 174.84 390.44 175.08 392.88 176.14 396.95 176.5 400.75 176.86 405.9 177.25 409.97 177.25 409.97 177.46 382.86 177.76 385.57 178.06 390.45 178.31 392.89 179.37 396.96 179.73 400.75 180.09 405.9 180.48 409.97 180.48 409.97 180.69 382.87 180.99 385.58 181.29 390.46 181.53 392.9 182.59 396.96 182.95 400.76 183.31 405.91 183.7 409.97 183.7 409.97 183.92 382.88 184.22 385.59 184.52 390.47 184.76 392.9 185.82 396.97 186.18 400.76 186.54 405.91 186.93 409.98 186.93 409.98 187.14 382.89 187.44 385.6 187.74 390.47 187.98 392.91 189.05 396.97 189.41 400.77 189.77 405.91 190.16 409.98 190.16 409.98 190.37 382.89 190.67 385.6 190.97 390.48 191.21 392.92 192.27 396.98 192.63 400.77 192.99 405.92 193.39 409.98 193.39 409.98 193.6 382.9 193.9 385.61 194.2 390.48 194.44 392.92 195.5 396.98 195.86 400.77 196.22 405.92 196.61 409.98 196.61 409.98 196.82 382.91 197.12 385.62 197.43 390.49 197.67 392.93 198.73 396.99 199.09 400.78 199.45 405.92 199.84 409.98 199.84 409.98 200.05 382.91 200.35 385.62 200.65 390.49 200.89 392.93 201.96 396.99 202.32 400.78 202.68 405.92 203.07 409.98 203.07 409.98 203.28 382.92 203.58 385.63 203.88 390.5 204.12 392.93 205.18 396.99 205.55 400.78 205.91 405.93 206.3 409.99 206.3 409.99 206.51 382.92 206.81 385.63 207.11 390.5 207.35 392.94 208.41 397 208.77 400.78 209.13 405.93 209.53 409.99 209.53 409.99 209.74 382.93 210.04 385.63 210.34 390.5 210.58 392.94 211.64 397 212 400.79 212.36 405.93 212.75 409.99 212.75 409.99 212.96 382.93 213.27 385.64 213.57 390.51 213.81 392.94 214.87 397 215.23 400.79 215.59 405.93 215.98 409.99 215.98 409.99 216.19 382.93 216.49 385.64 216.8 390.51 217.04 392.94 218.1 397 218.46 400.79 218.82 405.93 219.21 409.99 219.21 409.99 219.42 382.94 219.72 385.64 220.02 390.51 220.26 392.95 221.33 397 221.69 400.79 222.05 405.93 222.44 409.99 222.44 409.99 222.65 382.94 222.95 385.65 223.25 390.51 223.49 392.95 224.56 397.01 224.92 400.79 225.28 405.93 225.67 409.99 225.67 409.99 225.88 382.94 226.18 385.65 226.48 390.52 226.72 392.95 227.79 397.01 228.15 400.79 228.51 405.93 228.9 409.99 228.9 409.99 229.11 382.95 229.41 385.65 229.71 390.52 229.95 392.95 231.02 397.01 231.38 400.79 231.74 405.93 232.13 409.99 232.13 409.99 232.34 382.95 232.64 385.65 232.94 390.52 233.18 392.95 234.25 397.01 234.61 400.8 234.97 405.93 235.36 409.99 235.36 409.99 235.57 382.95 235.87 385.65 236.17 390.52 236.41 392.95 237.48 397.01 237.84 400.8 238.2 405.93 238.59 409.99 238.59 409.99 238.8 382.95 239.1 385.65 239.4 390.52 239.64 392.96 240.71 397.01 241.07 400.8 241.43 405.93 241.82 409.99 241.82 409.99 242.03 382.95 242.33 385.66 242.63 390.52 242.87 392.96 243.93 397.01 244.3 400.8 244.66 405.93 245.05 409.99 245.05 409.99 245.26 382.95 245.56 385.66 245.86 390.52 246.1 392.96 247.16 397.01 247.53 400.8 247.89 405.93 248.28 409.99 248.28 409.99 248.49 382.95 248.79 385.66 249.09 390.52 249.33 392.96 250.39 397.01 250.76 400.8 251.12 405.94 251.51 409.99 251.51 409.99 251.72 382.96 252.02 385.66 252.32 390.53 252.56 392.96 253.62 397.01 253.99 400.8 254.35 405.94 254.74 409.99 254.74 409.99 254.95 382.96 255.25 385.66 255.55 390.53 255.79 392.96 256.85 397.01 257.22 400.8 257.58 405.94 257.97 409.99 257.97 409.99 258.18 382.96 258.48 385.66 258.78 390.53 259.02 392.96 260.08 397.01 260.45 400.8 260.81 405.94 261.2 409.99 261.2 409.99 261.41 382.96 261.71 385.66 262.01 390.53 262.25 392.96 263.32 397.02 263.68 400.8 264.04 405.94 264.43 409.99 264.43 409.99 264.64 382.96 264.94 385.66 265.24 390.53 265.48 392.96 266.55 397.02 266.91 400.8 267.27 405.94 267.66 409.99 267.66 409.99 267.87 382.96 268.17 385.66 268.47 390.53 268.71 392.96 269.78 397.02 270.14 400.8 270.5 405.94 270.89 409.99 270.89 409.99 271.1 382.96 271.4 385.66 271.7 390.53 271.94 392.96 273.01 397.02 273.37 400.8 273.73 405.94 274.12 409.99 274.12 409.99 274.33 382.96 274.63 385.66 274.93 390.53 275.17 392.96 276.24 397.02 276.6 400.8 276.96 405.94 277.35 409.99 277.35 409.99 277.56 382.96 277.86 385.66 278.16 390.53 278.4 392.96 279.47 397.02 279.83 400.8 280.19 405.94 280.58 409.99 280.58 409.99 280.79 382.96 281.09 385.66 281.39 390.53 281.63 392.96 282.7 397.02 283.06 400.8 283.42 405.94 283.81 409.99 283.81 409.99 284.02 382.96 284.32 385.66 284.62 390.53 284.86 392.96 285.93 397.02 286.29 400.8 286.65 405.94 287.04 409.99 287.04 409.99 287.25 382.96 287.55 385.66 287.85 390.53 288.09 392.96 289.16 397.02 289.52 400.8 289.88 405.94 290.27 409.99 290.27 409.99 290.48 382.96 290.78 385.66 291.08 390.53 291.32 392.96 292.39 397.02 292.75 400.8 293.11 405.94 293.5 409.99 293.5 409.99 293.71 382.96 294.01 385.67 294.31 390.53 294.55 392.96 295.62 397.02 295.98 400.8 296.34 405.94 296.73 409.99 296.73 409.99 296.94 382.96 297.24 385.67 297.54 390.53 297.78 392.96 298.85 397.02 299.21 400.8 299.57 405.94 299.96 409.99 299.96 409.99 300.17 382.96 300.47 385.67 300.77 390.53 301.01 392.96 302.08 397.02 302.44 400.8 302.8 405.94 303.19 409.99 303.19 409.99 303.4 382.96 303.7 385.67 304 390.53 304.24 392.96 305.31 397.02 305.67 400.8 306.03 405.94 306.42 409.99 306.42 409.99 306.63 382.96 306.93 385.67 307.23 390.53 307.48 392.96 308.54 397.02 308.9 400.8 309.26 405.94 309.65 409.99 309.65 409.99 309.86 382.96 310.16 385.67 310.46 390.53 310.71 392.96 311.77 397.02 312.13 400.8 312.49 405.94 312.88 409.99 312.88 409.99 313.09 382.96 313.39 385.67 313.7 390.53 313.94 392.96 315 397.02 315.36 400.8 315.72 405.94 316.11 409.99 316.11 409.99 316.32 382.96 316.63 385.67 316.93 390.53 317.17 392.96 318.23 397.02 318.59 400.8 318.95 405.94 319.34 409.99 319.34 409.99 319.55 382.96 319.86 385.67 320.16 390.53 320.4 392.96 321.46 397.02 321.82 400.8 322.18 405.94 322.57 409.99 322.57 409.99 322.79 382.96 323.09 385.67 323.39 390.53 323.63 392.96 324.69 397.02 325.05 400.8 325.41 405.94 325.81 409.99 325.81 409.99 326.02 382.96 326.32 385.67 326.62 390.53 326.86 392.96 327.92 397.02 328.28 400.8 328.64 405.94 329.04 409.99 329.04 409.99 329.25 382.96 329.55 385.67 329.85 390.53 330.09 392.96 331.15 397.02 331.51 400.8 331.88 405.94 332.27 409.99 332.27 409.99 332.48 382.96 332.78 385.67 333.08 390.53 333.32 392.96 334.38 397.02 334.74 400.8 335.11 405.94 335.5 409.99 335.5 409.99 335.71 382.96 336.01 385.67 336.31 390.53 336.55 392.96 337.61 397.02 337.98 400.8 338.34 405.94 338.73 409.99 338.73 409.99 338.94 382.96 339.24 385.67 339.54 390.53 339.78 392.96 340.84 397.02 341.21 400.8 341.57 405.94 341.96 409.99 341.96 409.99 342.17 382.96 342.47 385.67 342.77 390.53 343.01 392.96 344.08 397.02" fill="none" stroke="#00f" stroke-width="0.85" stroke-linejoin="round"/>
<path clip-path="url(#c6)" d="M43.54 398.41 43.81 398.41 44.02 373.93 44.32 376.39 44.62 380.83 44.86 383.05 45.73 386.74 46.1 390.19 46.46 394.87 46.85 398.57 46.85 398.57 47.06 374.8 47.36 377.33 47.66 381.88 47.9 384.16 48.79 387.96 49.15 391.5 49.51 396.31 49.9 400.11 49.9 400.11 50.11 375.59 50.41 378.17 50.71 382.83 50.95 385.15 51.86 389.03 52.22 392.65 52.58 397.56 52.97 401.44 52.97 401.44 53.18 376.3 53.48 378.93 53.78 383.67 54.02 386.03 54.94 389.98 55.3 393.66 55.66 398.66 56.05 402.6 56.05 402.6 56.26 376.95 56.56 379.62 56.87 384.41 57.11 386.81 58.03 390.81 58.4 394.54 58.76 399.61 59.15 403.61 59.15 403.61 59.36 377.54 59.66 380.23 59.96 385.08 60.2 387.51 61.14 391.55 61.5 395.32 61.86 400.44 62.25 404.48 62.25 404.48 62.46 378.07 62.76 380.79 63.06 385.68 63.31 388.12 64.26 392.2 64.62 396 64.98 401.16 65.37 405.24 65.37 405.24 65.58 378.55 65.88 381.29 66.18 386.21 66.42 388.67 67.38 392.77 67.74 396.59 68.1 401.79 68.49 405.89 68.49 405.89 68.7 378.99 69 381.73 69.31 386.68 69.55 389.15 70.51 393.27 70.87 397.12 71.24 402.33 71.63 406.46 71.63 406.46 71.84 379.38 72.14 382.14 72.44 387.1 72.68 389.58 73.66 393.71 74.02 397.57 74.38 402.81 74.77 406.94 74.77 406.94 74.98 379.74 75.28 382.5 75.58 387.47 75.82 389.96 76.8 394.1 77.16 397.97 77.53 403.22 77.92 407.37 77.92 407.37 78.13 380.06 78.43 382.82 78.73 387.81 78.97 390.3 79.96 394.45 80.32 398.32 80.68 403.58 81.07 407.73 81.07 407.73 81.28 380.35 81.58 383.12 81.88 388.1 82.13 390.6 83.12 394.75 83.48 398.63 83.84 403.89 84.23 408.05 84.23 408.05 84.44 380.61 84.75 383.38 85.05 388.37 85.29 390.86 86.29 395.02 86.65 398.9 87.01 404.16 87.4 408.32 87.4 408.32 87.61 380.84 87.91 383.61 88.21 388.6 88.45 391.09 89.46 395.25 89.82 399.13 90.18 404.39 90.57 408.55 90.57 408.55 90.78 381.06 91.08 383.83 91.39 388.81 91.63 391.3 92.64 395.46 93 399.34 93.36 404.6 93.75 408.75 93.75 408.75 93.96 381.25 94.26 384.01 94.56 389 94.8 391.49 95.82 395.64 96.18 399.51 96.54 404.77 96.93 408.93 96.93 408.93 97.14 381.42 97.44 384.18 97.74 389.16 97.98 391.65 99 395.8 99.36 399.67 99.73 404.93 100.12 409.08 100.12 409.08 100.33 381.57 100.63 384.34 100.93 389.31 101.17 391.8 102.19 395.94 102.55 399.81 102.91 405.06 103.3 409.2 103.3 409.2 103.52 381.71 103.82 384.47 104.12 389.44 104.36 391.93 105.38 396.07 105.74 399.93 106.11 405.17 106.5 409.31 106.5 409.31 106.71 381.84 107.01 384.6 107.31 389.56 107.55 392.04 108.58 396.18 108.94 400.04 109.3 405.27 109.69 409.41 109.69 409.41 109.9 381.95 110.2 384.71 110.5 389.66 110.74 392.14 111.77 396.27 112.14 400.13 112.5 405.36 112.89 409.49 112.89 409.49 113.1 382.06 113.4 384.81 113.7 389.76 113.94 392.23 114.97 396.36 115.34 400.21 115.7 405.44 116.09 409.56 116.09 409.56 116.3 382.15 116.6 384.89 116.9 389.84 117.14 392.31 118.18 396.43 118.54 400.28 118.9 405.5 119.29 409.62 119.29 409.62 119.5 382.23 119.8 384.97 120.1 389.91 120.34 392.38 121.38 396.5 121.74 400.34 122.1 405.56 122.49 409.67 122.49 409.67 122.7 382.3 123 385.05 123.3 389.98 123.54 392.45 124.58 396.56 124.94 400.4 125.31 405.61 125.7 409.72 125.7 409.72 125.91 382.37 126.21 385.11 126.51 390.04 126.75 392.5 127.79 396.61 128.15 400.45 128.51 405.65 128.9 409.76 128.9 409.76 129.11 382.43 129.41 385.17 129.72 390.09 129.96 392.55 131 396.66 131.36 400.49 131.72 405.69 132.11 409.79 132.11 409.79 132.32 382.48 132.62 385.22 132.92 390.14 133.16 392.6 134.21 396.7 134.57 400.53 134.93 405.72 135.32 409.82 135.32 409.82 135.53 382.53 135.83 385.26 136.13 390.18 136.37 392.64 137.42 396.73 137.78 400.56 138.14 405.75 138.53 409.84 138.53 409.84 138.74 382.58 139.04 385.31 139.34 390.22 139.58 392.67 140.62 396.77 140.99 400.59 141.35 405.77 141.74 409.86 141.74 409.86 141.95 382.62 142.25 385.34 142.55 390.25 142.79 392.7 143.84 396.79 144.2 400.61 144.56 405.79 144.95 409.88 144.95 409.88 145.16 382.65 145.46 385.38 145.76 390.28 146 392.73 147.05 396.82 147.41 400.63 147.77 405.81 148.16 409.9 148.16 409.9 148.37 382.68 148.67 385.41 148.97 390.31 149.21 392.76 150.26 396.84 150.62 400.65 150.98 405.83 151.37 409.91 151.37 409.91 151.58 382.71 151.88 385.43 152.18 390.33 152.42 392.78 153.47 396.86 153.83 400.67 154.19 405.84 154.58 409.92 154.58 409.92 154.79 382.74 155.09 385.46 155.39 390.35 155.63 392.8 156.68 396.88 157.04 400.69 157.4 405.85 157.79 409.93 157.79 409.93 158 382.76 158.3 385.48 158.6 390.37 158.84 392.82 159.89 396.89 160.25 400.7 160.61 405.86 161 409.94 161 409.94 161.21 382.78 161.51 385.5 161.81 390.39 162.05 392.83 163.1 396.91 163.46 400.71 163.82 405.87 164.21 409.95 164.21 409.95 164.42 382.8 164.72 385.51 165.02 390.4 165.26 392.85 166.31 396.92 166.67 400.72 167.03 405.88 167.42 409.95 167.42 409.95 167.63 382.82 167.93 385.53 168.23 390.42 168.47 392.86 169.51 396.93 169.87 400.73 170.24 405.89 170.63 409.96 170.63 409.96 170.84 382.83 171.14 385.54 171.44 390.43 171.68 392.87 172.72 396.94 173.08 400.74 173.44 405.89 173.83 409.96 173.83 409.96 174.04 382.84 174.35 385.56 174.65 390.44 174.89 392.88 175.93 396.95 176.29 400.75 176.65 405.9 177.04 409.97 177.04 409.97 177.25 382.86 177.55 385.57 177.85 390.45 178.09 392.89 179.13 396.96 179.49 400.75 179.85 405.9 180.24 409.97 180.24 409.97 180.45 382.87 180.76 385.58 181.06 390.46 181.3 392.9 182.33 396.96 182.7 400.76 183.06 405.91 183.45 409.97 183.45 409.97 183.66 382.88 183.96 385.59 184.26 390.46 184.5 392.9 185.54 396.97 185.9 400.76 186.26 405.91 186.65 409.98 186.65 409.98 186.86 382.89 187.16 385.6 187.46 390.47 187.7 392.91 188.74 396.97 189.1 400.77 189.46 405.91 189.85 409.98 189.85 409.98 190.06 382.89 190.36 385.6 190.66 390.48 190.9 392.92 191.93 396.98 192.29 400.77 192.66 405.92 193.05 409.98 193.05 409.98 193.26 382.9 193.56 385.61 193.86 390.48 194.1 392.92 195.13 396.98 195.49 400.77 195.85 405.92 196.24 409.98 196.24 409.98 196.45 382.91 196.75 385.62 197.06 390.49 197.3 392.93 198.32 396.99 198.69 400.78 199.05 405.92 199.44 409.98 199.44 409.98 199.65 382.91 199.95 385.62 200.25 390.49 200.49 392.93 201.52 396.99 201.88 400.78 202.24 405.92 202.63 409.98 202.63 409.98 202.84 382.92 203.14 385.63 203.44 390.5 203.68 392.93 204.71 396.99 205.07 400.78 205.43 405.93 205.82 409.99 205.82 409.99 206.03 382.92 206.33 385.63 206.63 390.5 206.87 392.94 207.89 397 208.26 400.78 208.62 405.93 209.01 409.99 209.01 409.99 209.22 382.93 209.52 385.63 209.82 390.5 210.06 392.94 211.08 397 211.44 400.79 211.8 405.93 212.19 409.99 212.19 409.99 212.4 382.93 212.7 385.64 213.01 390.51 213.25 392.94 214.26 397 214.63 400.79 214.99 405.93 215.38 409.99 215.38 409.99 215.59 382.93 215.89 385.64 216.19 390.51 216.43 392.94 217.45 397 217.81 400.79 218.17 405.93 218.56 409.99 218.56 409.99 218.77 382.94 219.07 385.64 219.37 390.51 219.61 392.95 220.63 397 220.99 400.79 221.35 405.93 221.74 409.99 221.74 409.99 221.95 382.94 222.25 385.64 222.55 390.51 222.79 392.95 223.81 397.01 224.17 400.79 224.53 405.93 224.92 409.99 224.92 409.99 225.13 382.94 225.43 385.65 225.73 390.52 225.97 392.95 226.98 397.01 227.34 400.79 227.71 405.93 228.1 409.99 228.1 409.99 228.31 382.94 228.61 385.65 228.91 390.52 229.15 392.95 230.16 397.01 230.52 400.79 230.88 405.93 231.27 409.99 231.27 409.99 231.48 382.95 231.78 385.65 232.09 390.52 232.33 392.95 233.34 397.01 233.7 400.8 234.06 405.93 234.45 409.99 234.45 409.99 234.66 382.95 234.96 385.65 235.26 390.52 235.5 392.95 236.51 397.01 236.87 400.8 237.23 405.93 237.62 409.99 237.62 409.99 237.83 382.95 238.14 385.65 238.44 390.52 238.68 392.95 239.69 397.01 240.05 400.8 240.41 405.93 240.8 409.99 240.8 409.99 241.01 382.95 241.31 385.66 241.61 390.52 241.85 392.96 242.86 397.01 243.22 400.8 243.58 405.93 243.97 409.99 243.97 409.99 244.18 382.95 244.49 385.66 244.79 390.52 245.03 392.96 246.04 397.01 246.4 400.8 246.76 405.93 247.15 409.99 247.15 409.99 247.36 382.95 247.66 385.66 247.96 390.52 248.2 392.96 249.21 397.01 249.57 400.8 249.93 405.94 250.33 409.99 250.33 409.99 250.54 382.95 250.84 385.66 251.14 390.52 251.38 392.96 252.39 397.01 252.75 400.8 253.11 405.94 253.5 409.99 253.5 409.99 253.71 382.96 254.01 385.66 254.31 390.53 254.56 392.96 255.57 397.01 255.93 400.8 256.29 405.94 256.68 409.99 256.68 409.99 256.89 382.96 257.19 385.66 257.49 390.53 257.73 392.96 258.75 397.01 259.11 400.8 259.47 405.94 259.86 409.99 259.86 409.99 260.07 382.96 260.37 385.66 260.67 390.53 260.91 392.96 261.93 397.01 262.29 400.8 262.65 405.94 263.04 409.99 263.04 409.99 263.25 382.96 263.55 385.66 263.85 390.53 264.09 392.96 265.11 397.02 265.47 400.8 265.83 405.94 266.22 409.99 266.22 409.99 266.44 382.96 266.74 385.66 267.04 390.53 267.28 392.96 268.3 397.02 268.66 400.8 269.02 405.94 269.41 409.99 269.41 409.99 269.62 382.96 269.92 385.66 270.22 390.53 270.46 392.96 271.48 397.02 271.84 400.8 272.21 405.94 272.6 409.99 272.6 409.99 272.81 382.96 273.11 385.66 273.41 390.53 273.65 392.96 274.67 397.02 275.03 400.8 275.4 405.94 275.79 409.99 275.79 409.99 276 382.96 276.3 385.66 276.6 390.53 276.84 392.96 277.87 397.02 278.23 400.8 278.59 405.94 278.98 409.99 278.98 409.99 279.19 382.96 279.49 385.66 279.79 390.53 280.03 392.96 281.06 397.02 281.42 400.8 281.78 405.94 282.17 409.99 282.17 409.99 282.38 382.96 282.68 385.66 282.98 390.53 283.23 392.96 284.26 397.02 284.62 400.8 284.98 405.94 285.37 409.99 285.37 409.99 285.58 382.96 285.88 385.66 286.18 390.53 286.42 392.96 287.45 397.02 287.82 400.8 288.18 405.94 288.57 409.99 288.57 409.99 288.78 382.96 289.08 385.66 289.38 390.53 289.62 392.96 290.66 397.02 291.02 400.8 291.38 405.94 291.77 409.99 291.77 409.99 291.98 382.96 292.28 385.66 292.58 390.53 292.82 392.96 293.86 397.02 294.22 400.8 294.58 405.94 294.97 409.99 294.97 409.99 295.18 382.96 295.48 385.67 295.78 390.53 296.02 392.96 297.06 397.02 297.42 400.8 297.79 405.94 298.18 409.99 298.18 409.99 298.39 382.96 298.69 385.67 298.99 390.53 299.23 392.96 300.27 397.02 300.63 400.8 300.99 405.94 301.38 409.99 301.38 409.99 301.59 382.96 301.89 385.67 302.2 390.53 302.44 392.96 303.48 397.02 303.84 400.8 304.2 405.94 304.59 409.99 304.59 409.99 304.8 382.96 305.1 385.67 305.4 390.53 305.64 392.96 306.69 397.02 307.05 400.8 307.41 405.94 307.8 409.99 307.8 409.99 308.01 382.96 308.31 385.67 308.61 390.53 308.86 392.96 309.9 397.02 310.26 400.8 310.62 405.94 311.02 409.99 311.02 409.99 311.23 382.96 311.53 385.67 311.83 390.53 312.07 392.96 313.12 397.02 313.48 400.8 313.84 405.94 314.23 409.99 314.23 409.99 314.44 382.96 314.74 385.67 315.04 390.53 315.28 392.96 316.33 397.02 316.69 400.8 317.05 405.94 317.44 409.99 317.44 409.99 317.65 382.96 317.96 385.67 318.26 390.53 318.5 392.96 319.55 397.02 319.91 400.8 320.27 405.94 320.66 409.99 320.66 409.99 320.87 382.96 321.17 385.67 321.47 390.53 321.71 392.96 322.77 397.02 323.13 400.8 323.49 405.94 323.88 409.99 323.88 409.99 324.09 382.96 324.39 385.67 324.69 390.53 324.93 392.96 325.98 397.02 326.35 400.8 326.71 405.94 327.1 409.99 327.1 409.99 327.31 382.96 327.61 385.67 327.91 390.53 328.15 392.96 329.2 397.02 329.57 400.8 329.93 405.94 330.32 409.99 330.32 409.99 330.53 382.96 330.83 385.67 331.13 390.53 331.37 392.96 332.43 397.02 332.79 400.8 333.15 405.94 333.54 409.99 333.54 409.99 333.75 382.96 334.05 385.67 334.35 390.53 334.59 392.96 335.65 397.02 336.01 400.8 336.37 405.94 336.76 409.99 336.76 409.99 336.97 382.96 337.27 385.67 337.57 390.53 337.81 392.96 338.87 397.02 339.23 400.8 339.59 405.94 339.98 409.99 339.98 409.99 340.19 382.96 340.49 385.67 340.8 390.53 341.04 392.96 342.09 397.02 342.46 400.8 342.82 405.94 343.21 409.99 343.21 409.99 343.42 382.96 343.72 385.67 344.02 390.53 344.26 392.96" fill="none" stroke="#f00" stroke-width="0.85" stroke-dasharray="2.8 1.2" stroke-linejoin="round"/>
<rect x="28.5" y="372" width="331.0" height="40.8" fill="none" stroke="#707070" stroke-width="1.05"/>
<path d="M43.54 412.8v1.6 M103.7 412.8v1.6 M163.86 412.8v1.6 M224.02 412.8v1.6 M284.18 412.8v1.6 M344.34 412.8v1.6 M28.5 372h-1.6 M28.5 389.8h-1.6 M28.5 407.1h-1.6" stroke="#444" stroke-width="0.6"/>
<text x="43.54" y="420.4" font-size="5.3" text-anchor="middle" textLength="3.18" lengthAdjust="spacingAndGlyphs">0</text>
<text x="103.7" y="420.4" font-size="5.3" text-anchor="middle" textLength="9.54" lengthAdjust="spacingAndGlyphs">100</text>
<text x="163.86" y="420.4" font-size="5.3" text-anchor="middle" textLength="9.54" lengthAdjust="spacingAndGlyphs">200</text>
<text x="224.02" y="420.4" font-size="5.3" text-anchor="middle" textLength="9.54" lengthAdjust="spacingAndGlyphs">300</text>
<text x="284.18" y="420.4" font-size="5.3" text-anchor="middle" textLength="9.54" lengthAdjust="spacingAndGlyphs">400</text>
<text x="344.34" y="420.4" font-size="5.3" text-anchor="middle" textLength="9.54" lengthAdjust="spacingAndGlyphs">500</text>
<text x="25.2" y="373.85" font-size="5.3" text-anchor="end" textLength="7.95" lengthAdjust="spacingAndGlyphs">4.0</text>
<text x="25.2" y="391.65" font-size="5.3" text-anchor="end" textLength="7.95" lengthAdjust="spacingAndGlyphs">3.5</text>
<text x="25.2" y="408.95" font-size="5.3" text-anchor="end" textLength="7.95" lengthAdjust="spacingAndGlyphs">3.0</text>
<text x="28.6" y="370.2" font-size="5.3" textLength="13.63" lengthAdjust="spacingAndGlyphs">1e−1</text>
<text transform="translate(13.9 392.4) rotate(-90)" font-size="5.6" text-anchor="middle" fill="#111">[Ca]</text>
<clipPath id="c7"><rect x="28.5" y="429.25" width="331.0" height="40.8"/></clipPath>
<path clip-path="url(#c7)" d="M43.54 431.69 43.81 431.69 44.05 431.07 44.44 438.44 44.86 447.65 45.28 454.65 45.59 457.23 45.92 459.44 46.28 462.76 46.58 465.7 46.85 467.92 46.85 467.92 47.09 431.07 47.48 438.44 47.9 447.65 48.32 454.65 48.63 457.23 48.97 459.44 49.33 462.76 49.63 465.7 49.91 467.92 49.91 467.92 50.15 431.07 50.54 438.44 50.96 447.65 51.38 454.65 51.68 457.23 52.04 459.44 52.4 462.76 52.7 465.7 52.97 467.92 52.97 467.92 53.22 431.07 53.61 438.44 54.03 447.65 54.45 454.65 54.75 457.23 55.12 459.44 55.49 462.76 55.79 465.7 56.06 467.92 56.06 467.92 56.3 431.07 56.69 438.44 57.11 447.65 57.53 454.65 57.83 457.23 58.22 459.44 58.58 462.76 58.88 465.7 59.15 467.92 59.15 467.92 59.39 431.07 59.78 438.44 60.2 447.65 60.63 454.65 60.93 457.23 61.33 459.44 61.69 462.76 61.99 465.7 62.26 467.92 62.26 467.92 62.5 431.07 62.89 438.44 63.31 447.65 63.73 454.65 64.03 457.23 64.44 459.44 64.8 462.76 65.1 465.7 65.37 467.92 65.37 467.92 65.61 431.07 66.01 438.44 66.43 447.65 66.85 454.65 67.15 457.23 67.57 459.44 67.93 462.76 68.23 465.7 68.5 467.92 68.5 467.92 68.74 431.07 69.13 438.44 69.55 447.65 69.97 454.65 70.27 457.23 70.7 459.44 71.06 462.76 71.36 465.7 71.63 467.92 71.63 467.92 71.87 431.07 72.27 438.44 72.69 447.65 73.11 454.65 73.41 457.23 73.84 459.44 74.2 462.76 74.51 465.7 74.78 467.92 74.78 467.92 75.02 431.07 75.41 438.44 75.83 447.65 76.25 454.65 76.55 457.23 76.99 459.44 77.35 462.76 77.65 465.7 77.93 467.92 77.93 467.92 78.17 431.07 78.56 438.44 78.98 447.65 79.4 454.65 79.7 457.23 80.15 459.44 80.51 462.76 80.81 465.7 81.08 467.92 81.08 467.92 81.32 431.07 81.71 438.44 82.13 447.65 82.56 454.65 82.86 457.23 83.31 459.44 83.67 462.76 83.97 465.7 84.24 467.92 84.24 467.92 84.49 431.07 84.88 438.44 85.3 447.65 85.72 454.65 86.02 457.23 86.48 459.44 86.84 462.76 87.14 465.7 87.41 467.92 87.41 467.92 87.65 431.07 88.04 438.44 88.47 447.65 88.89 454.65 89.19 457.23 89.65 459.44 90.01 462.76 90.32 465.7 90.59 467.92 90.59 467.92 90.83 431.07 91.22 438.44 91.64 447.65 92.06 454.65 92.36 457.23 92.83 459.44 93.19 462.76 93.49 465.7 93.76 467.92 93.76 467.92 94.01 431.07 94.4 438.44 94.82 447.65 95.24 454.65 95.54 457.23 96.01 459.44 96.38 462.76 96.68 465.7 96.95 467.92 96.95 467.92 97.19 431.07 97.58 438.44 98 447.65 98.42 454.65 98.72 457.23 99.2 459.44 99.56 462.76 99.86 465.7 100.13 467.92 100.13 467.92 100.37 431.07 100.77 438.44 101.19 447.65 101.61 454.65 101.91 457.23 102.39 459.44 102.75 462.76 103.05 465.7 103.32 467.92 103.32 467.92 103.57 431.07 103.96 438.44 104.38 447.65 104.8 454.65 105.1 457.23 105.59 459.44 105.95 462.76 106.25 465.7 106.52 467.92 106.52 467.92 106.76 431.07 107.15 438.44 107.57 447.65 107.99 454.65 108.29 457.23 108.78 459.44 109.14 462.76 109.44 465.7 109.72 467.92 109.72 467.92 109.96 431.07 110.35 438.44 110.77 447.65 111.19 454.65 111.49 457.23 111.98 459.44 112.34 462.76 112.64 465.7 112.92 467.92 112.92 467.92 113.16 431.07 113.55 438.44 113.97 447.65 114.39 454.65 114.69 457.23 115.19 459.44 115.55 462.76 115.85 465.7 116.12 467.92 116.12 467.92 116.36 431.07 116.75 438.44 117.17 447.65 117.59 454.65 117.89 457.23 118.39 459.44 118.75 462.76 119.05 465.7 119.32 467.92 119.32 467.92 119.56 431.07 119.95 438.44 120.38 447.65 120.8 454.65 121.1 457.23 121.6 459.44 121.96 462.76 122.26 465.7 122.53 467.92 122.53 467.92 122.77 431.07 123.16 438.44 123.58 447.65 124 454.65 124.3 457.23 124.81 459.44 125.17 462.76 125.47 465.7 125.74 467.92 125.74 467.92 125.98 431.07 126.37 438.44 126.79 447.65 127.21 454.65 127.51 457.23 128.02 459.44 128.38 462.76 128.68 465.7 128.95 467.92 128.95 467.92 129.19 431.07 129.58 438.44 130 447.65 130.42 454.65 130.72 457.23 131.23 459.44 131.59 462.76 131.89 465.7 132.16 467.92 132.16 467.92 132.4 431.07 132.79 438.44 133.21 447.65 133.64 454.65 133.94 457.23 134.44 459.44 134.8 462.76 135.11 465.7 135.38 467.92 135.38 467.92 135.62 431.07 136.01 438.44 136.43 447.65 136.85 454.65 137.15 457.23 137.66 459.44 138.02 462.76 138.32 465.7 138.59 467.92 138.59 467.92 138.83 431.07 139.22 438.44 139.64 447.65 140.07 454.65 140.37 457.23 140.88 459.44 141.24 462.76 141.54 465.7 141.81 467.92 141.81 467.92 142.05 431.07 142.44 438.44 142.86 447.65 143.28 454.65 143.58 457.23 144.09 459.44 144.45 462.76 144.76 465.7 145.03 467.92 145.03 467.92 145.27 431.07 145.66 438.44 146.08 447.65 146.5 454.65 146.8 457.23 147.31 459.44 147.67 462.76 147.97 465.7 148.25 467.92 148.25 467.92 148.49 431.07 148.88 438.44 149.3 447.65 149.72 454.65 150.02 457.23 150.53 459.44 150.89 462.76 151.19 465.7 151.47 467.92 151.47 467.92 151.71 431.07 152.1 438.44 152.52 447.65 152.94 454.65 153.24 457.23 153.75 459.44 154.11 462.76 154.42 465.7 154.69 467.92 154.69 467.92 154.93 431.07 155.32 438.44 155.74 447.65 156.16 454.65 156.46 457.23 156.98 459.44 157.34 462.76 157.64 465.7 157.91 467.92 157.91 467.92 158.15 431.07 158.54 438.44 158.96 447.65 159.38 454.65 159.68 457.23 160.2 459.44 160.56 462.76 160.86 465.7 161.13 467.92 161.13 467.92 161.37 431.07 161.76 438.44 162.18 447.65 162.6 454.65 162.91 457.23 163.42 459.44 163.78 462.76 164.08 465.7 164.35 467.92 164.35 467.92 164.59 431.07 164.99 438.44 165.41 447.65 165.83 454.65 166.13 457.23 166.65 459.44 167.01 462.76 167.31 465.7 167.58 467.92 167.58 467.92 167.82 431.07 168.21 438.44 168.63 447.65 169.05 454.65 169.35 457.23 169.87 459.44 170.23 462.76 170.53 465.7 170.8 467.92 170.8 467.92 171.04 431.07 171.43 438.44 171.85 447.65 172.28 454.65 172.58 457.23 173.09 459.44 173.46 462.76 173.76 465.7 174.03 467.92 174.03 467.92 174.27 431.07 174.66 438.44 175.08 447.65 175.5 454.65 175.8 457.23 176.32 459.44 176.68 462.76 176.98 465.7 177.25 467.92 177.25 467.92 177.49 431.07 177.88 438.44 178.31 447.65 178.73 454.65 179.03 457.23 179.55 459.44 179.91 462.76 180.21 465.7 180.48 467.92 180.48 467.92 180.72 431.07 181.11 438.44 181.53 447.65 181.95 454.65 182.25 457.23 182.77 459.44 183.13 462.76 183.43 465.7 183.7 467.92 183.7 467.92 183.95 431.07 184.34 438.44 184.76 447.65 185.18 454.65 185.48 457.23 186 459.44 186.36 462.76 186.66 465.7 186.93 467.92 186.93 467.92 187.17 431.07 187.56 438.44 187.98 447.65 188.41 454.65 188.71 457.23 189.23 459.44 189.59 462.76 189.89 465.7 190.16 467.92 190.16 467.92 190.4 431.07 190.79 438.44 191.21 447.65 191.63 454.65 191.93 457.23 192.45 459.44 192.81 462.76 193.11 465.7 193.39 467.92 193.39 467.92 193.63 431.07 194.02 438.44 194.44 447.65 194.86 454.65 195.16 457.23 195.68 459.44 196.04 462.76 196.34 465.7 196.61 467.92 196.61 467.92 196.85 431.07 197.24 438.44 197.67 447.65 198.09 454.65 198.39 457.23 198.91 459.44 199.27 462.76 199.57 465.7 199.84 467.92 199.84 467.92 200.08 431.07 200.47 438.44 200.89 447.65 201.31 454.65 201.62 457.23 202.14 459.44 202.5 462.76 202.8 465.7 203.07 467.92 203.07 467.92 203.31 431.07 203.7 438.44 204.12 447.65 204.54 454.65 204.84 457.23 205.36 459.44 205.73 462.76 206.03 465.7 206.3 467.92 206.3 467.92 206.54 431.07 206.93 438.44 207.35 447.65 207.77 454.65 208.07 457.23 208.59 459.44 208.95 462.76 209.25 465.7 209.53 467.92 209.53 467.92 209.77 431.07 210.16 438.44 210.58 447.65 211 454.65 211.3 457.23 211.82 459.44 212.18 462.76 212.48 465.7 212.75 467.92 212.75 467.92 212.99 431.07 213.39 438.44 213.81 447.65 214.23 454.65 214.53 457.23 215.05 459.44 215.41 462.76 215.71 465.7 215.98 467.92 215.98 467.92 216.22 431.07 216.61 438.44 217.04 447.65 217.46 454.65 217.76 457.23 218.28 459.44 218.64 462.76 218.94 465.7 219.21 467.92 219.21 467.92 219.45 431.07 219.84 438.44 220.26 447.65 220.69 454.65 220.99 457.23 221.51 459.44 221.87 462.76 222.17 465.7 222.44 467.92 222.44 467.92 222.68 431.07 223.07 438.44 223.49 447.65 223.92 454.65 224.22 457.23 224.74 459.44 225.1 462.76 225.4 465.7 225.67 467.92 225.67 467.92 225.91 431.07 226.3 438.44 226.72 447.65 227.14 454.65 227.45 457.23 227.97 459.44 228.33 462.76 228.63 465.7 228.9 467.92 228.9 467.92 229.14 431.07 229.53 438.44 229.95 447.65 230.37 454.65 230.67 457.23 231.2 459.44 231.56 462.76 231.86 465.7 232.13 467.92 232.13 467.92 232.37 431.07 232.76 438.44 233.18 447.65 233.6 454.65 233.9 457.23 234.43 459.44 234.79 462.76 235.09 465.7 235.36 467.92 235.36 467.92 235.6 431.07 235.99 438.44 236.41 447.65 236.83 454.65 237.13 457.23 237.66 459.44 238.02 462.76 238.32 465.7 238.59 467.92 238.59 467.92 238.83 431.07 239.22 438.44 239.64 447.65 240.06 454.65 240.36 457.23 240.89 459.44 241.25 462.76 241.55 465.7 241.82 467.92 241.82 467.92 242.06 431.07 242.45 438.44 242.87 447.65 243.29 454.65 243.59 457.23 244.12 459.44 244.48 462.76 244.78 465.7 245.05 467.92 245.05 467.92 245.29 431.07 245.68 438.44 246.1 447.65 246.52 454.65 246.82 457.23 247.35 459.44 247.71 462.76 248.01 465.7 248.28 467.92 248.28 467.92 248.52 431.07 248.91 438.44 249.33 447.65 249.75 454.65 250.05 457.23 250.58 459.44 250.94 462.76 251.24 465.7 251.51 467.92 251.51 467.92 251.75 431.07 252.14 438.44 252.56 447.65 252.98 454.65 253.28 457.23 253.81 459.44 254.17 462.76 254.47 465.7 254.74 467.92 254.74 467.92 254.98 431.07 255.37 438.44 255.79 447.65 256.21 454.65 256.51 457.23 257.04 459.44 257.4 462.76 257.7 465.7 257.97 467.92 257.97 467.92 258.21 431.07 258.6 438.44 259.02 447.65 259.44 454.65 259.74 457.23 260.27 459.44 260.63 462.76 260.93 465.7 261.2 467.92 261.2 467.92 261.44 431.07 261.83 438.44 262.25 447.65 262.67 454.65 262.97 457.23 263.5 459.44 263.86 462.76 264.16 465.7 264.43 467.92 264.43 467.92 264.67 431.07 265.06 438.44 265.48 447.65 265.9 454.65 266.2 457.23 266.73 459.44 267.09 462.76 267.39 465.7 267.66 467.92 267.66 467.92 267.9 431.07 268.29 438.44 268.71 447.65 269.13 454.65 269.43 457.23 269.96 459.44 270.32 462.76 270.62 465.7 270.89 467.92 270.89 467.92 271.13 431.07 271.52 438.44 271.94 447.65 272.36 454.65 272.66 457.23 273.19 459.44 273.55 462.76 273.85 465.7 274.12 467.92 274.12 467.92 274.36 431.07 274.75 438.44 275.17 447.65 275.59 454.65 275.89 457.23 276.42 459.44 276.78 462.76 277.08 465.7 277.35 467.92 277.35 467.92 277.59 431.07 277.98 438.44 278.4 447.65 278.82 454.65 279.12 457.23 279.65 459.44 280.01 462.76 280.31 465.7 280.58 467.92 280.58 467.92 280.82 431.07 281.21 438.44 281.63 447.65 282.05 454.65 282.35 457.23 282.88 459.44 283.24 462.76 283.54 465.7 283.81 467.92 283.81 467.92 284.05 431.07 284.44 438.44 284.86 447.65 285.28 454.65 285.58 457.23 286.11 459.44 286.47 462.76 286.77 465.7 287.04 467.92 287.04 467.92 287.28 431.07 287.67 438.44 288.09 447.65 288.51 454.65 288.81 457.23 289.34 459.44 289.7 462.76 290 465.7 290.27 467.92 290.27 467.92 290.51 431.07 290.9 438.44 291.32 447.65 291.74 454.65 292.04 457.23 292.57 459.44 292.93 462.76 293.23 465.7 293.5 467.92 293.5 467.92 293.74 431.07 294.13 438.44 294.55 447.65 294.97 454.65 295.28 457.23 295.8 459.44 296.16 462.76 296.46 465.7 296.73 467.92 296.73 467.92 296.97 431.07 297.36 438.44 297.78 447.65 298.2 454.65 298.51 457.23 299.03 459.44 299.39 462.76 299.69 465.7 299.96 467.92 299.96 467.92 300.2 431.07 300.59 438.44 301.01 447.65 301.44 454.65 301.74 457.23 302.26 459.44 302.62 462.76 302.92 465.7 303.19 467.92 303.19 467.92 303.43 431.07 303.82 438.44 304.24 447.65 304.67 454.65 304.97 457.23 305.49 459.44 305.85 462.76 306.15 465.7 306.42 467.92 306.42 467.92 306.66 431.07 307.05 438.44 307.48 447.65 307.9 454.65 308.2 457.23 308.72 459.44 309.08 462.76 309.38 465.7 309.65 467.92 309.65 467.92 309.89 431.07 310.28 438.44 310.71 447.65 311.13 454.65 311.43 457.23 311.95 459.44 312.31 462.76 312.61 465.7 312.88 467.92 312.88 467.92 313.12 431.07 313.51 438.44 313.94 447.65 314.36 454.65 314.66 457.23 315.18 459.44 315.54 462.76 315.84 465.7 316.11 467.92 316.11 467.92 316.35 431.07 316.75 438.44 317.17 447.65 317.59 454.65 317.89 457.23 318.41 459.44 318.77 462.76 319.07 465.7 319.34 467.92 319.34 467.92 319.58 431.07 319.98 438.44 320.4 447.65 320.82 454.65 321.12 457.23 321.64 459.44 322 462.76 322.3 465.7 322.57 467.92 322.57 467.92 322.82 431.07 323.21 438.44 323.63 447.65 324.05 454.65 324.35 457.23 324.87 459.44 325.23 462.76 325.53 465.7 325.81 467.92 325.81 467.92 326.05 431.07 326.44 438.44 326.86 447.65 327.28 454.65 327.58 457.23 328.1 459.44 328.46 462.76 328.76 465.7 329.04 467.92 329.04 467.92 329.28 431.07 329.67 438.44 330.09 447.65 330.51 454.65 330.81 457.23 331.33 459.44 331.69 462.76 332 465.7 332.27 467.92 332.27 467.92 332.51 431.07 332.9 438.44 333.32 447.65 333.74 454.65 334.04 457.23 334.56 459.44 334.93 462.76 335.23 465.7 335.5 467.92 335.5 467.92 335.74 431.07 336.13 438.44 336.55 447.65 336.97 454.65 337.27 457.23 337.79 459.44 338.16 462.76 338.46 465.7 338.73 467.92 338.73 467.92 338.97 431.07 339.36 438.44 339.78 447.65 340.2 454.65 340.5 457.23 341.03 459.44 341.39 462.76 341.69 465.7 341.96 467.92 341.96 467.92 342.2 431.07 342.59 438.44 343.01 447.65 343.43 454.65 343.73 457.23 344.26 459.44" fill="none" stroke="#00f" stroke-width="0.8" stroke-linejoin="round"/>
<path clip-path="url(#c7)" d="M43.54 431.69 43.81 431.69 44.05 431.07 44.44 438.44 44.86 447.65 45.28 454.65 45.58 457.23 45.91 459.44 46.28 462.76 46.58 465.7 46.85 467.92 46.85 467.92 47.09 431.07 47.48 438.44 47.9 447.65 48.32 454.65 48.62 457.23 48.97 459.44 49.33 462.76 49.63 465.7 49.9 467.92 49.9 467.92 50.14 431.07 50.53 438.44 50.95 447.65 51.38 454.65 51.68 457.23 52.04 459.44 52.4 462.76 52.7 465.7 52.97 467.92 52.97 467.92 53.21 431.07 53.6 438.44 54.02 447.65 54.44 454.65 54.75 457.23 55.12 459.44 55.48 462.76 55.78 465.7 56.05 467.92 56.05 467.92 56.29 431.07 56.68 438.44 57.11 447.65 57.53 454.65 57.83 457.23 58.21 459.44 58.58 462.76 58.88 465.7 59.15 467.92 59.15 467.92 59.39 431.07 59.78 438.44 60.2 447.65 60.62 454.65 60.92 457.23 61.32 459.44 61.68 462.76 61.98 465.7 62.25 467.92 62.25 467.92 62.49 431.07 62.88 438.44 63.31 447.65 63.73 454.65 64.03 457.23 64.44 459.44 64.8 462.76 65.1 465.7 65.37 467.92 65.37 467.92 65.61 431.07 66 438.44 66.42 447.65 66.84 454.65 67.14 457.23 67.56 459.44 67.92 462.76 68.22 465.7 68.49 467.92 68.49 467.92 68.73 431.07 69.12 438.44 69.55 447.65 69.97 454.65 70.27 457.23 70.69 459.44 71.05 462.76 71.36 465.7 71.63 467.92 71.63 467.92 71.87 431.07 72.26 438.44 72.68 447.65 73.1 454.65 73.4 457.23 73.84 459.44 74.2 462.76 74.5 465.7 74.77 467.92 74.77 467.92 75.01 431.07 75.4 438.44 75.82 447.65 76.24 454.65 76.54 457.23 76.98 459.44 77.35 462.76 77.65 465.7 77.92 467.92 77.92 467.92 78.16 431.07 78.55 438.44 78.97 447.65 79.39 454.65 79.69 457.23 80.14 459.44 80.5 462.76 80.8 465.7 81.07 467.92 81.07 467.92 81.31 431.07 81.7 438.44 82.13 447.65 82.55 454.65 82.85 457.23 83.3 459.44 83.66 462.76 83.96 465.7 84.23 467.92 84.23 467.92 84.47 431.07 84.87 438.44 85.29 447.65 85.71 454.65 86.01 457.23 86.47 459.44 86.83 462.76 87.13 465.7 87.4 467.92 87.4 467.92 87.64 431.07 88.03 438.44 88.45 447.65 88.87 454.65 89.18 457.23 89.64 459.44 90 462.76 90.3 465.7 90.57 467.92 90.57 467.92 90.81 431.07 91.2 438.44 91.63 447.65 92.05 454.65 92.35 457.23 92.82 459.44 93.18 462.76 93.48 465.7 93.75 467.92 93.75 467.92 93.99 431.07 94.38 438.44 94.8 447.65 95.22 454.65 95.52 457.23 96 459.44 96.36 462.76 96.66 465.7 96.93 467.92 96.93 467.92 97.17 431.07 97.56 438.44 97.98 447.65 98.41 454.65 98.71 457.23 99.18 459.44 99.54 462.76 99.85 465.7 100.12 467.92 100.12 467.92 100.36 431.07 100.75 438.44 101.17 447.65 101.59 454.65 101.89 457.23 102.37 459.44 102.73 462.76 103.03 465.7 103.3 467.92 103.3 467.92 103.55 431.07 103.94 438.44 104.36 447.65 104.78 454.65 105.08 457.23 105.56 459.44 105.92 462.76 106.23 465.7 106.5 467.92 106.5 467.92 106.74 431.07 107.13 438.44 107.55 447.65 107.97 454.65 108.27 457.23 108.76 459.44 109.12 462.76 109.42 465.7 109.69 467.92 109.69 467.92 109.93 431.07 110.32 438.44 110.74 447.65 111.16 454.65 111.47 457.23 111.96 459.44 112.32 462.76 112.62 465.7 112.89 467.92 112.89 467.92 113.13 431.07 113.52 438.44 113.94 447.65 114.36 454.65 114.66 457.23 115.15 459.44 115.52 462.76 115.82 465.7 116.09 467.92 116.09 467.92 116.33 431.07 116.72 438.44 117.14 447.65 117.56 454.65 117.86 457.23 118.36 459.44 118.72 462.76 119.02 465.7 119.29 467.92 119.29 467.92 119.53 431.07 119.92 438.44 120.34 447.65 120.76 454.65 121.06 457.23 121.56 459.44 121.92 462.76 122.22 465.7 122.49 467.92 122.49 467.92 122.73 431.07 123.12 438.44 123.54 447.65 123.97 454.65 124.27 457.23 124.76 459.44 125.13 462.76 125.43 465.7 125.7 467.92 125.7 467.92 125.94 431.07 126.33 438.44 126.75 447.65 127.17 454.65 127.47 457.23 127.97 459.44 128.33 462.76 128.63 465.7 128.9 467.92 128.9 467.92 129.14 431.07 129.53 438.44 129.96 447.65 130.38 454.65 130.68 457.23 131.18 459.44 131.54 462.76 131.84 465.7 132.11 467.92 132.11 467.92 132.35 431.07 132.74 438.44 133.16 447.65 133.58 454.65 133.89 457.23 134.39 459.44 134.75 462.76 135.05 465.7 135.32 467.92 135.32 467.92 135.56 431.07 135.95 438.44 136.37 447.65 136.79 454.65 137.09 457.23 137.6 459.44 137.96 462.76 138.26 465.7 138.53 467.92 138.53 467.92 138.77 431.07 139.16 438.44 139.58 447.65 140 454.65 140.3 457.23 140.81 459.44 141.17 462.76 141.47 465.7 141.74 467.92 141.74 467.92 141.98 431.07 142.37 438.44 142.79 447.65 143.21 454.65 143.51 457.23 144.02 459.44 144.38 462.76 144.68 465.7 144.95 467.92 144.95 467.92 145.19 431.07 145.58 438.44 146 447.65 146.42 454.65 146.72 457.23 147.23 459.44 147.59 462.76 147.89 465.7 148.16 467.92 148.16 467.92 148.4 431.07 148.79 438.44 149.21 447.65 149.63 454.65 149.93 457.23 150.44 459.44 150.8 462.76 151.1 465.7 151.37 467.92 151.37 467.92 151.61 431.07 152 438.44 152.42 447.65 152.84 454.65 153.14 457.23 153.65 459.44 154.01 462.76 154.31 465.7 154.58 467.92 154.58 467.92 154.82 431.07 155.21 438.44 155.63 447.65 156.05 454.65 156.35 457.23 156.86 459.44 157.22 462.76 157.52 465.7 157.79 467.92 157.79 467.92 158.03 431.07 158.42 438.44 158.84 447.65 159.26 454.65 159.57 457.23 160.07 459.44 160.43 462.76 160.73 465.7 161 467.92 161 467.92 161.24 431.07 161.63 438.44 162.05 447.65 162.47 454.65 162.78 457.23 163.28 459.44 163.64 462.76 163.94 465.7 164.21 467.92 164.21 467.92 164.45 431.07 164.84 438.44 165.26 447.65 165.68 454.65 165.98 457.23 166.49 459.44 166.85 462.76 167.15 465.7 167.42 467.92 167.42 467.92 167.66 431.07 168.05 438.44 168.47 447.65 168.89 454.65 169.19 457.23 169.69 459.44 170.06 462.76 170.36 465.7 170.63 467.92 170.63 467.92 170.87 431.07 171.26 438.44 171.68 447.65 172.1 454.65 172.4 457.23 172.9 459.44 173.26 462.76 173.56 465.7 173.83 467.92 173.83 467.92 174.07 431.07 174.47 438.44 174.89 447.65 175.31 454.65 175.61 457.23 176.11 459.44 176.47 462.76 176.77 465.7 177.04 467.92 177.04 467.92 177.28 431.07 177.67 438.44 178.09 447.65 178.51 454.65 178.81 457.23 179.31 459.44 179.67 462.76 179.97 465.7 180.24 467.92 180.24 467.92 180.48 431.07 180.88 438.44 181.3 447.65 181.72 454.65 182.02 457.23 182.51 459.44 182.88 462.76 183.18 465.7 183.45 467.92 183.45 467.92 183.69 431.07 184.08 438.44 184.5 447.65 184.92 454.65 185.22 457.23 185.72 459.44 186.08 462.76 186.38 465.7 186.65 467.92 186.65 467.92 186.89 431.07 187.28 438.44 187.7 447.65 188.12 454.65 188.42 457.23 188.92 459.44 189.28 462.76 189.58 465.7 189.85 467.92 189.85 467.92 190.09 431.07 190.48 438.44 190.9 447.65 191.32 454.65 191.62 457.23 192.11 459.44 192.48 462.76 192.78 465.7 193.05 467.92 193.05 467.92 193.29 431.07 193.68 438.44 194.1 447.65 194.52 454.65 194.82 457.23 195.31 459.44 195.67 462.76 195.97 465.7 196.24 467.92 196.24 467.92 196.48 431.07 196.87 438.44 197.3 447.65 197.72 454.65 198.02 457.23 198.5 459.44 198.87 462.76 199.17 465.7 199.44 467.92 199.44 467.92 199.68 431.07 200.07 438.44 200.49 447.65 200.91 454.65 201.21 457.23 201.7 459.44 202.06 462.76 202.36 465.7 202.63 467.92 202.63 467.92 202.87 431.07 203.26 438.44 203.68 447.65 204.1 454.65 204.4 457.23 204.89 459.44 205.25 462.76 205.55 465.7 205.82 467.92 205.82 467.92 206.06 431.07 206.45 438.44 206.87 447.65 207.29 454.65 207.59 457.23 208.07 459.44 208.44 462.76 208.74 465.7 209.01 467.92 209.01 467.92 209.25 431.07 209.64 438.44 210.06 447.65 210.48 454.65 210.78 457.23 211.26 459.44 211.62 462.76 211.92 465.7 212.19 467.92 212.19 467.92 212.43 431.07 212.83 438.44 213.25 447.65 213.67 454.65 213.97 457.23 214.45 459.44 214.81 462.76 215.11 465.7 215.38 467.92 215.38 467.92 215.62 431.07 216.01 438.44 216.43 447.65 216.85 454.65 217.15 457.23 217.63 459.44 217.99 462.76 218.29 465.7 218.56 467.92 218.56 467.92 218.8 431.07 219.19 438.44 219.61 447.65 220.03 454.65 220.33 457.23 220.81 459.44 221.17 462.76 221.47 465.7 221.74 467.92 221.74 467.92 221.98 431.07 222.37 438.44 222.79 447.65 223.21 454.65 223.52 457.23 223.99 459.44 224.35 462.76 224.65 465.7 224.92 467.92 224.92 467.92 225.16 431.07 225.55 438.44 225.97 447.65 226.39 454.65 226.69 457.23 227.16 459.44 227.53 462.76 227.83 465.7 228.1 467.92 228.1 467.92 228.34 431.07 228.73 438.44 229.15 447.65 229.57 454.65 229.87 457.23 230.34 459.44 230.7 462.76 231 465.7 231.27 467.92 231.27 467.92 231.51 431.07 231.91 438.44 232.33 447.65 232.75 454.65 233.05 457.23 233.52 459.44 233.88 462.76 234.18 465.7 234.45 467.92 234.45 467.92 234.69 431.07 235.08 438.44 235.5 447.65 235.92 454.65 236.22 457.23 236.69 459.44 237.05 462.76 237.35 465.7 237.62 467.92 237.62 467.92 237.86 431.07 238.26 438.44 238.68 447.65 239.1 454.65 239.4 457.23 239.87 459.44 240.23 462.76 240.53 465.7 240.8 467.92 240.8 467.92 241.04 431.07 241.43 438.44 241.85 447.65 242.27 454.65 242.57 457.23 243.04 459.44 243.4 462.76 243.7 465.7 243.97 467.92 243.97 467.92 244.21 431.07 244.61 438.44 245.03 447.65 245.45 454.65 245.75 457.23 246.22 459.44 246.58 462.76 246.88 465.7 247.15 467.92 247.15 467.92 247.39 431.07 247.78 438.44 248.2 447.65 248.62 454.65 248.92 457.23 249.39 459.44 249.75 462.76 250.05 465.7 250.33 467.92 250.33 467.92 250.57 431.07 250.96 438.44 251.38 447.65 251.8 454.65 252.1 457.23 252.57 459.44 252.93 462.76 253.23 465.7 253.5 467.92 253.5 467.92 253.74 431.07 254.13 438.44 254.56 447.65 254.98 454.65 255.28 457.23 255.75 459.44 256.11 462.76 256.41 465.7 256.68 467.92 256.68 467.92 256.92 431.07 257.31 438.44 257.73 447.65 258.15 454.65 258.46 457.23 258.93 459.44 259.29 462.76 259.59 465.7 259.86 467.92 259.86 467.92 260.1 431.07 260.49 438.44 260.91 447.65 261.33 454.65 261.63 457.23 262.11 459.44 262.47 462.76 262.77 465.7 263.04 467.92 263.04 467.92 263.28 431.07 263.67 438.44 264.09 447.65 264.52 454.65 264.82 457.23 265.29 459.44 265.65 462.76 265.95 465.7 266.22 467.92 266.22 467.92 266.47 431.07 266.86 438.44 267.28 447.65 267.7 454.65 268 457.23 268.48 459.44 268.84 462.76 269.14 465.7 269.41 467.92 269.41 467.92 269.65 431.07 270.04 438.44 270.46 447.65 270.88 454.65 271.18 457.23 271.66 459.44 272.03 462.76 272.33 465.7 272.6 467.92 272.6 467.92 272.84 431.07 273.23 438.44 273.65 447.65 274.07 454.65 274.37 457.23 274.85 459.44 275.21 462.76 275.52 465.7 275.79 467.92 275.79 467.92 276.03 431.07 276.42 438.44 276.84 447.65 277.26 454.65 277.56 457.23 278.05 459.44 278.41 462.76 278.71 465.7 278.98 467.92 278.98 467.92 279.22 431.07 279.61 438.44 280.03 447.65 280.45 454.65 280.75 457.23 281.24 459.44 281.6 462.76 281.9 465.7 282.17 467.92 282.17 467.92 282.41 431.07 282.8 438.44 283.23 447.65 283.65 454.65 283.95 457.23 284.44 459.44 284.8 462.76 285.1 465.7 285.37 467.92 285.37 467.92 285.61 431.07 286 438.44 286.42 447.65 286.84 454.65 287.14 457.23 287.63 459.44 288 462.76 288.3 465.7 288.57 467.92 288.57 467.92 288.81 431.07 289.2 438.44 289.62 447.65 290.04 454.65 290.34 457.23 290.84 459.44 291.2 462.76 291.5 465.7 291.77 467.92 291.77 467.92 292.01 431.07 292.4 438.44 292.82 447.65 293.24 454.65 293.54 457.23 294.04 459.44 294.4 462.76 294.7 465.7 294.97 467.92 294.97 467.92 295.21 431.07 295.6 438.44 296.02 447.65 296.45 454.65 296.75 457.23 297.24 459.44 297.6 462.76 297.91 465.7 298.18 467.92 298.18 467.92 298.42 431.07 298.81 438.44 299.23 447.65 299.65 454.65 299.95 457.23 300.45 459.44 300.81 462.76 301.11 465.7 301.38 467.92 301.38 467.92 301.62 431.07 302.01 438.44 302.44 447.65 302.86 454.65 303.16 457.23 303.66 459.44 304.02 462.76 304.32 465.7 304.59 467.92 304.59 467.92 304.83 431.07 305.22 438.44 305.64 447.65 306.07 454.65 306.37 457.23 306.87 459.44 307.23 462.76 307.53 465.7 307.8 467.92 307.8 467.92 308.04 431.07 308.43 438.44 308.86 447.65 309.28 454.65 309.58 457.23 310.08 459.44 310.44 462.76 310.74 465.7 311.02 467.92 311.02 467.92 311.26 431.07 311.65 438.44 312.07 447.65 312.49 454.65 312.79 457.23 313.3 459.44 313.66 462.76 313.96 465.7 314.23 467.92 314.23 467.92 314.47 431.07 314.86 438.44 315.28 447.65 315.7 454.65 316 457.23 316.51 459.44 316.87 462.76 317.17 465.7 317.44 467.92 317.44 467.92 317.68 431.07 318.08 438.44 318.5 447.65 318.92 454.65 319.22 457.23 319.73 459.44 320.09 462.76 320.39 465.7 320.66 467.92 320.66 467.92 320.9 431.07 321.29 438.44 321.71 447.65 322.13 454.65 322.44 457.23 322.95 459.44 323.31 462.76 323.61 465.7 323.88 467.92 323.88 467.92 324.12 431.07 324.51 438.44 324.93 447.65 325.35 454.65 325.65 457.23 326.17 459.44 326.53 462.76 326.83 465.7 327.1 467.92 327.1 467.92 327.34 431.07 327.73 438.44 328.15 447.65 328.57 454.65 328.87 457.23 329.39 459.44 329.75 462.76 330.05 465.7 330.32 467.92 330.32 467.92 330.56 431.07 330.95 438.44 331.37 447.65 331.79 454.65 332.09 457.23 332.61 459.44 332.97 462.76 333.27 465.7 333.54 467.92 333.54 467.92 333.78 431.07 334.17 438.44 334.59 447.65 335.01 454.65 335.31 457.23 335.83 459.44 336.19 462.76 336.49 465.7 336.76 467.92 336.76 467.92 337 431.07 337.39 438.44 337.81 447.65 338.23 454.65 338.54 457.23 339.05 459.44 339.41 462.76 339.71 465.7 339.98 467.92 339.98 467.92 340.22 431.07 340.62 438.44 341.04 447.65 341.46 454.65 341.76 457.23 342.27 459.44 342.64 462.76 342.94 465.7 343.21 467.92 343.21 467.92 343.45 431.07 343.84 438.44 344.26 447.65" fill="none" stroke="#f00" stroke-width="0.8" stroke-dasharray="2.8 1.2" stroke-linejoin="round"/>
<rect x="28.5" y="429.25" width="331.0" height="40.8" fill="none" stroke="#707070" stroke-width="1.05"/>
<path d="M43.54 470.05v1.6 M103.7 470.05v1.6 M163.86 470.05v1.6 M224.02 470.05v1.6 M284.18 470.05v1.6 M344.34 470.05v1.6 M28.5 437.9h-1.6 M28.5 458.6h-1.6" stroke="#444" stroke-width="0.6"/>
<text x="43.54" y="477.65" font-size="5.3" text-anchor="middle" textLength="3.18" lengthAdjust="spacingAndGlyphs">0</text>
<text x="103.7" y="477.65" font-size="5.3" text-anchor="middle" textLength="9.54" lengthAdjust="spacingAndGlyphs">100</text>
<text x="163.86" y="477.65" font-size="5.3" text-anchor="middle" textLength="9.54" lengthAdjust="spacingAndGlyphs">200</text>
<text x="224.02" y="477.65" font-size="5.3" text-anchor="middle" textLength="9.54" lengthAdjust="spacingAndGlyphs">300</text>
<text x="284.18" y="477.65" font-size="5.3" text-anchor="middle" textLength="9.54" lengthAdjust="spacingAndGlyphs">400</text>
<text x="344.34" y="477.65" font-size="5.3" text-anchor="middle" textLength="9.54" lengthAdjust="spacingAndGlyphs">500</text>
<text x="25.2" y="439.75" font-size="5.3" text-anchor="end" textLength="3.18" lengthAdjust="spacingAndGlyphs">2</text>
<text x="25.2" y="460.45" font-size="5.3" text-anchor="end" textLength="3.18" lengthAdjust="spacingAndGlyphs">1</text>
<text x="28.6" y="427.45" font-size="5.3" textLength="13.63" lengthAdjust="spacingAndGlyphs">1e−1</text>
<text transform="translate(19.4 449.65) rotate(-90)" font-size="5.6" text-anchor="middle" fill="#111"><tspan font-style="italic">c</tspan><tspan font-size="3.92" dy="1.2" font-style="italic">Ca</tspan></text>
<clipPath id="c8"><rect x="28.5" y="486.5" width="331.0" height="40.8"/></clipPath>
<path clip-path="url(#c8)" d="M43.54 522.27 46.55 521.37 49.56 520.5 52.56 519.63 55.57 518.79 58.58 517.97 61.59 517.16 64.6 516.38 67.6 515.62 70.61 514.88 73.62 514.16 76.63 513.47 79.64 512.81 82.64 512.17 85.65 511.57 88.66 510.99 91.67 510.43 94.68 509.92 97.68 509.43 100.69 508.97 103.7 508.55 106.71 508.15 109.72 507.78 112.72 507.42 115.73 507.09 118.74 506.77 121.75 506.46 124.76 506.16 127.76 505.87 130.77 505.58 133.78 505.29 136.79 504.99 139.8 504.69 142.8 504.39 145.81 504.07 148.82 503.73 151.83 503.39 154.84 503.02 157.84 502.65 160.85 502.27 163.86 501.88 166.87 501.48 169.88 501.09 172.88 500.69 175.89 500.3 178.9 499.92 181.91 499.54 184.92 499.17 187.92 498.81 190.93 498.47 193.94 498.15 196.95 497.84 199.96 497.56 202.96 497.29 205.97 497.03 208.98 496.78 211.99 496.53 215 496.29 218 496.05 221.01 495.82 224.02 495.6 227.03 495.38 230.04 495.16 233.04 494.95 236.05 494.74 239.06 494.54 242.07 494.34 245.08 494.14 248.08 493.95 251.09 493.75 254.1 493.56 257.11 493.37 260.12 493.19 263.12 493 266.13 492.81 269.14 492.63 272.15 492.44 275.16 492.26 278.16 492.07 281.17 491.88 284.18 491.69 287.19 491.5 290.2 491.31 293.2 491.12 296.21 490.93 299.22 490.74 302.23 490.55 305.24 490.37 308.24 490.18 311.25 490 314.26 489.81 317.27 489.63 320.28 489.45 323.28 489.27 326.29 489.09 329.3 488.92 332.31 488.74 335.32 488.56 338.32 488.39 341.33 488.22 344.34 488.05" fill="none" stroke="#00f" stroke-width="1.2" stroke-linejoin="round"/>
<path clip-path="url(#c8)" d="M43.54 522.27 43.78 522.26 44.14 515.43 44.62 519.19 45.16 520.56 46.82 522.26 46.82 521.14 47.18 513.48 47.66 517.69 48.2 519.22 49.87 521.14 49.87 519.5 50.23 512.29 50.71 516.26 51.26 517.7 52.94 519.5 52.94 518.5 53.3 511.24 53.78 515.23 54.32 516.68 56.02 518.5 56.02 517.93 56.38 510.14 56.87 514.43 57.41 515.99 59.12 517.93 59.12 516.71 59.48 509.47 59.96 513.45 60.5 514.9 62.22 516.71 62.22 516.27 62.58 508.43 63.06 512.74 63.61 514.31 65.34 516.27 65.34 515.47 65.7 507.57 66.18 511.91 66.72 513.49 68.46 515.47 68.46 515.23 68.82 506.84 69.31 511.45 69.85 513.13 71.6 515.23 71.6 514.61 71.96 505.9 72.44 510.69 72.98 512.43 74.74 514.61 74.74 514.32 75.1 505.29 75.58 510.26 76.12 512.06 77.89 514.32 77.89 514.12 78.25 505.29 78.73 510.15 79.27 511.91 81.04 514.12 81.04 513.8 81.4 504.99 81.88 509.83 82.43 511.6 84.2 513.8 84.2 513.03 84.56 504.07 85.05 509 85.59 510.79 87.37 513.03 87.37 513.2 87.73 504.18 88.21 509.14 88.75 510.95 90.54 513.2 90.54 512.82 90.9 503.4 91.39 508.58 91.93 510.46 93.72 512.82 93.72 512.34 94.08 503.12 94.56 508.19 95.1 510.04 96.9 512.34 96.9 512.33 97.26 503.38 97.74 508.3 98.28 510.09 100.09 512.33 100.09 512.32 100.45 503.13 100.93 508.18 101.47 510.02 103.27 512.32 103.27 512.1 103.64 502.61 104.12 507.83 104.66 509.72 106.47 512.1 106.47 512.21 106.83 502.71 107.31 507.94 107.85 509.84 109.66 512.21 109.66 511.7 110.02 502.74 110.5 507.67 111.04 509.46 112.86 511.7 112.86 511.6 113.22 501.87 113.7 507.22 114.24 509.17 116.06 511.6 116.06 511.42 116.42 502.18 116.9 507.26 117.44 509.11 119.26 511.42 119.26 511.63 119.62 501.9 120.1 507.25 120.64 509.2 122.46 511.63 122.46 511.51 122.82 501.47 123.3 506.99 123.85 509 125.67 511.51 125.67 511.42 126.03 501.96 126.51 507.17 127.05 509.06 128.87 511.42 128.87 511.25 129.23 501.73 129.72 506.97 130.26 508.87 132.08 511.25 132.08 511.4 132.44 501.45 132.92 506.92 133.46 508.91 135.29 511.4 135.29 511.79 135.65 501.36 136.13 507.1 136.67 509.18 138.5 511.79 138.5 511.29 138.86 501.54 139.34 506.9 139.88 508.85 141.71 511.29 141.71 511.36 142.07 501.52 142.55 506.93 143.09 508.9 144.92 511.36 144.92 511.57 145.28 501.42 145.76 507 146.3 509.03 148.13 511.57 148.13 511.66 148.49 501.41 148.97 507.05 149.51 509.1 151.34 511.66 151.34 511.21 151.7 501.42 152.18 506.81 152.72 508.77 154.55 511.21 154.55 511.25 154.91 500.95 155.39 506.62 155.93 508.68 157.76 511.25 157.76 511.01 158.12 501.63 158.6 506.79 159.14 508.66 160.97 511.01 160.97 511.07 161.33 501.19 161.81 506.62 162.35 508.6 164.18 511.07 164.18 511.58 164.54 501.39 165.02 507 165.56 509.04 167.39 511.58 167.39 511.45 167.75 501.62 168.23 507.02 168.77 508.99 170.6 511.45 170.6 511.22 170.96 500.87 171.44 506.56 171.98 508.63 173.8 511.22 173.8 511.37 174.16 500.91 174.65 506.66 175.19 508.75 177.01 511.37 177.01 511.1 177.37 501.52 177.85 506.79 178.39 508.7 180.21 511.1 180.21 510.98 180.58 501.11 181.06 506.54 181.6 508.51 183.42 510.98 183.42 510.92 183.78 501.01 184.26 506.46 184.8 508.44 186.62 510.92 186.62 511.05 186.98 501.32 187.46 506.67 188 508.62 189.82 511.05 189.82 511 190.18 500.81 190.66 506.41 191.2 508.45 193.02 511 193.02 510.96 193.38 501.22 193.86 506.58 194.4 508.52 196.21 510.96 196.21 511.03 196.57 501.17 197.06 506.59 197.6 508.57 199.41 511.03 199.41 511.49 199.77 501.54 200.25 507.01 200.79 509 202.6 511.49 202.6 511.51 202.96 501.41 203.44 506.96 203.98 508.98 205.79 511.51 205.79 511.45 206.15 501.15 206.63 506.81 207.17 508.87 208.98 511.45 208.98 511.06 209.34 501.11 209.82 506.58 210.36 508.57 212.16 511.06 212.16 511.26 212.52 501.01 213.01 506.65 213.55 508.7 215.35 511.26 215.35 511.34 215.71 501.17 216.19 506.76 216.73 508.8 218.53 511.34 218.53 511.02 218.89 501.22 219.37 506.61 219.91 508.57 221.71 511.02 221.71 511.43 222.07 500.79 222.55 506.64 223.09 508.77 224.89 511.43 224.89 511.04 225.25 501.24 225.73 506.63 226.27 508.59 228.07 511.04 228.07 511.29 228.43 501.1 228.91 506.7 229.45 508.74 231.24 511.29 231.24 511.13 231.6 501.36 232.09 506.73 232.63 508.69 234.42 511.13 234.42 511.55 234.78 501.37 235.26 506.97 235.8 509 237.59 511.55 237.59 510.99 237.96 501.42 238.44 506.69 238.98 508.6 240.77 510.99 240.77 511.22 241.13 501.38 241.61 506.79 242.15 508.76 243.94 511.22 243.94 511.4 244.3 501.4 244.79 506.9 245.33 508.9 247.12 511.4 247.12 511.26 247.48 501.4 247.96 506.82 248.5 508.8 250.3 511.26 250.3 511.53 250.66 501.45 251.14 506.99 251.68 509.01 253.47 511.53 253.47 511.43 253.83 501.12 254.31 506.79 254.86 508.85 256.65 511.43 256.65 511.51 257.01 501.52 257.49 507.01 258.03 509.01 259.83 511.51 259.83 511.23 260.19 501.19 260.67 506.71 261.21 508.72 263.01 511.23 263.01 511.05 263.37 501.5 263.85 506.75 264.39 508.66 266.19 511.05 266.19 511.26 266.56 501.2 267.04 506.73 267.58 508.75 269.38 511.26 269.38 511.53 269.74 500.72 270.22 506.66 270.76 508.83 272.57 511.53 272.57 511.39 272.93 501.46 273.41 506.92 273.95 508.91 275.76 511.39 275.76 511.21 276.12 501.4 276.6 506.8 277.14 508.76 278.95 511.21 278.95 511.11 279.31 501.24 279.79 506.67 280.33 508.64 282.14 511.11 282.14 511.46 282.5 501.49 282.98 506.98 283.53 508.97 285.34 511.46 285.34 511.03 285.7 501.3 286.18 506.65 286.72 508.6 288.54 511.03 288.54 510.99 288.9 501.14 289.38 506.56 289.92 508.53 291.74 510.99 291.74 510.88 292.1 501.28 292.58 506.56 293.12 508.48 294.94 510.88 294.94 511.37 295.3 501.31 295.78 506.84 296.32 508.86 298.15 511.37 298.15 510.97 298.51 501 298.99 506.48 299.53 508.48 301.35 510.97 301.35 511.3 301.71 501.46 302.2 506.87 302.74 508.84 304.56 511.3 304.56 511.06 304.92 500.71 305.4 506.4 305.95 508.47 307.77 511.06 307.77 511.13 308.13 501.53 308.61 506.81 309.16 508.73 310.98 511.13 310.98 511.53 311.35 501.46 311.83 507 312.37 509.01 314.2 511.53 314.2 511.43 314.56 501.51 315.04 506.96 315.58 508.95 317.41 511.43 317.41 511.51 317.78 500.98 318.26 506.77 318.8 508.88 320.63 511.51 320.63 510.91 320.99 501.37 321.47 506.61 322.01 508.52 323.85 510.91 323.85 510.86 324.21 501.13 324.69 506.48 325.23 508.42 327.07 510.86 327.07 510.98 327.43 500.75 327.91 506.38 328.45 508.42 330.29 510.98 330.29 510.88 330.65 501.51 331.13 506.66 331.67 508.54 333.51 510.88 333.51 511.33 333.87 501.02 334.35 506.69 334.89 508.75 336.73 511.33 336.73 510.88 337.09 501.46 337.57 506.64 338.11 508.52 339.95 510.88 339.95 511.34 340.31 500.81 340.8 506.6 341.34 508.71 343.18 511.34 343.18 511.47 343.54 501.2 344.02 506.85 344.34 506.85" fill="none" stroke="#f00" stroke-width="1.2" stroke-dasharray="2.8 1.2" stroke-linejoin="round"/>
<rect x="28.5" y="486.5" width="331.0" height="40.8" fill="none" stroke="#707070" stroke-width="1.05"/>
<path d="M43.54 527.3v1.6 M103.7 527.3v1.6 M163.86 527.3v1.6 M224.02 527.3v1.6 M284.18 527.3v1.6 M344.34 527.3v1.6 M28.5 500.4h-1.6 M28.5 514.6h-1.6" stroke="#444" stroke-width="0.6"/>
<text x="43.54" y="534.9" font-size="5.3" text-anchor="middle" textLength="3.18" lengthAdjust="spacingAndGlyphs">0</text>
<text x="103.7" y="534.9" font-size="5.3" text-anchor="middle" textLength="9.54" lengthAdjust="spacingAndGlyphs">100</text>
<text x="163.86" y="534.9" font-size="5.3" text-anchor="middle" textLength="9.54" lengthAdjust="spacingAndGlyphs">200</text>
<text x="224.02" y="534.9" font-size="5.3" text-anchor="middle" textLength="9.54" lengthAdjust="spacingAndGlyphs">300</text>
<text x="284.18" y="534.9" font-size="5.3" text-anchor="middle" textLength="9.54" lengthAdjust="spacingAndGlyphs">400</text>
<text x="344.34" y="534.9" font-size="5.3" text-anchor="middle" textLength="9.54" lengthAdjust="spacingAndGlyphs">500</text>
<text x="25.2" y="502.25" font-size="5.3" text-anchor="end" textLength="3.18" lengthAdjust="spacingAndGlyphs">6</text>
<text x="25.2" y="516.45" font-size="5.3" text-anchor="end" textLength="3.18" lengthAdjust="spacingAndGlyphs">5</text>
<text x="28.6" y="484.7" font-size="5.3" textLength="13.63" lengthAdjust="spacingAndGlyphs">1e−4</text>
<text transform="translate(19.4 506.9) rotate(-90)" font-size="5.6" text-anchor="middle" fill="#111"><tspan font-style="italic">q</tspan><tspan font-size="3.92" dy="1.2" font-style="italic">slow</tspan></text>
<text x="194.2" y="542" font-size="5.3" text-anchor="middle" textLength="25.36" lengthAdjust="spacingAndGlyphs">Time (ms)</text>
<rect x="304.3" y="5.8" width="55.7" height="16.7" rx="1" fill="#fff" fill-opacity="0.8" stroke="#d0d0d0" stroke-width="0.5"/>
<path d="M306.7 10.4H318.2" stroke="#00f" stroke-width="1.25"/>
<path d="M306.7 18H318.2" stroke="#f00" stroke-width="1.25" stroke-dasharray="2.8 1.2"/>
<text x="321.7" y="11.9" font-size="5.3" textLength="24.12" lengthAdjust="spacingAndGlyphs">HH Model</text>
<text x="321.7" y="20" font-size="5.3" textLength="35.79" lengthAdjust="spacingAndGlyphs">LSTM Network</text>
</g></svg>
</body></html>
